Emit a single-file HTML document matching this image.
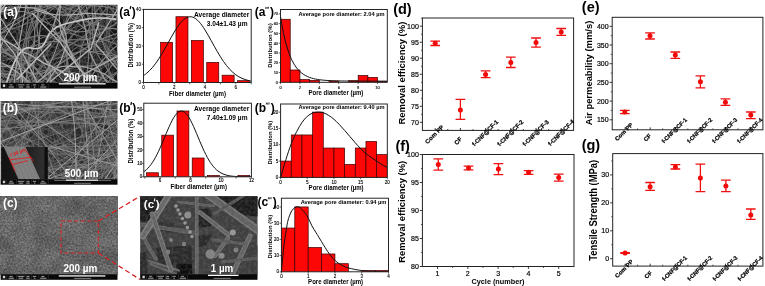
<!DOCTYPE html>
<html><head><meta charset="utf-8"><title>Figure</title>
<style>
html,body{margin:0;padding:0;background:#fff;}
body{width:765px;height:286px;overflow:hidden;font-family:"Liberation Sans",sans-serif;}
svg{display:block;}
svg text{font-family:"Liberation Sans",sans-serif;}
</style></head><body>
<svg width="765" height="286" viewBox="0 0 765 286" style="opacity:0.999">
<defs>
<clipPath id="clip1"><rect x="0.6" y="4.7" width="116.9" height="78.5"/></clipPath>
<filter id="b1" x="-5%" y="-5%" width="110%" height="110%"><feGaussianBlur stdDeviation="0.4"/></filter>
<clipPath id="clip2"><rect x="0.6" y="100.9" width="116.9" height="78.6"/></clipPath>
<filter id="b2" x="-5%" y="-5%" width="110%" height="110%"><feGaussianBlur stdDeviation="0.3"/></filter>
<clipPath id="inset"><rect x="1.2" y="147.1" width="46.6" height="32.5"/></clipPath>
<linearGradient id="insg" x1="0" y1="0" x2="1" y2="0"><stop offset="0" stop-color="#121212"/><stop offset="0.45" stop-color="#1a1a1a"/><stop offset="0.9" stop-color="#303030"/><stop offset="0.95" stop-color="#0c0c0c"/><stop offset="1" stop-color="#0c0c0c"/></linearGradient>
<filter id="noisec" x="0" y="0" width="100%" height="100%" color-interpolation-filters="sRGB"><feTurbulence type="fractalNoise" baseFrequency="0.55" numOctaves="3" seed="7" result="n"/><feColorMatrix in="n" type="matrix" values="0.36 0 0 0 0.25  0.36 0 0 0 0.25  0.36 0 0 0 0.25  0 0 0 0 1"/></filter>
<filter id="noisec2" x="0" y="0" width="100%" height="100%" color-interpolation-filters="sRGB"><feTurbulence type="fractalNoise" baseFrequency="0.06" numOctaves="2" seed="3" result="n"/><feColorMatrix in="n" type="matrix" values="0 0 0 0 0  0 0 0 0 0  0 0 0 0 0  -1.1 0 0 0 0.75"/></filter>
<clipPath id="clip4"><rect x="140.2" y="196.3" width="117.3" height="78.5"/></clipPath>
<filter id="b4" x="-5%" y="-5%" width="110%" height="110%"><feGaussianBlur stdDeviation="0.7"/></filter>
<filter id="noised" x="0" y="0" width="100%" height="100%" color-interpolation-filters="sRGB"><feTurbulence type="fractalNoise" baseFrequency="0.35" numOctaves="2" seed="11" result="n"/><feColorMatrix in="n" type="matrix" values="0 0 0 0 0.75  0 0 0 0 0.75  0 0 0 0 0.75  1.2 0 0 0 -0.42"/></filter>
<clipPath id="hc1"><rect x="143.5" y="9.4" width="107.7" height="73.1"/></clipPath>
<clipPath id="hc2"><rect x="143.8" y="103.2" width="107.6" height="73.6"/></clipPath>
<clipPath id="hc3"><rect x="280.5" y="9.5" width="106.8" height="72.8"/></clipPath>
<clipPath id="hc4"><rect x="280.6" y="104" width="106.7" height="73.4"/></clipPath>
<clipPath id="hc5"><rect x="281.4" y="198.2" width="107.1" height="73.6"/></clipPath>
</defs>
<rect width="765" height="286" fill="#fff"/>
<g clip-path="url(#clip1)">
<rect x="0.6" y="4.7" width="116.9" height="78.5" fill="#181818"/>
<g fill="none" stroke-linecap="round" stroke-linejoin="round" filter="url(#b1)">
<path d="M123.2 70Q120.9 67.4 118.5 64.8T113.4 60.1T107.8 55.8T102.2 51.7T96.2 48.1T89.6 46T82.7 45T75.8 45.4T69.5 48.2T64 52.5T59.2 57.6T55.4 63.4T52.4 69.7T49.5 76.1T46.3 82.3T43.6 88.7T42.4 95.6" stroke="#585858" stroke-width="0.73"/>
<path d="M7 -0.3Q5.2 2.7 4.2 6.1T1.6 12.5T-2.1 18.4T-5.6 24.4T-8.8 30.7" stroke="#535353" stroke-width="0.82"/>
<path d="M-4.2 29.7Q-1.1 28.2 2.2 26.8T8.7 24.3T15.3 22.1T21.9 19.6T28 16.3T33.2 11.7T37.7 6.4T41.9 0.8T44.7 -5.5" stroke="#3a3a3a" stroke-width="0.62"/>
<path d="M8.8 -2Q12 -0.6 15.5 -0.5T22.4 -0.9T29.3 -2.3T36.2 -3.3T43.2 -4.2T49.8 -6.3" stroke="#3f3f3f" stroke-width="0.69"/>
<path d="M38.6 88.1Q40.3 85.1 42.5 82.3T46.2 76.4T49.4 70.2T52.3 63.8T55.3 57.5T59.4 51.9T64.2 46.8T68.9 41.6T72.9 35.9T76.2 29.7T79 23.3T81 16.6T83.4 10.1T86.4 3.8T89 -2.7" stroke="#4f4f4f" stroke-width="0.89"/>
<path d="M39.5 -2.6Q36.1 -1.8 32.7 -0.9T26 1.1T19.2 2.2T12.2 2.6T5.2 3.1T-1.5 4.6T-7.4 8.2" stroke="#3d3d3d" stroke-width="0.74"/>
<path d="M104.6 -0Q103.4 3.2 102.4 6.6T101.6 13.4T102.4 20.4T104.6 27T108.1 33T111.8 38.9T115.6 44.8T121 48.9T127.7 50.6" stroke="#515151" stroke-width="0.7"/>
<path d="M60.9 0.2Q60.5 3.7 58.6 6.6T54 11.7T48.5 16.1T42.7 19.9T36.3 22.7T30 25.7T24.3 29.8T19 34.3T13.6 38.8T8.5 43.6T3.5 48.5T-1.5 53.4T-6.8 57.9" stroke="#3f3f3f" stroke-width="0.67"/>
<path d="M80.3 -2.6Q76.9 -1.9 73.5 -1.2T66.5 -0.2T59.7 1T52.8 2.1T45.8 2.7T38.9 3.3T31.9 3.9T25.1 5.4T18.3 6.8T11.3 7.4T4.3 7.9T-2.6 8.9T-9.5 10" stroke="#535353" stroke-width="0.78"/>
<path d="M-4.4 81.7Q-1.3 83.4 1.7 85.2T8.1 87.9T14.7 90.2T21.4 92.3" stroke="#4e4e4e" stroke-width="0.77"/>
<path d="M44 88.9Q41.4 86.5 38.8 84.2T34.1 79T29.5 73.9T24.5 69T19.4 64.2T14 59.8T8.5 55.4T2.4 52T-4.3 50.2T-10.8 48.1" stroke="#4f4f4f" stroke-width="0.83"/>
<path d="M-4.9 27.7Q-2.4 30.2 -0.3 33T4.3 38.2T8.9 43.5T12.9 49.2T16.1 55.4T19.3 61.6T24.6 65.4T31.3 67.4T38 69.3T44.8 70.8T51.7 71.7T58.5 70.5T65 68T71.5 65.2T77.9 62.4T83.9 58.9T89.3 54.5T94.2 49.6T97.9 43.7T100 37T100.9 30.1T100.8 23.1T101.1 16.3T101.1 9.4T99.7 2.6T98.9 -4.4" stroke="#4c4c4c" stroke-width="0.87"/>
<path d="M122 25.5Q118.5 25.1 115.1 25.5T108.1 26.2T101.2 25.8T94.3 24.4T87.5 22.9T80.8 20.8T74.2 18.6T67.7 16.1T61.7 12.6T56.5 7.8T52.4 2.2T48.6 -3.6" stroke="#4f4f4f" stroke-width="0.61"/>
<path d="M101.5 87.7Q101.5 84.2 101 80.7T101 73.8T102 66.9T103.5 60.1T106.3 53.7T109.8 47.7T114.5 42.5T120.1 38.4T125.9 34.5" stroke="#5f5f5f" stroke-width="0.74"/>
<path d="M22.6 88Q21.2 84.8 19.5 81.8T15.6 76T10.7 71T6.2 65.9T1.8 60.5T-3.5 55.9T-9.4 52.2" stroke="#414141" stroke-width="0.59"/>
<path d="M95.4 90.5Q91.9 89.9 88.9 88.2T82.4 85.7T75.6 84.2T68.7 83.3T61.7 82.6T54.7 82.1T47.7 81.7T40.7 81.3T33.7 81.1T26.7 81T19.8 80.3T12.9 79.4T6 80T-0.5 82.3T-6.9 85.3" stroke="#444444" stroke-width="0.87"/>
<path d="M96.5 87.8Q97.2 84.3 97.3 80.8T97.1 73.9T96.5 66.9T96.5 59.9T97.2 52.9T97.6 46T98.7 39.2T100.7 32.5T101.5 25.6T101.2 18.6T100.4 11.7T98.7 4.9T96.1 -1.5T92.7 -7.6" stroke="#3c3c3c" stroke-width="0.62"/>
<path d="M122.7 7.6Q119.8 9.7 117.1 11.9T112.3 16.8T107.5 21.9T102.4 26.7T98 32.1T95.2 38.4T94.9 45.3T94.9 52.3T94.7 59.2T95.4 66.2T97.1 73T99.7 79.5T102.9 85.6T106.4 91.7" stroke="#3b3b3b" stroke-width="0.82"/>
<path d="M75.7 0Q76.8 3.3 77.5 6.8T79.6 13.4T81.9 20T83.1 26.9T82.9 33.8T82.1 40.8T82.3 47.7T82.2 54.5T79.6 61T75.5 66.6T70.2 71T63.8 73.7T57 75.4T50.1 76.4T43.2 77.7T36.5 79.5T29.8 81.3T23.1 83.6T16.6 86T10 88.5T3.6 91.2T-2 95.3" stroke="#454545" stroke-width="0.63"/>
<path d="M57.9 88Q56.6 84.8 55.2 81.5T52.6 75T50.5 68.4T48.8 61.6T47.7 54.7T47.6 47.7T48 40.7T48.7 33.8T51 27.3T55.2 21.8T60.7 17.5T66.8 14.1T72.9 10.6T78.8 6.9T84.8 3.4T90.7 -0.4T96.3 -4.6" stroke="#545454" stroke-width="0.75"/>
<path d="M123.6 76.4Q121.8 79.3 119.8 82.2T115.3 87.5T110 92.1" stroke="#464646" stroke-width="0.8"/>
<path d="M-6.1 23.6Q-4.9 20.4 -3.7 17.1T-1.3 10.5T2 4.4T6.5 -0.9T11 -6.3" stroke="#464646" stroke-width="0.69"/>
<path d="M8 88.7Q5.5 86.2 2.8 84T-3 80.1T-8.9 76.4" stroke="#3d3d3d" stroke-width="0.71"/>
<path d="M-4.8 66.1Q-2.2 63.8 0.4 61.4T5.7 56.8T10.8 52.1T15.1 46.6T18.6 40.5T21.8 34.3T24.7 27.9T27.6 21.6T30.3 15.1T32.7 8.5T34.3 1.8T34.9 -5.2" stroke="#3f3f3f" stroke-width="0.72"/>
<path d="M80.1 -2.1Q76.8 -0.8 74.3 1.6T70.4 7.3T68.4 13.9T67.7 20.8T68.7 27.7T70.7 34.4T72.1 41.2T72.7 48.2T72.7 55.2T72 62.1T71 69.1T69.8 75.9T69.2 82.9T69.5 89.9" stroke="#5e5e5e" stroke-width="0.56"/>
<path d="M25.6 -0.3Q27.4 2.6 29.8 5.2T35.3 9.4T41.8 11.9T48.1 14.6T53.6 18.8T58.3 24T63.5 28.6T69.6 31.9T75.5 35.6T81.1 39.8T86.3 44.4T89.9 50.3T92 56.9T92.7 63.8T91.4 70.6T88.8 77.1T86.2 83.6T83.5 90T80.4 96.4" stroke="#5e5e5e" stroke-width="0.83"/>
<path d="M71.8 90Q68.5 88.8 65.6 86.7T60.2 82.3T54.8 77.9T49.8 73.1T45.3 67.7T41.2 62.1T37.3 56.2T33.5 50.4T29.5 44.6T25.4 38.9T21.5 33.1T17.5 27.4T14.3 21.3T12.6 14.5T12 7.5T11.8 0.5T12.2 -6.4" stroke="#4c4c4c" stroke-width="0.89"/>
<path d="M80.5 -3.1Q84 -2.9 87.5 -2.4T94.3 -0.8T100.4 2.3T105.6 7T110.1 12.3T114.4 17.9T118.5 23.5T122.4 29.4T125.6 35.6T128.4 41.9" stroke="#505050" stroke-width="0.8"/>
<path d="M-3.9 39.4Q-0.4 39 3 39.6T9.7 41.5T15.9 44.6T21.8 48.4T26.9 53.1T30.6 59T32.7 65.6T33.9 72.5T34.5 79.4T35.2 86.4T36.5 93.2" stroke="#464646" stroke-width="0.83"/>
<path d="M76.8 87.8Q75.9 84.5 74.2 81.4T71.4 75T68 68.9T64.2 63T61.1 56.8T58.9 50.2T57 43.5T55.3 36.7T55.3 29.8T56.2 22.8T57.5 15.9T59 9.1T61.1 2.5T63.1 -4.2" stroke="#474747" stroke-width="0.88"/>
<path d="M-5.6 28.6Q-3.9 31.6 -2.4 34.8T0.7 41.1T4.5 46.9T9.5 51.6T15.4 55.5T21.3 59.3T27.5 62.4T34.2 64.3T40.9 66.2T47.6 68.3T54.2 70.4T61 72.3T67.3 75T73.4 78.4T79.7 81.4T86.2 84.1T92.6 86.9T98.9 90T105 93.3" stroke="#5f5f5f" stroke-width="0.57"/>
<path d="M82.7 -0.6Q80.4 2 77.7 4.2T71.6 7.5T65.2 10.2T59.1 13.6T53.7 17.9T48.9 23T44 28.1T38.7 32.6T33.5 37.3T28 41.4T21.9 44.9T16.1 48.7T10.5 52.9T4.4 56.1T-2.4 58T-9.2 59.1" stroke="#606060" stroke-width="0.72"/>
<path d="M64.1 -0.4Q66.2 2.4 68.1 5.3T72.3 10.9T77.4 15.6T83 19.8T87.9 24.8T92.8 29.7T98 34.3T102.5 39.6T106.5 45.3T110.1 51.4T113 57.7T116 64T119 70.3T121.7 76.8T123.9 83.4T124.8 90.3" stroke="#4c4c4c" stroke-width="0.62"/>
<path d="M-4.5 74.1Q-1.6 76 1 78.4T5.9 83.4T10.9 88.3T16.7 92" stroke="#5f5f5f" stroke-width="0.89"/>
<path d="M33.6 -1.2Q30.8 0.9 27.7 2.6T21.3 5.2T14.8 7.8T8.3 10.1T1.4 10.9T-5.5 9.9T-12.2 7.9" stroke="#4e4e4e" stroke-width="0.59"/>
<path d="M112 89.1Q109.2 87 107.2 84.2T103.4 78.3T100.5 72T98.6 65.2T96.9 58.5T94.3 52T92.3 45.4T91.9 38.4T92.8 31.5T94.8 24.8T97.9 18.6T102.4 13.2T108 9.2T114.4 6.2T120.8 3.6T127 0.4" stroke="#3b3b3b" stroke-width="0.65"/>
<path d="M68.1 88.3Q66.1 85.4 63.7 82.8T59.7 77.2T56.1 71.2T51.8 65.7T46.5 61.2T41.8 56.2T38.2 50.2T34.6 44.1T30.5 38.5T25.5 33.6T19.6 30.1T13.1 27.5T7.1 24T1.2 20.3T-5.1 17.2T-11.5 14.3" stroke="#595959" stroke-width="0.82"/>
<path d="M123.2 9Q120.9 6.4 118.8 3.6T115 -2.2" stroke="#3c3c3c" stroke-width="0.69"/>
<path d="M-4.5 61.5Q-1.6 63.5 1.6 64.9T7.5 68.5T13.2 72.6T19.1 76.3T25.2 79.8T31.5 82.8T38.1 85T45 86.1T52 86.5T58.9 87.6T65.7 89T72.5 90.6T78.5 94" stroke="#404040" stroke-width="0.75"/>
<path d="M85.3 -0.1Q83.8 3 82.2 6.1T78.6 12.1T74.8 18T71 23.9T67.1 29.7T63 35.3T59.1 41.1T55.5 47.1T52.7 53.5T50.5 60.1T48.5 66.8T46.5 73.5T43.3 79.7T40.2 85.9T38.7 92.7" stroke="#535353" stroke-width="0.63"/>
<path d="M45.7 -1.3Q48.6 0.6 51.8 2T58.2 4.9T64.2 8.4T69.3 13.2T72.8 19.1T75.4 25.6T77.8 32.2T79.8 38.9T81.8 45.6T83.3 52.4T84.5 59.3T86.5 66T89.9 72.1T93.9 77.8T97 84T99.3 90.6" stroke="#454545" stroke-width="0.67"/>
<path d="M14 89.4Q11 87.6 8.3 85.3T2.9 80.9T-2.3 76.3T-7.7 71.8" stroke="#3e3e3e" stroke-width="0.82"/>
<path d="M-4.4 24.9Q-1.4 26.7 1.5 28.7T7 33.1T12.3 37.6T17.4 42.3T22.3 47.4T27.5 52T32.8 56.5T38 61.3T43.5 65.5T49.7 68.5T56.4 70.7T63.1 72.7T69.9 74.5T76.7 75.9T83.7 76.5T90.7 76.5T97.7 76.7T104.6 76.7T111.4 75.3T117.9 72.6T123.9 69.1T128.9 64.4" stroke="#525252" stroke-width="0.69"/>
<path d="M125.3 13.2Q125.1 16.7 124.6 20.1T123.6 27.1T123.1 34T123.4 41T124.4 47.9T126.1 54.7T129.2 60.9" stroke="#616161" stroke-width="0.55"/>
<path d="M123.7 68.3Q121.9 65.4 120.1 62.4T116.5 56.4T113.4 50.1T110.7 43.6T108.5 37T107.1 30.2T107.1 23.2T107.4 16.2T107.6 9.2T107.3 2.3T105.6 -4.5" stroke="#575757" stroke-width="0.86"/>
<path d="M93.7 -0.9Q91.1 1.5 89.4 4.6T85.5 10.3T81.5 16.1T78.3 22.3T75.3 28.6T72.3 34.9T69.8 41.4T67 47.8T62.9 53.5T57.2 57.2T50.5 58.9T43.5 59.3T36.6 58.5T29.7 57.2T22.8 56.4T15.9 57.3T9.1 59.1T2.5 61.1T-4 63.9T-10 67.3" stroke="#3f3f3f" stroke-width="0.61"/>
<path d="M104.8 -0.8Q107.3 1.7 110.2 3.7T116.1 7.3T122.4 10.5T128.3 14.1" stroke="#424242" stroke-width="0.8"/>
<path d="M123.9 61.7Q122.3 58.6 119.8 56.1T115 51T111 45.3T108 39T105.9 32.4T105.6 25.5T107.2 18.7T110 12.3T113.2 6T116.6 -0.1T121.4 -4.9" stroke="#464646" stroke-width="0.58"/>
<path d="M41.9 88.3Q43.9 85.4 46 82.7T50.8 77.5T55.7 72.6T59.6 66.9T62.7 60.6T66.1 54.5T68.8 48.1T70.7 41.3T71.7 34.5T71.5 27.5T71.2 20.5T70.7 13.5T69.8 6.6T68.8 -0.4T67.2 -7.2" stroke="#4d4d4d" stroke-width="0.66"/>
<path d="M109.3 0.1Q108.5 3.5 106.8 6.6T103.1 12.5T99.2 18.3T95.6 24.3T91.2 29.7T86.3 34.6T80.9 39T74.9 42.7T69 46.3T62.6 49.3T56.1 51.7T49.5 54.1T42.8 56.3T36 57.6T29 57.5T22.4 55.8T16.1 52.7T9.9 49.4T3.6 46.5T-3.1 44.3T-9.6 41.8" stroke="#595959" stroke-width="0.86"/>
<path d="M-4.1 9.1Q-0.8 8 2.5 6.6T9.1 4.6T15.8 2.5T22.4 0.5T29.4 -0.2T36.3 -0.4T43.3 -0.8T50.1 0.3T56.8 2.5T63.3 4.9T69.8 7.5T76.5 9.8T83.2 11.7T90 13.4T96.7 15.2T103.3 17.6T109.6 20.7T115.9 23.5T122.6 25.8T129 28.5" stroke="#3e3e3e" stroke-width="0.62"/>
<path d="M94 91Q90.6 90.9 87.1 90.2T80.2 89.2T73.2 88.7T66.5 89.9T60.1 92.8" stroke="#535353" stroke-width="0.58"/>
<path d="M122.1 65.6Q118.7 64.6 115.3 64.3T108.3 64.1T101.4 64.9T94.5 66.1T87.5 67.1T80.7 68.5T73.9 69.9T66.9 70.2T60 70.9T53.2 71.9T46.3 70.9T39.5 69.1T33.1 66.6T27.3 62.6T22.1 58T17 53.2T11.3 49.2T5.3 45.7T-1 42.7T-7.6 40.2" stroke="#484848" stroke-width="0.62"/>
<path d="M79.6 -0.3Q77.8 2.7 76.3 5.8T73.4 12.2T70.7 18.7T68.8 25.3T67.3 32.2T65.7 39T65 45.9T64.9 52.9T64.6 59.9T65.7 66.6T69.3 72.5T74.1 77.6T78.9 82.7T83.5 87.9T87.8 93.4" stroke="#555555" stroke-width="0.79"/>
<path d="M2.5 87.7Q2.7 84.2 2.6 80.7T3.2 73.8T3.9 66.8T3.7 59.8T3.7 52.9T4.6 46T4.8 39T4.5 32T3.8 25T3.3 18.1T4.1 11.2T5.9 4.4T8.1 -2.2" stroke="#4b4b4b" stroke-width="0.63"/>
<path d="M120.7 -2.6Q124.1 -1.9 127.5 -1.3" stroke="#616161" stroke-width="0.62"/>
<path d="M-4.1 71Q-0.8 72.1 2.2 73.9T8.4 77.2T14.7 80.2T20.7 83.8T26.2 88.2T30.7 93.4" stroke="#5d5d5d" stroke-width="0.59"/>
<path d="M122.3 45.3Q119.1 43.9 116.1 42.2T110.6 37.9T106.5 32.3T103.1 26.2T100.3 19.8T98 13.2T96 6.5T94.1 -0.3T92.4 -7" stroke="#5c5c5c" stroke-width="0.6"/>
<path d="M46.5 88.1Q44.8 85 43.5 81.8T42.2 75T41.6 68.1T41.5 61.2T42.7 54.3T45.8 48.2T49.4 42.3T52.6 36T56.4 30.2T61.3 25.4T67.6 22.3T73.7 19.1T79.4 15.1T85 10.9T90.5 6.5T95.6 1.8T100.3 -3.4" stroke="#4b4b4b" stroke-width="0.71"/>
<path d="M36.3 0.1Q35.7 3.6 35.4 7.1T34.7 14T33.3 20.9T30.7 27.3T28.2 33.8T27 40.7T25.6 47.5T23.4 54.1T20.2 60.2T15.6 65.5T10.7 70.5T5.7 75.4T0.5 80.1T-4.8 84.7T-9.4 89.8" stroke="#5f5f5f" stroke-width="0.78"/>
<path d="M-4.7 34.1Q-2 31.9 0.8 29.8T6.8 26.1T12.7 22.4T18.2 18.1T23.8 13.9T28.9 9.2T33.6 3.9T38.6 -0.9T43.9 -5.5" stroke="#4a4a4a" stroke-width="0.79"/>
<path d="M24 -2.1Q27.3 -0.9 30.6 0.3T37.2 2.6T43.8 5T50.1 8T56.8 9.7T63.8 9.6T70.4 7.7T76.4 4.2T82.2 0.3T87.7 -4.1" stroke="#5f5f5f" stroke-width="0.6"/>
<path d="M-6.6 38.4Q-5.8 35 -6.5 31.5T-8.4 24.8" stroke="#3e3e3e" stroke-width="0.81"/>
<path d="M93.7 89Q96.4 86.8 99.1 84.5T104.7 80.3T109.9 75.8T113.7 70T117.2 64T121.2 58.2T124.6 52.1T127.5 45.7" stroke="#3b3b3b" stroke-width="0.87"/>
<path d="M-4.5 36.3Q-1.6 38.3 1.8 39.2T8.7 40.1T15.6 39.9T22.5 38.7T29.4 37.4T36.3 36.9T43.3 36T50.1 34.6T56.9 33T63.6 31.1T70.2 28.7T76.9 26.8T83.8 25.6T90.5 23.6T96.8 20.5T102.8 16.9T108.7 13.2T115.2 10.9T122.1 9.6T128.9 8.3" stroke="#454545" stroke-width="0.64"/>
<path d="M34.8 90.9Q38.3 90.5 41.8 90.5T48.7 89.6T55.4 87.8T62.3 86.9T69.2 87.6T76 89.3T82.8 91.1T89.7 91.9T96.7 91.5T103.4 89.9T109.9 87.3T116.2 84.2T122.3 80.8T128.4 77.4" stroke="#505050" stroke-width="0.87"/>
<path d="M39.4 -2.7Q42.8 -2.1 45.9 -0.4T51.8 3.4T57 8T61.3 13.4T63.3 19.9T63 26.9T61.4 33.7T58.3 39.9T53.7 45T48.6 49.8T43.9 55T38.8 59.8T33.3 64.1T27.7 68.3T21.5 71.3T14.6 72.1T7.7 71.2T0.8 69.9T-5.9 68.2T-12.7 66.6" stroke="#505050" stroke-width="0.86"/>
<path d="M-8.3 74.6Q-9.2 71.2 -10.6 68" stroke="#5c5c5c" stroke-width="0.89"/>
<path d="M51.4 -0.7Q53.8 1.8 56.5 4T62 8.3T66.9 13.3T70.7 19.1T73.7 25.4T75.8 32.1T77.5 38.9T78.9 45.7T80.5 52.5T81.9 59.4T82.9 66.3T83.4 73.3T83.3 80.3T83.2 87.3T83.8 94.2" stroke="#505050" stroke-width="0.56"/>
<path d="M-4.8 20.6Q-2.3 18.2 0 15.5T4.3 10T8.1 4.1T11.6 -1.9T15.4 -7.8" stroke="#484848" stroke-width="0.87"/>
<path d="M122.2 84.4Q118.9 85.7 115.7 86.9T109.2 89.5T102.7 92.1" stroke="#3c3c3c" stroke-width="0.56"/>
<path d="M53 -1.2Q55.8 1 58.8 2.8T64.9 6.2T70.7 10.1T75.9 14.7T80.8 19.8T84.9 25.4T87.4 31.8T88.8 38.6T89.7 45.5T88.3 52.2T85.6 58.7T83.1 65.2T80.9 71.9T80.5 78.8T82.3 85.4T85.3 91.8" stroke="#545454" stroke-width="0.56"/>
<path d="M-5.9 84.4Q-4.3 87.6 -2.8 90.7" stroke="#5d5d5d" stroke-width="0.76"/>
<path d="M-5.3 54.9Q-3.3 57.7 -2.7 61.1T-2.4 68.1T-3 75.1T-3.7 82T-4.7 88.9T-6.2 95.8" stroke="#595959" stroke-width="0.72"/>
<path d="M57.5 -0.9Q60.1 1.5 62.3 4.1T67 9.4T71.9 14.4T76.5 19.7T81.2 24.9T86 29.9T90.9 34.9T96.1 39.6T101.6 43.9T107.3 48T113.1 51.8T119.1 55.4T125.4 58.5" stroke="#5f5f5f" stroke-width="0.65"/>
<path d="M78.2 -3.1Q81.7 -2.9 85.2 -2.8T92.1 -3.4T98.7 -5.6" stroke="#4d4d4d" stroke-width="0.85"/>
<path d="M122.6 11Q119.6 12.9 116.6 14.8T110.8 18.5T104.9 22.3T99.2 26.4T93.8 30.9T88.6 35.5T83.5 40.3T78 44.6T71.7 47.7T65.4 50.6T59.3 54T53.4 57.8T47.4 61.2T40.7 63.5T34.1 65.6T27.3 67.1T20.3 66.9T13.4 66.3T6.5 66.9T-0.2 68.9T-6.4 72.1T-12.4 75.6" stroke="#404040" stroke-width="0.64"/>
<path d="M-4.5 71.1Q-1.6 69.1 1.2 67T6.1 62.2T10 56.4T13.5 50.3T16.7 44.1T17.6 37.5T15.2 31T10.8 25.7T5.3 21.4T-0.5 17.5T-6.9 14.8" stroke="#555555" stroke-width="0.73"/>
<path d="M-4.6 43.4Q-1.7 45.4 1.2 47.4T6.7 51.6T11.9 56.4T16.8 61.3T21.8 66.3T26.4 71.5T30.6 77.1T34 83.2T35.8 89.9" stroke="#5f5f5f" stroke-width="0.68"/>
<path d="M123.9 33.5Q122.3 36.6 121.9 40.1T121.6 47.1T122.3 54T124.8 60.4T128.3 66.4" stroke="#555555" stroke-width="0.82"/>
<path d="M-4 50.1Q-0.5 49.4 2.8 50.5T9.4 52.7T16 55T22.8 56.9T29.3 59T35.6 62.2T41.3 66.2T46.1 71.3T49.2 77.3T50.7 84.2T51.8 91.1" stroke="#4d4d4d" stroke-width="0.82"/>
<path d="M45.4 88.5Q43.1 85.9 40.9 83.2T36.2 78T30.9 73.5T25.4 69.2T19.8 65T14.5 60.5T9.2 56T3 52.9T-3.2 49.8T-8.9 45.7" stroke="#4e4e4e" stroke-width="0.69"/>
<path d="M123.1 75.6Q120.8 78.1 118.1 80.4T112.9 85.1T107.9 90T102.6 94.5" stroke="#575757" stroke-width="0.77"/>
<path d="M122.1 55.8Q118.6 55.1 115.5 53.5T109.4 50.2T103.3 46.7T96.7 44.6T89.8 44.4T82.8 45.2T75.9 45.5T68.9 45.1T62 45.4T55.1 46.8T48.2 47.6T41.2 47.1T34.6 45T28.1 42.5T21.6 40T15.3 37.1T9.4 33.4T3.8 29.1T-2 25.3T-8.1 21.9" stroke="#404040" stroke-width="0.56"/>
<path d="M-4 68.9Q-0.5 69.6 2.4 71.5T7.6 76T12.6 80.9T18.2 85.2T24 89T29.9 92.8" stroke="#4b4b4b" stroke-width="0.56"/>
<path d="M-5.2 35.1Q-2.9 37.8 -0.6 40.4T4.1 45.6T8.8 50.7T14 55.5T19.6 59.6T25.3 63.6T30 68.7T33.9 74.5T37.8 80.3T41.1 86.4T44.5 92.6" stroke="#555555" stroke-width="0.56"/>
<path d="M-5.8 69.1Q-4.2 66 -2 63.2T2.7 58.1T8 53.5T12.9 48.6T16 42.4T17.8 35.7T19 28.8T19.5 21.8T19.7 14.8T18.7 8T16.3 1.5T13.9 -5.1" stroke="#5c5c5c" stroke-width="0.63"/>
<path d="M-3.9 9.3Q-0.4 9.3 3.1 9.4T10 8.9T16.9 7.7T23.5 5.4T28.9 1.1T32.7 -4.7" stroke="#4a4a4a" stroke-width="0.87"/>
<path d="M68.8 91.2Q72.3 91.1 75.7 91.9T82.4 93.9" stroke="#5e5e5e" stroke-width="0.65"/>
<path d="M4.6 -0.5Q6.7 2.3 8.1 5.5T11.4 11.7T15.3 17.5T19 23.4T22.7 29.3T27.1 34.7T32.4 39.2T38.5 42.7T45.1 44.8T51.9 46.4T58.5 48.7T64.5 52.2T70.2 56.3T75.9 60.3T80.9 65.2T85.6 70.3T91.1 74.6T97.6 77T104.1 79.2T110.4 82.3T116.8 85.1T123.5 87.3T130.3 88.9" stroke="#4e4e4e" stroke-width="0.9"/>
<path d="M66.1 -2.1Q69.3 -0.9 72.8 -0.4T79.7 0.9T86.6 1.9T93.6 2.2T100.6 2T107.5 1T114.2 -0.9T120.1 -4.5" stroke="#525252" stroke-width="0.55"/>
<path d="M73.4 88.5Q75.6 85.8 78.3 83.5T83.7 79.1T89.5 75.1T95.6 71.7T101.7 68.3T107.8 64.8T113.7 61.2T119.6 57.4T126 54.7" stroke="#5e5e5e" stroke-width="0.81"/>
<path d="M-4.1 55.7Q-0.8 56.8 2.6 57.7T9.5 59T16.5 59.5T23.4 59.2T30.4 58.6T37.3 57.6T44.2 56.2T51.1 55.6T58.1 54.9T65 54T72 53.1T78.8 51.6T85.6 50T92.5 49.5T99.5 49.6T106.5 50T113.4 51T120.3 51.6T127.3 51.8" stroke="#505050" stroke-width="0.63"/>
<path d="M60 89Q62.7 86.9 65.7 84.9T71.5 81.2T77.5 77.5T83.1 73.3T88.6 69T94.4 65.1T100.8 62.4T107.6 60.5T114.4 59T121 56.9T127.6 54.7" stroke="#434343" stroke-width="0.61"/>
<path d="M123.5 16.4Q121.5 19.2 119 21.7T113.9 26.5T109 31.5T104.5 36.8T99.8 42T94.6 46.7T88.8 50.6T82.9 54.3T77.4 58.6T72.1 63.2T67 68T63.6 73.9T61.2 80.5T58 86.7T54.9 92.9" stroke="#494949" stroke-width="0.85"/>
<path d="M-6.5 16.9Q-5.7 20.3 -4 23.4T-1.5 29.9T1.1 36.2T4.3 42.4T7.7 48.5T12.2 53.8T17.3 58.6T22.9 62.8T29 66.2T35.5 68.5T42.3 70.2T48.5 73.2T54.5 77T60.6 80.2T66.9 83.4T73.4 86T80.1 87.7T86.9 89.5T93.7 91.3T100.5 92.8" stroke="#565656" stroke-width="0.63"/>
<path d="M122.1 19.3Q118.6 20 115.1 20.2T108.2 20.2T101.2 20.4T94.7 22.6T89.8 27.2T85.8 33T82.4 39T80.3 45.7T78.3 52.3T75 58.5T70.9 64.2T66.1 69.2T60.6 73.6T55.1 77.9T49.9 82.5T45.5 87.9T41.5 93.7" stroke="#474747" stroke-width="0.58"/>
<path d="M-4.3 75.2Q-1.2 73.5 1.3 71.1T6.3 66.2T10.9 61T14.7 55.1T17.9 48.9T19.8 42.2T19.8 35.3T19.1 28.3T18.6 21.3T17.8 14.4T18 7.5T20.1 0.8T22.6 -5.7" stroke="#606060" stroke-width="0.79"/>
<path d="M123.9 55.2Q122.2 52.1 120 49.3T115.8 43.8T112 37.9T108.9 31.7T107.1 25T106.9 18T107.4 11T108.2 4.1T110 -2.7" stroke="#575757" stroke-width="0.75"/>
<path d="M26.4 87.8Q27.1 84.4 28.6 81.2T32.1 75.2T36.7 69.9T41.6 64.9T47 60.6T52.9 56.8T58.5 52.7T63.4 47.7T68.3 42.7T74.2 39.3T81.1 38.5T88 38.9T94.7 40.6T100.6 44.3T105.6 49.2T108.8 55.2T110.5 62T111.9 68.9T112.7 75.8T113.5 82.8T114.7 89.7T116.4 96.4" stroke="#3d3d3d" stroke-width="0.61"/>
<path d="M122.4 42.1Q119.3 40.5 117 37.8T112.4 32.5T107.2 28T101 24.9T94.1 23.8T87.2 24.2T80.4 25.7T73.7 27.9T67.5 30.9T61.4 34.3T55.7 38.3T51.2 43.6T47.6 49.6T44.5 55.9T42.5 62.5T41.3 69.4T39.5 76.1T38.6 83T38.7 90" stroke="#5d5d5d" stroke-width="0.67"/>
<path d="M123.8 75.6Q122.1 72.6 120 69.8T115.8 64.2T112 58.3T108.9 52T107.1 45.3T105.7 38.5T103.5 31.8T100.5 25.5T97.3 19.3T94.6 12.9T93 6.1T92.2 -0.9T91.7 -7.8" stroke="#545454" stroke-width="0.73"/>
<path d="M51.7 89.5Q54.7 87.8 57.7 86T63.5 82T69.2 78.1T75 74.1T80.5 69.8T85.6 65T89.5 59.3T91.3 52.6T92 45.7T92.9 38.7T93.9 31.8T95.2 24.9T96.2 18T96.4 11T95.2 4.2T93.5 -2.6" stroke="#3c3c3c" stroke-width="0.64"/>
<path d="M49.2 87.7Q49.5 84.2 50.2 80.8T52.3 74.2T56 68.2T60.7 63.1T66.6 59.7T73.3 57.7T80.2 56.9T87.1 57.5T93.9 59T100.6 61.1T107.3 63.1T113.5 66.2T119.6 69.7T126 72.4" stroke="#535353" stroke-width="0.8"/>
<path d="M-3.9 38.4Q-0.5 37.8 2.9 37T9.4 34.6T15.3 30.9T21 26.8T26.6 22.6T32.3 18.6T38.2 14.8T44.3 11.4T50.8 8.9T57.7 7.9T64.7 7.7T71.7 7.8T78.5 9.2T84.6 12.3T90 16.8T94.7 21.9T99.2 27.2T103.6 32.6T106.9 38.8T110 45.1T114.2 50.6T119.8 54.7T126 57.8" stroke="#5a5a5a" stroke-width="0.59"/>
<path d="M-6.6 72.2Q-5.7 68.9 -4.5 65.6T-2 59T0.3 52.4T2.7 45.9T6.5 40.1T11 34.8T15 29.1T18.6 23T22.3 17.1T26.4 11.4T31.2 6.4T36.5 1.8T42.1 -2.3T48.4 -5.3" stroke="#525252" stroke-width="0.55"/>
<path d="M-5.3 14.3Q-3.1 11.5 -1 8.7T3.5 3.3T8.7 -1.2T14.8 -4.7" stroke="#494949" stroke-width="0.64"/>
<path d="M124 63.7Q122.5 60.6 120.5 57.7T115.8 52.6T109.7 49.5T102.9 47.8T96 46.6T89.2 47.2T82.4 49.1T76.4 52.3T70.7 56.4T64.5 59.7T58.3 62.7T52.3 66.4T46 69.3T39.3 71.1T32.4 72.4T25.4 72.9T18.4 72.8T11.5 72.1T4.7 70.3T-1.9 68.2T-8.2 65.3" stroke="#3e3e3e" stroke-width="0.71"/>
<path d="M-4 48.7Q-0.5 49.3 3 49.8T9.8 51.1T16.5 53T23.2 55.2T29.9 57.1T36.7 59T43.5 60.3T50.3 61.9T56.1 65.5T60.9 70.6T64.7 76.4T67.4 82.9T67.8 89.7T66.6 96.6" stroke="#515151" stroke-width="0.59"/>
<path d="M-4 65.5Q-0.5 66.1 2.8 67.1T9.5 69.4T15.8 72.4T21.6 76.3T25.7 81.6T27.6 88.3T28.3 95.3" stroke="#3c3c3c" stroke-width="0.81"/>
<path d="M9.2 -2.8Q12.6 -2.4 16.1 -2.6T23.1 -2.8T30 -3.4T36.9 -4.5T43.9 -4.6T50.8 -5" stroke="#4c4c4c" stroke-width="0.79"/>
<path d="M15.4 -3.6Q11.9 -3.9 8.6 -5.1" stroke="#5a5a5a" stroke-width="0.76"/>
<path d="M83.1 90.2Q86.4 89.2 89.5 87.6T96 84.9T102.7 83.2T109.7 82.8T116.7 83.3T123.6 83.5T130.6 83.5" stroke="#3a3a3a" stroke-width="0.77"/>
<path d="M100.3 87.9Q99.2 84.6 98.4 81.2T97.4 74.3T97.3 67.3T97.8 60.3T98.7 53.4T99.8 46.5T99.8 39.6T98.4 32.7T96.9 25.9T95.6 19T94.9 12.1T94.6 5.1T93.3 -1.7T92.6 -8.6" stroke="#434343" stroke-width="0.55"/>
<path d="M-4.8 39.7Q-2.1 42 1 43.5T7.4 46.4T14 48.5T20.9 48.8T27.9 48.2T34.9 48.2T41.8 49T48.5 50.9T55.1 53.4T61.8 55.5T68.5 57.4T75.2 59.4T81.9 61.3T88.7 62.9T95.6 64.2T102.6 65T109.5 65.7T116.4 65T123 62.8T129.2 59.6" stroke="#525252" stroke-width="0.83"/>
<path d="M124.9 9Q124.4 5.6 123.9 2.1T122.9 -4.8" stroke="#5d5d5d" stroke-width="0.84"/>
<path d="M122 72.1Q118.5 72.2 115 72.6T108.1 73.6T101.3 75.2T94.7 77.6T88.6 80.9T83.5 85.6T79.8 91.5" stroke="#494949" stroke-width="0.62"/>
<path d="M15 -1Q17.6 1.3 20.6 3.2T26 7.5T31.2 12.2T36.2 17T40.8 22.3T45.1 27.8T49.6 33.2T55.2 37.2T61.6 40T68.3 41.8T75.2 42.7T82.2 42.9T89.2 43.4T95.9 45.2T102.4 47.9T109 50.1T115.7 52.2T122.4 53.7T129.4 54.6" stroke="#404040" stroke-width="0.79"/>
<path d="M104.5 0.1Q105.4 3.4 105.6 6.9T106.5 13.9T107.3 20.8T107 27.8T106.4 34.7T105.9 41.7T105 48.6T103.2 55.4T101.4 62.2T100.1 69T98.3 75.8T96 82.4T93.8 89T92.4 95.8" stroke="#5f5f5f" stroke-width="0.85"/>
<path d="M122.6 83.7Q119.6 85.6 117.8 88.6T114.3 94.6" stroke="#474747" stroke-width="0.85"/>
<path d="M124.8 33.9Q124.1 30.5 123.8 27T122.8 20.1T121.3 13.3T120.2 6.4T119.4 -0.6T119.5 -7.5" stroke="#414141" stroke-width="0.72"/>
<path d="M39.5 88.2Q41.3 85.2 42.5 81.9T44.6 75.3T46.9 68.7T50.1 62.4T54.1 56.7T57.4 50.8T60 44.3T62.4 37.7T63.4 30.8T64.2 23.9T65.1 17T65.7 10T65.6 3.1T64.7 -3.8" stroke="#525252" stroke-width="0.84"/>
<path d="M124.1 64.5Q122.7 67.7 121.4 70.9T118.8 77.5T116.4 84T115.2 90.8" stroke="#505050" stroke-width="0.74"/>
<path d="M24.3 0.2Q24.7 3.7 26.1 6.9T28.8 13.3T32.7 18.9T37.9 23.6T43 28.4T47.7 33.6T52.4 38.8T57.6 43.4T63.7 46.6T70.5 48.3T77.5 48.7T84.4 47.8T91.3 46.5T98.1 45.1T105 43.6T111.7 41.8T118.2 39.2T124.8 36.9" stroke="#434343" stroke-width="0.59"/>
<path d="M106.9 88.1Q108.4 84.9 110.4 82T114.2 76.1T117.9 70.2T122.3 64.9T127.9 60.7" stroke="#494949" stroke-width="0.61"/>
<path d="M81.3 89.4Q84.3 87.6 87.7 86.6T94.6 85.9T101.5 86.8T108.2 88.6T115 90.4T121.8 92T128.6 93.8" stroke="#494949" stroke-width="0.87"/>
<path d="M123.4 15.9Q121.3 13.1 119.6 10T116.6 3.7T113.8 -2.7" stroke="#525252" stroke-width="0.72"/>
<path d="M35.1 87.7Q35 84.2 34.5 80.7T33.7 73.8T32 67.1T28.4 61.1T23.6 56.1T18.1 51.9T13.4 46.8T8.4 42.4T1.9 40T-4.9 38.3T-11.8 37.7" stroke="#525252" stroke-width="0.82"/>
<path d="M122.1 83.3Q118.6 83.9 115.1 83.7T108.3 82.4T101.7 80.2T94.9 78.3T88 77.6T81.1 78.3T74.3 79.8T67.6 81.8T61.1 84.6T54.6 87.1T48 89.3T41.2 90.6T34.2 90.5T27.3 89.5T20.5 87.8T13.8 86T7 84.3T0.5 81.7T-5.4 78T-10.7 73.4" stroke="#515151" stroke-width="0.87"/>
<path d="M60 88.6Q62.3 86.1 64.6 83.3T69 77.9T73.1 72.3T77.3 66.7T81.6 61.2T85.6 55.4T89.5 49.6T93.1 43.6T96.8 37.7T101.1 32.2T106.1 27.3T111.5 22.8T116.8 18.3T122.7 14.7T129.4 13.7" stroke="#3a3a3a" stroke-width="0.57"/>
<path d="M-5 83.4Q-2.6 85.9 -0.3 88.5T4.2 93.9" stroke="#5a5a5a" stroke-width="0.77"/>
<path d="M66.4 89.8Q63.2 88.4 59.9 87.4T53.7 84.4T48 80.2T42 76.7T35.7 73.6T30 69.8T25.1 64.8T21 59.1T17.3 53.2T13.6 47.3T8.8 42.3T2.8 38.8T-3.4 35.7T-9.6 32.3" stroke="#3b3b3b" stroke-width="0.58"/>
<path d="M26.1 -1Q28.7 1.4 30.7 4.3T34.3 10.3T37.3 16.6T40.8 22.5T45.6 27.7T50.8 32.4T55.6 37.4T59.3 43.2T60.9 49.9T60.9 56.9T60.9 63.9T61.7 70.8T63.1 77.7T65.5 84.2T69.7 89.7T74.8 94.5" stroke="#3a3a3a" stroke-width="0.72"/>
<path d="M53.7 87.7Q53.3 84.3 52.8 80.8T52 73.8T50.9 66.9T49.3 60.1T46.8 53.6T42.7 48.1T38 42.9T32.9 38.3T26.5 35.5T19.8 33.6T13 32.1T6 31.4T-1 31.6T-7.7 33.3" stroke="#4c4c4c" stroke-width="0.56"/>
<path d="M58.4 90.2Q61.8 89.2 65.1 87.9T71.3 84.8T76.8 80.5T81.9 75.7T86.5 70.5T90.4 64.7T93.6 58.5T97 52.4T100.1 46.1T102.5 39.6T104.9 33T107.3 26.4T109.5 19.8T111.5 13.1T113.1 6.3T115.3 -0.4T118 -6.8" stroke="#3a3a3a" stroke-width="0.74"/>
<path d="M122.2 41Q118.8 42.1 115.5 43.2T109.4 46.3T104 50.8T99.2 55.9T94.6 61.2T89.1 65.3T83 68.8T76.7 71.7T70 73.8T63.2 75.1T56.2 75.5T49.2 75.9T42.2 76.2T35.4 77.2T28.8 79.6T22.1 81.8T15.2 82.5T8.3 82.7T1.6 84.5T-4.9 87.1T-11.6 89.3" stroke="#454545" stroke-width="0.74"/>
<path d="M-6.3 54.7Q-5.3 51.3 -3.2 48.6T0.4 42.6T3.2 36.2T5.5 29.6T8 23T10.8 16.6T13.7 10.3T16.1 3.7T18.1 -3" stroke="#454545" stroke-width="0.86"/>
<path d="M-4.5 65Q-1.5 66.9 1.5 68.6T7.4 72.4T13.2 76.3T19.1 80T24.6 84.4T29.4 89.4T33.7 94.9" stroke="#5e5e5e" stroke-width="0.62"/>
<path d="M80.3 -1.2Q77.4 0.9 74.3 2.4T67.8 4.9T60.9 6.1T54 5.9T47.1 4.6T40.5 2.3T33.8 0.2T27 -1.4T20.1 -1.9T13.1 -1.7T6.1 -1.9T-0.9 -2.6T-7.7 -4.1" stroke="#3d3d3d" stroke-width="0.67"/>
<path d="M122.5 67.4Q119.6 65.5 116.2 64.6T109.4 63.3T102.4 63.1T95.5 64.2T88.8 66.1T82 67.8T75.8 70.8T70.4 75.2T65.9 80.5T62.6 86.7T59.8 93.1" stroke="#414141" stroke-width="0.89"/>
<path d="M123.2 43.5Q121 40.8 118.5 38.4T113.5 33.5T108.7 28.4T105 22.5T102.3 16.1T99.5 9.7T95.6 3.9T90.7 -1.1T85.8 -6" stroke="#4c4c4c" stroke-width="0.68"/>
<path d="M43.9 -0.3Q42.1 2.7 39.3 4.8T33.3 8.3T26.7 10.6T19.8 11.7T12.9 12.5T6 13.6T-0.9 14.1T-7.9 14.5" stroke="#525252" stroke-width="0.89"/>
<path d="M-5 64.9Q-2.6 67.4 -0.6 70.3T3 76.3T5.7 82.7T8.6 89T12.6 94.7" stroke="#5f5f5f" stroke-width="0.77"/>
<path d="M124 30.4Q122.4 33.6 120.3 36.4T115.5 41.3T110.1 45.8T104.7 50.2T98.7 53.9T92.4 56.9T86.3 60.2T80.2 63.6T73.8 66.4T67.3 69T60.8 71.7T54.5 74.8T49.1 79T45 84.6T41.2 90.5" stroke="#3d3d3d" stroke-width="0.79"/>
<path d="M11.3 -1.5Q8.3 0.4 5.7 2.7T0.1 6.9T-5.5 11T-11.3 14.9" stroke="#434343" stroke-width="0.58"/>
<path d="M123.4 62.5Q121.3 65.3 119.2 68.1T115 73.7T110.5 79.1T105.5 84T99.8 87.9T93.2 89.8T86.2 90.6T79.3 91.5T72.3 92.3T66 94.6" stroke="#4c4c4c" stroke-width="0.71"/>
<path d="M-7.4 54.3Q-7.4 57.8 -7.1 61.3T-6.8 68.3T-5.9 75.2T-3.3 81.6T0.4 87.6T5.1 92.6" stroke="#484848" stroke-width="0.81"/>
<path d="M41.3 -1.8Q44.4 -0.4 47.4 1.5T53.3 5.2T59.5 8.4T66 11T72.3 14.1T78.4 17.5T84.9 20.2T91.6 21.8T98.6 22.2T105.5 21.3T112.5 20.4T119.4 19.4T126.2 18" stroke="#525252" stroke-width="0.64"/>
<path d="M110.6 87.7Q110.9 84.2 110 80.8T108.4 74T106.7 67.2T106.2 60.4T106.9 53.4T107.7 46.4T108.8 39.5T109.7 32.6T110.6 25.6T111.9 18.8T112.9 11.9T113.9 4.9T116.3 -1.6T119.3 -7.9" stroke="#606060" stroke-width="0.9"/>
<path d="M83 -1.8Q86.1 -0.2 89.1 1.7T94.8 5.8T100 10.4T105.6 14.5T112 17.1T118.7 19.2T125.3 21.4" stroke="#454545" stroke-width="0.88"/>
<path d="M50.2 -1.3Q53.1 0.8 55.7 3T61.2 7.4T66.2 12.3T71 17.3T76.3 21.9T81.6 26.4T87.2 30.6T93.2 34.3T99.3 37.6T105.8 40.3T112.3 42.7T119 44.5T126 45.1" stroke="#797979" stroke-width="1.04"/>
<path d="M22.9 88.4Q25 85.6 27.5 83.2T32.5 78.2T36.6 72.6T40 66.6T43.4 60.5T46.8 54.3T50.3 48.3T54.5 42.7T59.8 38.2T65.6 34.2T71.2 30.1T76.2 25.2T80.6 19.8T84.5 14T88.9 8.5T94.2 4.1T100.4 0.8T107 -1.3T113.9 -2.2T120.9 -2.7T127.9 -3" stroke="#666666" stroke-width="0.98"/>
<path d="M122.7 27.7Q119.9 25.6 117.1 23.5T111.4 19.4T105.9 15T101.4 9.8T97.4 4T93.7 -1.9T90.3 -8" stroke="#6a6a6a" stroke-width="0.95"/>
<path d="M122.9 60.5Q120.3 58.2 117.4 56.2T111.2 53.3T104.3 51.9T97.4 51.3T90.4 51.5T83.4 51.8T76.5 52.6T69.7 54.5T63.1 56.6T56.3 58.5T49.8 60.9T43.8 64.5T39.5 69.7T36.5 76.1T33.5 82.4T30.4 88.6T27.6 95" stroke="#6f6f6f" stroke-width="1.13"/>
<path d="M67.1 89.4Q64.1 87.5 61 86T54.7 82.8T48.6 79.3T42.9 75.3T37.5 70.9T32.4 66.1T27.4 61.2T22.4 56.3T17.2 51.7T12.1 46.9T7.9 41.3T3.4 36.1T-1.7 31.2T-6.9 26.6" stroke="#707070" stroke-width="0.83"/>
<path d="M0.3 -1.7Q-2.8 -0 -5.6 2.1T-11.2 6.3" stroke="#696969" stroke-width="1.06"/>
<path d="M60.9 90.4Q57.5 89.5 54.3 88.1T47.9 85.2T41.8 82T35.8 78.3T30.5 73.9T25.7 68.8T20.6 64T15.2 59.6T9.5 55.5T3.9 51.3T-2.1 47.9T-8.6 45.3" stroke="#6e6e6e" stroke-width="1.2"/>
<path d="M-0.8 89.7Q-3.9 88.1 -7.3 87" stroke="#6f6f6f" stroke-width="0.99"/>
<path d="M88.3 -0.9Q85.8 1.5 82.8 3.3T76.5 6.3T69.8 8.6T63.5 11.4T57.6 15T51.1 17.8T44.4 19.7T37.6 21.1T30.7 22.4T24.1 24.6T17.6 27.2T11.1 29.9T4.5 32.2T-2.3 33.8T-9.2 34.9" stroke="#6f6f6f" stroke-width="0.91"/>
<path d="M92.3 89.3Q95.2 87.4 98.1 85.5T103.7 81.3T109.3 77T115.2 73.4T121.6 70.5T128.1 67.9" stroke="#7e7e7e" stroke-width="0.81"/>
<path d="M51.8 89.7Q55 88.2 58.2 86.9T64.6 83.9T70.9 80.9T77.2 78T83.5 74.9T89.6 71.4T95.5 67.7T101.7 64.5T107.8 61.1T113.7 57.2T119.8 54T125.7 50.5" stroke="#808080" stroke-width="1.2"/>
<path d="M-4.5 31.4Q-1.6 33.3 1 35.6T6 40.6T10.7 45.7T15.5 50.8T20.3 56T25.2 60.9T30.6 65.3T35.9 69.9T40.7 75T46.1 79.2T52.6 81.6T59.4 83.3T66.2 84.8T73.1 86.2T80 86.4T86.7 84.6T93.2 82.1T99.8 79.6T106.4 77.4T112.8 74.6T119.2 71.8T125.7 69.3" stroke="#747474" stroke-width="0.89"/>
<path d="M119 -1.3Q121.9 0.6 124.6 2.8T129.5 7.8" stroke="#858585" stroke-width="0.85"/>
<path d="M122 60.2Q118.5 60.2 115 60.2T108.1 60.8T101.5 63T94.9 65.3T88 65.9T81 66.4T74.1 67.5T67.4 69.4T60.8 71.7T54.3 74.3T48.2 77.6T42.2 81.2T36.1 84.7T30.1 88.1T23.9 91.5" stroke="#7a7a7a" stroke-width="0.96"/>
<path d="M84.8 0Q85.9 3.3 86.4 6.8T87.4 13.7T88.5 20.6T89.7 27.5T90.2 34.4T89.8 41.4T89.1 48.4T88.6 55.3T88.1 62.3T87.4 69.2T88.2 76.2T90 82.9T92.5 89.4T95.4 95.8" stroke="#818181" stroke-width="1.05"/>
<path d="M111.4 -1.6Q108.3 0.1 105.6 2.3T100.3 6.8T95.7 12.1T92.4 18.2T90.1 24.8T87.8 31.4T85.2 37.9T82.5 44.4T80.7 51.1T79.9 58T79.7 65T79.4 72T78 78.8T76.4 85.6T75.1 92.5" stroke="#797979" stroke-width="1.05"/>
<path d="M123.5 21.6Q121.4 18.8 120 15.6T117.2 9.2T114.8 2.6T113.6 -4.2" stroke="#858585" stroke-width="1.12"/>
<path d="M57.3 -2.4Q60.7 -1.6 64.2 -1T71 0.5T77.9 1.7T84.9 1.9T91.9 1.7T98.8 0.9T105.8 -0T112.7 -0.6T119.6 -1.6T126.6 -2.4" stroke="#7d7d7d" stroke-width="1.06"/>
<path d="M49.3 0.1Q48.6 3.5 47.4 6.8T45.1 13.4T42.7 20T40.5 26.7T39.6 33.5T39.3 40.5T38.3 47.4T36.8 54.3T34.8 61T33.3 67.7T33.7 74.6T35.1 81.5T36.1 88.4T38.6 94.7" stroke="#838383" stroke-width="1.13"/>
<path d="M97.6 -1.1Q94.9 1.1 92.4 3.5T87.4 8.5T82.5 13.4T77.4 18.2T72.2 22.8T66.8 27.4T61 31.2T54.8 34.4T49.1 38.4T44.6 43.7T40.7 49.5T36.9 55.4T32.3 60.5T26.1 63.5T19.3 64.7T12.3 65.3T5.4 65.1T-1.6 64.5T-8.5 64.2" stroke="#6f6f6f" stroke-width="1.13"/>
<path d="M40.5 0.2Q40.1 3.7 39.1 7T37.7 13.9T36.5 20.7T35.1 27.6T34.7 34.6T34.6 41.6T33.2 48.3T31.1 55T29.3 61.8T27.6 68.6T26.6 75.5T26.1 82.5T26 89.5T25.8 96.5" stroke="#878787" stroke-width="1.14"/>
<path d="M103.1 88.3Q105.1 85.4 107.4 82.8T112.2 77.8T117.4 73T122.3 68.1T127 62.9" stroke="#717171" stroke-width="0.98"/>
<path d="M122.2 12.4Q118.8 13.4 115.5 14.6T108.9 16.7T102.3 19.1T95.9 21.9T89.4 24.6T83.1 27.6T77.2 31.2T71.8 35.7T68.3 41.5T67 48.3T66.9 55.3T67.7 62.3T69 69.2T69.4 76.1T70.2 83T72.2 89.7T74.2 96.4" stroke="#8b8b8b" stroke-width="0.98"/>
<path d="M-3.9 48.5Q-0.5 49 3 49.7T9.9 49.9T16.9 49.7T23.8 49T30.5 47.1T37.1 45T43.8 42.9T50.6 41.7T57.6 41.4T64.6 40.6T71.5 39.8T78.5 39.7T85.5 39.6T92.1 37.8T98.3 34.5T104.2 30.7T110 26.9T116 23.2T121.6 19T126.6 14.2" stroke="#7c7c7c" stroke-width="1.12"/>
<path d="M32.4 87.8Q31.5 84.5 30 81.3T27.1 74.9T24.1 68.6T19.8 63.2T14.5 58.7T9 54.4T3.8 49.7T-0.6 44.2T-5 38.9T-10.1 34.1" stroke="#828282" stroke-width="1.08"/>
<path d="M123 30.9Q120.5 33.3 118.1 35.8T113.1 40.7T109.4 46.5T107.8 53.2T107.7 60.2T108.7 67.1T110.9 73.7T114.1 79.9T117 86.3T119.5 92.8" stroke="#7c7c7c" stroke-width="0.82"/>
<path d="M35.2 90.3Q31.9 89.4 28.4 88.6T21.6 87.2T14.7 85.7T8 83.7T1.5 81.2T-5 78.8T-11.5 76.1" stroke="#838383" stroke-width="0.98"/>
<path d="M72.7 90.9Q69.2 90.6 65.7 90T58.8 89.2T51.8 88.6T44.9 88T37.9 87.2T31 86.3T24.2 84.6T17.8 81.9T11.3 79.3T4.7 77T-2 75.1T-8.7 73" stroke="#676767" stroke-width="1.11"/>
<path d="M-4.2 62.9Q-1 61.4 2.4 60.8T9.1 59T15.9 57.7T22.9 58.1T29.7 59.8T36 62.7T42.1 66.2T48.3 69.4T54.7 72.2T60.8 75.6T67.1 78.7T73.5 81.4T80 84.1T86.3 87.2T92.3 90.7T98.3 94.4" stroke="#666666" stroke-width="0.84"/>
<path d="M40.7 89.7Q37.5 88.1 34.4 86.6T28.4 83.1T22.5 79.3T16.2 76.2T9.5 74.4T2.6 73.5T-4.4 73.1T-11.4 73" stroke="#848484" stroke-width="1.2"/>
<path d="M14.3 88.3Q12.4 85.4 10.7 82.4T7.2 76.3T3.8 70.2T-0.1 64.4T-5.1 59.5T-10.9 55.6" stroke="#727272" stroke-width="0.92"/>
<path d="M15.5 -2.6Q12 -2 8.6 -1.4T1.7 -0.3T-5 1.6T-11.4 4.3" stroke="#7c7c7c" stroke-width="0.82"/>
<path d="M-7.1 39.5Q-6.7 36 -6.5 32.5T-6.6 25.5T-7 18.5T-6.2 11.6T-5.5 4.7T-5.8 -2.3" stroke="#6f6f6f" stroke-width="1.12"/>
<path d="M83 88.3Q85 85.4 86.6 82.3T89 75.8T90.9 69T92 62.2T92.7 55.2T93.9 48.3T94.6 41.4T94.8 34.4T94.1 27.5T91.7 21T88.1 15T83.7 9.6T78.7 4.7T73.1 0.7T66.7 -2.2T59.9 -3.2T52.9 -3.6T46 -4.6T39.1 -5.7" stroke="#808080" stroke-width="0.81"/>
<path d="M19.6 89.4Q16.6 87.6 13.6 85.8T7.4 82.6T1.1 79.5T-5 76.3T-11.4 73.5" stroke="#6f6f6f" stroke-width="1.09"/>
<path d="M91.3 -1Q88.6 1.3 86.3 3.9T81.7 9.2T77.7 14.9T74.3 21T70.1 26.5T64.8 31.1T59.4 35.6T54.1 40.1T48.4 44.1T42.5 47.9T37 52.2T31.8 56.9T26.3 61.2T20.9 65.6T16.8 71.2T13.3 77.3T9.7 83.3T6.5 89.4T3.8 95.9" stroke="#767676" stroke-width="1.13"/>
<path d="M122.1 8Q118.8 7 115.4 6.1T108.7 4.1T102.3 1.4T95.7 -0.6T88.7 -1.1T81.7 -1.2T74.7 -1.7T67.9 -0.9T61.8 2.3T56.1 6.3T50.6 10.6T45.6 15.5T40.7 20.5T36 25.6T31.7 31.2T29.2 37.5T28.2 44.4T28.2 51.4T28.7 58.4T29.7 65.3T31.2 72.1T32.6 78.9T33.6 85.9T35.3 92.6" stroke="#727272" stroke-width="1.03"/>
<path d="M-4 50.4Q-0.5 51 2.8 52.3T9.3 54.7T15.9 57.2T22.3 59.9T28.6 62.9T34.4 66.8T38.8 72.2T43.3 77.4T49 81.5T55.4 84.2T62.2 85.7T69.1 87.1T75.8 88.9T82.5 90.9T89.3 92.7" stroke="#858585" stroke-width="1.14"/>
<path d="M100.5 -2.1Q97.2 -0.8 93.9 0.3T87.2 2.3T80.5 4.2T73.7 5.8T66.8 5.4T60.4 2.7T54.6 -1.1T49.3 -5.7" stroke="#8b8b8b" stroke-width="0.87"/>
<path d="M113.3 88.1Q111.7 85 109.3 82.4T103.7 78.4T97.1 76.3T90.2 75.2T83.3 74.3T76.3 73.2T69.5 71.9T62.6 70.6T55.7 69.6T48.7 69.8T41.9 71.2T35.2 73.3T29.1 76.6T23.5 80.8T17.9 85T13.2 90T9.3 95.8" stroke="#848484" stroke-width="0.88"/>
<path d="M123 71.9Q120.6 69.4 118.2 66.9T113.7 61.5T109.5 55.9T105.9 49.9T103.1 43.5T100.7 37T99 30.2T97.2 23.4T95.6 16.6T94.9 9.7T94.5 2.7T93.7 -4.3" stroke="#7c7c7c" stroke-width="1.12"/>
<path d="M82.8 -2.3Q86.2 -1.4 89.7 -0.8T96.6 0.3T103.6 0.6T110.5 0.8T117.5 1.2T124.5 1.6" stroke="#6d6d6d" stroke-width="0.92"/>
<path d="M23.1 87.7Q23.7 84.3 24.9 81T26.8 74.3T27.6 67.4T28.3 60.4T30 53.7T32.3 47.1T34 40.3T34.6 33.4T33.6 26.5T31.6 19.8T29.4 13.2T26.2 6.9T22.3 1.2T17.4 -3.7" stroke="#7c7c7c" stroke-width="0.93"/>
<path d="M-4.4 50.7Q-1.5 52.5 1.5 54.3T7.6 57.9T13.3 61.9T18.1 66.9T21.9 72.8T24.3 79.3T25.6 86.2T26.5 93.1" stroke="#7e7e7e" stroke-width="0.86"/>
<path d="M6.8 88.2Q8.6 85.1 9.8 81.8T12.5 75.4T15.6 69.1T18.4 62.7T21.9 56.8T26.4 51.4T30.9 46.1T36 41.3T42 37.9T48.7 35.9T55.5 34.2T62.4 33T69.3 33.2T76.1 34.8T82.7 37.3T88.9 40.3T94.5 44.5T99.5 49.3T104.9 53.8T110.5 58T115.9 62.5T120.4 67.7T124.3 73.5T128.1 79.4" stroke="#838383" stroke-width="0.84"/>
<path d="M56.4 -0.6Q54.2 2.2 51.6 4.5T46.5 9.2T40.9 13.4T34.8 16.9T28.9 20.7T23.3 24.8T17 27.6T10.1 28.8T3.1 29.2T-3.8 29.8T-10.6 31.3" stroke="#676767" stroke-width="0.87"/>
<path d="M71.9 -1.7Q68.8 -0.1 65.7 1.5T59.3 4.2T52.7 6.7T46.2 9.1T39.5 11.1T33.1 13.9T27 17.4T21 20.9T15 24.5T9 28.1T3.3 32.1T-2.1 36.5T-7.8 40.7" stroke="#8b8b8b" stroke-width="1.09"/>
<path d="M14.5 87.8Q15.3 84.4 16 80.9T17.3 74.1T18.9 67.3T20.3 60.4T21.8 53.6T24.3 47.1T26.9 40.6T29 34T31.6 27.5T35.1 21.5T39.5 16T44.4 11T49.8 6.5T55.3 2.3T61.3 -1.1T68.1 -2.6T75.1 -2.8T82.1 -2.6T89.1 -2.2T95.9 -1T102.4 1.5T108 5.6T112.6 10.8T116.5 16.6T119.4 23T121.8 29.6T123.1 36.3T123.4 43.3T123.4 50.3T123.1 57.3T123.2 64.3T123.3 71.3T123.7 78.3T124.4 85.2T125.1 92.2" stroke="#666666" stroke-width="1.2"/>
<path d="M82.5 -1.7Q79.4 -0 76 0.3T69 0.9T62 1.3T55.2 2.6T48.6 4.8T41.8 6.5T34.9 7.7T27.9 8.1T21 7.4T14.1 6.9T7.1 7.4T0.1 7.8T-6.9 8.6" stroke="#757575" stroke-width="1"/>
<path d="M122.4 8.1Q119.2 6.5 116.5 4.4T111.2 -0.2T105.8 -4.7" stroke="#6d6d6d" stroke-width="1.11"/>
<path d="M77.9 -0.5Q75.9 2.4 73.9 5.2T70 11.1T67.1 17.4T65.4 24.2T64.4 31.1T63.4 38T64.1 44.7T65.9 51.4T67 58.3T67.8 65.3T68.2 72.3T69.4 79.1T71.3 85.9T73.5 92.5" stroke="#747474" stroke-width="1.14"/>
<path d="M-4.9 34.7Q-2.5 32.2 0.3 30.1T6.3 26.5T12.2 22.8T18 18.9T24.1 15.4T30.2 12.2T36.8 9.9T43.4 7.7T50.1 5.5T56.9 4.2T63.9 3.4T70.9 3.2T77.8 3.7T84.8 4.7T91.7 5.6T98.7 6.1T105.6 7T112.5 8.4T119.1 10.6T125.2 13.9" stroke="#898989" stroke-width="1"/>
<path d="M62.5 -0.1Q61.1 3.2 59.6 6.3T56.9 12.7T55.1 19.5T54.7 26.4T56.1 33.2T59 39.6T62.4 45.7T66 51.7T70 57.4T74.6 62.7T79.4 67.8T83.6 73.3T88.3 78.4T94 82.6T100.1 85.9T106.4 89T112.8 91.6T119.5 93.7" stroke="#838383" stroke-width="0.83"/>
<path d="M93.9 0.1Q93 3.5 92.5 6.9T92.4 13.9T92.5 20.9T92.3 27.9T92.6 34.8T93.6 41.8T95.3 48.6T97.9 55T101.6 60.9T105.7 66.6T109.2 72.6T112 79.1T114.5 85.6T117.9 91.6" stroke="#747474" stroke-width="1.17"/>
<path d="M46.8 -0.9Q49.4 1.4 51.7 4T56.9 8.7T62.9 12.3T69.3 15.1T75.7 17.8T82.3 20.3T88.9 22.5T95.6 24.6T102.3 26.5T109.2 27.9T116 29.2T123 29.7T130 29.3" stroke="#7c7c7c" stroke-width="0.93"/>
<path d="M52.5 90.7Q56 90.3 59.5 90.1T66.5 90.1T73.5 90T80.4 89.3T87.4 88.4T94.2 87T101 85.4T107.8 83.8T114.7 82.3T121.6 81.3T128.4 79.8" stroke="#7d7d7d" stroke-width="0.83"/>
<path d="M122.3 31.7Q119 33.1 115.7 34T109.1 36.3T102.6 38.8T96 41.3T90.1 44.9T84.4 48.9T78.3 52.4T72.3 56.1T66.4 59.8T60.5 63.5T54.4 67.1T48.4 70.6T42 73.3T35.2 74T28.4 72.4T22 69.8T15.3 67.7T8.4 66.5T1.4 66.3T-5.6 66.3T-12.6 66" stroke="#868686" stroke-width="1.18"/>
<path d="M35.1 -1.3Q38 0.6 41.3 1.8T48 3.5T55 4.6T61.7 6.4T68.3 8.8T74.9 10.9T81.7 12.7T88.4 14.8T95.1 16.6T102 17.8T109 18.4T116 18.6T122.9 18T129.7 16.4" stroke="#808080" stroke-width="0.81"/>
<path d="M86 90.1Q89.3 89 92.8 88.9T99.8 88.9T106.8 89.4T113.7 89.9T120.7 90.2T127.6 89.4" stroke="#6a6a6a" stroke-width="0.92"/>
<path d="M-6.4 26.9Q-5.4 30.3 -5.4 33.8T-5.8 40.8T-7.1 47.6T-10.1 53.8" stroke="#6f6f6f" stroke-width="0.99"/>
<path d="M-5.8 59.8Q-4.3 62.9 -2.1 65.7T1.7 71.5T5.8 77.2T10.2 82.6T13.8 88.6T16.2 95.1" stroke="#858585" stroke-width="0.93"/>
<path d="M17.8 -1.5Q14.8 0.4 12.4 2.9T8.3 8.5T5.7 15T3.5 21.6T0.7 28T-2.5 34.3T-6.1 40.2T-10.8 45.3" stroke="#686868" stroke-width="0.92"/>
<path d="M97.9 -3.6Q101.4 -3.9 104.9 -4.1T111.9 -4.7T118.8 -5.9" stroke="#717171" stroke-width="1.06"/>
<path d="M20.4 87.7Q20.6 84.2 20.7 80.7T21.2 73.7T21.6 66.7T21.6 59.7T22.2 52.8T23.4 45.9T25.2 39.2T27.6 32.6T29.9 26T32.5 19.5T34.2 12.8T35.5 6T36.8 -0.9T37.3 -7.8" stroke="#787878" stroke-width="1.08"/>
<path d="M26.4 0.1Q27.2 3.5 27.8 7T28.1 13.9T27.7 20.9T26.9 27.8T26 34.7T26.2 41.7T26.4 48.7T26 55.7T24.7 62.5T22.4 69.1T20 75.7T17.9 82.3T14.7 88.4T10.8 94.2" stroke="#6c6c6c" stroke-width="1.12"/>
<path d="M87 88Q88.5 84.9 89.6 81.5T92.4 75.2T96.3 69.4T100.2 63.6T104.7 58.2T109.2 52.9T114 48T119.7 44T124.9 39.3T128.8 33.6" stroke="#8c8c8c" stroke-width="1.01"/>
<path d="M-3.9 71.6Q-0.5 71 3 71.1T9.9 72T16.6 74T22.9 77T28.7 80.9T34.3 85T39.7 89.5T44.2 94.8" stroke="#666666" stroke-width="0.86"/>
<path d="M60.2 88.9Q57.6 86.5 55.4 83.8T51.4 78.1T48 72T44.7 65.8T40.7 60.1T35.5 55.4T29.5 51.9T22.9 49.8T15.9 49.4T9 49.4T2 48.9T-4.9 49.4T-11.8 50.9" stroke="#666666" stroke-width="1.15"/>
<path d="M122.2 30.1Q118.9 29 115.4 28.7T108.4 28.6T101.4 29T94.5 29.8T87.6 31T80.6 31.8T73.7 31.1T67 29.3T60.2 27.5T53.5 25.5T47 22.9T41.1 19.3T35.4 15.3T29 12.7T22.1 11.5T15.1 11.1T8.2 10.3T1.5 8.4T-5.1 6T-11.7 3.6" stroke="#7f7f7f" stroke-width="1.12"/>
<path d="M50.2 87.7Q50.2 84.2 50.4 80.7T50.6 73.7T49.2 67T46.1 60.7T43.2 54.4T40.6 47.9T38.9 41.1T37.8 34.2T37 27.3T37.3 20.3T38.3 13.4T40.6 6.9T44.2 0.9T48.6 -4.5" stroke="#878787" stroke-width="1.18"/>
<path d="M-3.9 76.2Q-0.5 75.7 2.9 74.9T9.8 74.3T16.7 75.3T23.2 77.7T29.2 81.4T34.6 85.8T39.4 90.8" stroke="#808080" stroke-width="0.9"/>
<path d="M28.2 88Q29.6 84.8 32.1 82.3T37.4 77.7T43 73.6T48.3 69.1T53.7 64.8T59.7 61T65.1 56.6T70.4 52.1T76 47.9T82.3 45.1T89 43.1T95.8 41.9T102.7 41.1T109.5 39.3T116.3 37.7T123.2 36.4T130.1 35.2" stroke="#7d7d7d" stroke-width="0.87"/>
<path d="M-4.3 56.7Q-1.2 55.1 1.7 53.1T7.4 49.1T13.4 45.4T19.4 41.8T25.6 38.7T32.3 36.7T39.2 35.6T46.1 36T52.8 38.1T59.4 40.2T66.2 41.6T73 43.5T79.4 46.1T85.6 49.4T92.1 52T98.9 53.5T105.8 54.6T112.7 55.7T119.4 57.6T125.4 61.1" stroke="#7b7b7b" stroke-width="1.02"/>
<path d="M62.4 88Q63.8 84.8 64.5 81.4T65.6 74.5T66.3 67.5T66.5 60.5T65.2 53.7T62.8 47.2T60.3 40.6T57.6 34.2T53.6 28.6T48.9 23.3T45.3 17.4T42.7 10.9T39.9 4.5T36.5 -1.6T33.1 -7.7" stroke="#737373" stroke-width="0.9"/>
<path d="M-5.1 65Q-2.7 67.7 -0.3 70.1T4.7 75.1T9.9 79.8T15.8 83.3T21.9 86.8T27.7 90.7T33.2 94.9" stroke="#6a6a6a" stroke-width="0.86"/>
<path d="M49.9 87.7Q49.9 84.2 49.5 80.7T48.6 73.8T48.5 66.9T51 60.5T55.6 55.3T61 50.9T66.8 46.9T72.7 43.2T78.6 39.5T84.4 35.6T89.9 31.3T94.3 26T97.9 19.9T101.7 14.1T106.5 9.1T111.9 4.6T117.7 0.6T123.6 -3.1T129.7 -6.5" stroke="#6a6a6a" stroke-width="1.14"/>
<path d="M122.6 55.6Q119.8 57.6 117.2 59.9T112.3 65T107.9 70.3T103.3 75.6T99.3 81.3T96.4 87.7T94.8 94.4" stroke="#7d7d7d" stroke-width="1.16"/>
<path d="M113.8 89.1Q116.6 86.9 119.1 84.5T124.1 79.6T129 74.6" stroke="#6b6b6b" stroke-width="1.13"/>
<path d="M-5.1 39Q-2.8 36.3 -0.1 34T4.7 29.1T9.2 23.7T13 17.8T16.1 11.5T18.4 5T19.4 -1.9" stroke="#7d7d7d" stroke-width="0.93"/>
<path d="M123.2 65Q120.9 62.4 118.4 59.9T113.6 54.8T109 49.5T104.8 44T100.8 38.3T96.8 32.5T92.5 27T87.9 21.8T83.7 16.2T80.2 10.1T76.1 4.5T71.5 -0.8T66.2 -5.2" stroke="#7e7e7e" stroke-width="0.9"/>
<path d="M32.6 88.4Q34.7 85.6 37.2 83.1T42.1 78.1T46.2 72.5T49.1 66.1T51.7 59.6T54.5 53.2T56.9 46.7T59.1 40T61.6 33.5T64.4 27.1T67.6 20.8T71.7 15.2T76.6 10.2T81.9 5.7T87.9 2.2T94.1 -1T100.3 -4.4" stroke="#969696" stroke-width="1.03"/>
<path d="M125.6 72.9Q125.7 76.4 125.8 79.9T124.9 86.8T122.7 93.5" stroke="#bdbdbd" stroke-width="1.42"/>
<path d="M3.8 88.2Q2 85.2 -0 82.4T-4.7 77.3T-10.1 72.8" stroke="#9b9b9b" stroke-width="1.4"/>
<path d="M26.3 89.5Q29.4 87.8 32.2 85.7T37.8 81.5T43.3 77.3T48.8 72.9T54.6 69T61.1 66.7T68 66.3T75 66.3T82 66.5T88.8 68T95.4 70.4T101.9 72.9T108 76.3T113.8 80.1T120 83.4T126.2 86.6" stroke="#a5a5a5" stroke-width="1.28"/>
<path d="M34.7 88.7Q32.2 86.3 29.9 83.6T25 78.6T19.7 74.1T14 70.1T8 66.4T1.9 63T-4.4 60T-10.8 57.2" stroke="#9f9f9f" stroke-width="1.35"/>
<path d="M-4.8 31.1Q-2.2 33.4 0.1 36.1T4.5 41.5T8.9 46.9T13.3 52.4T16.7 58.4T19.1 65T21 71.7T22.2 78.6T22.6 85.6T22.7 92.6" stroke="#b0b0b0" stroke-width="1.25"/>
<path d="M111.5 89.8Q108.3 88.5 105.2 86.8T99.2 83.1T93.5 79.2T87.7 75.2T81.9 71.3T77.2 66.3T73.9 60.1T70.9 53.8T67.9 47.5T65.3 41T62.5 34.6T60.3 28T59.4 21.1T59.5 14.1T60.3 7.1T61.1 0.2T62.3 -6.7" stroke="#a8a8a8" stroke-width="1.28"/>
<path d="M84.3 88.5Q82.1 85.7 79.5 83.4T73.9 79.2T67.9 75.6T61.9 72.2T55.8 68.7T49.5 65.7T43.2 62.7T37.2 59T31.2 55.5T24.8 52.6T18.8 49.1T13.1 45.1T7 41.7T0.4 39.3T-6.3 37.4" stroke="#b5b5b5" stroke-width="1.36"/>
<path d="M-4.3 14.6Q-1.3 12.9 2 11.6T8.6 9.5T15.5 8.1T22.4 7.5T29.4 7.6T36.3 8.7T43 10.6T49.4 13.5T55.2 17.4T59.8 22.6T63.4 28.6T65.9 35.1T66.6 41.9T65.1 48.7T62.8 55.3T60.3 61.8T56.9 67.9T52.9 73.6T48.9 79.4T45.3 85.4T42.4 91.7" stroke="#a6a6a6" stroke-width="1.21"/>
<path d="M8.2 -0.9Q5.6 1.5 3.2 4T-1.2 9.4T-4.7 15.4T-6.7 22.1T-7.2 29T-7 36T-6.4 43T-5.3 49.9T-4.3 56.8T-3.3 63.8T-2.5 70.7T-1.4 77.6T-0.1 84.5T1.4 91.3" stroke="#b2b2b2" stroke-width="1.25"/>
<path d="M-5.3 18.4Q-3.3 15.5 -1 12.8T3.2 7.3T7.4 1.7T11.4 -4.1" stroke="#b5b5b5" stroke-width="1.36"/>
<path d="M124.5 17.6Q123.4 14.3 122.1 11T119.4 4.6T116.9 -2T114.3 -8.4" stroke="#bababa" stroke-width="1.01"/>
<path d="M-6 60.5Q-4.5 57.3 -2.9 54.2T0.2 47.9T3.1 41.5T6.2 35.3T9.9 29.4T13.3 23.3T16.1 16.9T18.8 10.4T20.8 3.8T21.3 -3.2" stroke="#a8a8a8" stroke-width="1.05"/>
<path d="M75.9 -0.1Q77.4 3 78.6 6.3T81 12.9T82.9 19.6T84.6 26.4T86.1 33.3T87.3 40.1T88.6 47T90.5 53.7T93.4 60.1T96.8 66.2T100.4 72.2T104.2 78.1T108.2 83.8T111.4 90" stroke="#9a9a9a" stroke-width="1.33"/>
<path d="M115.7 19.4Q100 17 89.5 18.7T64.8 24T46.3 39.5T30.9 48T9.3 74.9T3 82.6" stroke="rgb(200,200,200)" stroke-width="1.7"/>
<path d="M35.5 10.2Q52 16 69.4 14.8T86.4 13.3T118 15" stroke="rgb(175,175,175)" stroke-width="1.2"/>
<path d="M26.2 5L18.5 48L14 84" stroke="rgb(165,165,165)" stroke-width="1.2"/>
<path d="M32.4 13.3L60.2 42.6L86.4 78" stroke="rgb(180,180,180)" stroke-width="1.3"/>
<path d="M0 17L20 48L38 84" stroke="rgb(170,170,170)" stroke-width="1.2"/>
<path d="M98.8 22.5L91 48.6L50.9 81" stroke="rgb(185,185,185)" stroke-width="1.3"/>
<path d="M118 8.6L95.7 44L118 70.2" stroke="rgb(170,170,170)" stroke-width="1.2"/>
<path d="M50.9 44L17 79.5" stroke="rgb(190,190,190)" stroke-width="1.4"/>
<path d="M66.4 44L86.4 78" stroke="rgb(160,160,160)" stroke-width="1.1"/>
<path d="M118 56.3L64.8 84" stroke="rgb(175,175,175)" stroke-width="1.2"/>
<path d="M43.2 56.3L63.3 81" stroke="rgb(165,165,165)" stroke-width="1.1"/>
<path d="M60 5L52 30L66 44" stroke="rgb(160,160,160)" stroke-width="1.1"/>
</g>
</g>
<rect x="0.6" y="82.8" width="116.9" height="5.8" fill="#080808"/>
<rect x="2.8" y="84.3" width="2.4" height="2.8" fill="#cfcfcf"/>
<rect x="9.4" y="84.4" width="3.3" height="1" fill="#9c9c9c"/>
<rect x="8.6" y="86.5" width="5.4" height="1" fill="#a8a8a8"/>
<rect x="17.8" y="84.4" width="6.6" height="1" fill="#9c9c9c"/>
<rect x="18.6" y="86.5" width="4.6" height="1" fill="#a8a8a8"/>
<rect x="26.5" y="84.4" width="3" height="1" fill="#9c9c9c"/>
<rect x="26.2" y="86.5" width="3.6" height="1" fill="#a8a8a8"/>
<rect x="32.8" y="84.4" width="3.4" height="1" fill="#9c9c9c"/>
<rect x="33.8" y="86.5" width="1.6" height="1" fill="#a8a8a8"/>
<rect x="41.2" y="84.4" width="3.3" height="1" fill="#9c9c9c"/>
<rect x="40.2" y="86.5" width="6.2" height="1" fill="#a8a8a8"/>
<rect x="6.6" y="83.6" width="0.5" height="4.2" fill="#444"/>
<rect x="16.5" y="83.6" width="0.5" height="4.2" fill="#444"/>
<rect x="25.7" y="83.6" width="0.5" height="4.2" fill="#444"/>
<rect x="31.6" y="83.6" width="0.5" height="4.2" fill="#444"/>
<rect x="38.6" y="83.6" width="0.5" height="4.2" fill="#444"/>
<rect x="47.9" y="83.6" width="0.5" height="4.2" fill="#444"/>
<rect x="74.1" y="86.7" width="17" height="0.9" fill="#8a8a8a"/>
<rect x="58.8" y="83.2" width="46.9" height="1.25" fill="#fff"/>
<text x="80.4" y="80.5" font-size="10.4" font-weight="bold" text-anchor="middle" fill="#fff" textLength="33.8" lengthAdjust="spacingAndGlyphs" >200 µm</text>
<text x="3.2" y="16" font-size="12" font-weight="bold" text-anchor="start" fill="#fff" >(a)</text>
<g clip-path="url(#clip2)">
<rect x="0.6" y="100.9" width="116.9" height="78.6" fill="#262626"/>
<g fill="none" stroke-linecap="round" stroke-linejoin="round" filter="url(#b2)">
<path d="M-4.9 164.5Q-2.4 158 0.1 151.4T5 138.3T10.2 125.3T15.5 112.4T20.7 99.3T25.6 86.2" stroke="#636363" stroke-width="0.52"/>
<path d="M66.4 186Q59.5 184.5 52.7 183.1T39 180.2T25.3 177.1T11.7 173.8T-1.9 170.7T-15.6 167.7" stroke="#525252" stroke-width="0.56"/>
<path d="M75.2 184.9Q81.7 182.3 88.1 179.6T101 174.1T113.8 168.5T126.6 162.7" stroke="#5d5d5d" stroke-width="0.42"/>
<path d="M118.6 118.5Q111.7 117.4 104.8 116.2T91 113.8T77.2 111.4T63.4 108.9T49.7 106.2T36 103.2T22.4 99.9T8.8 96.7T-4.9 93.8" stroke="#484848" stroke-width="0.49"/>
<path d="M89.7 180.6Q90.6 173.6 91.3 166.6T92.5 152.7T93.5 138.7T94.5 124.8T95.2 110.8T95.7 96.8" stroke="#484848" stroke-width="0.59"/>
<path d="M65.7 180.6Q67 173.7 68.3 166.9T70.9 153.1T73.7 139.4T76.8 125.7T80.1 112.1T83.5 98.6T87.2 85.1" stroke="#6a6a6a" stroke-width="0.56"/>
<path d="M-0.8 98.8Q5.7 96.3 12.2 93.8T25.3 88.7" stroke="#494949" stroke-width="0.54"/>
<path d="M124.3 141Q123.1 134.1 121.8 127.2T119.3 113.4T117.1 99.6T115.1 85.7" stroke="#575757" stroke-width="0.48"/>
<path d="M-3.1 138.4Q1.2 144 5.5 149.5T14.2 160.5T23.1 171.3T32.3 181.8T41.5 192.4" stroke="#545454" stroke-width="0.52"/>
<path d="M28.2 97.9Q23.3 102.9 18.4 107.9T8.6 118T-1 128.1T-10.5 138.4" stroke="#5b5b5b" stroke-width="0.52"/>
<path d="M21.6 99.9Q21.6 106.9 21.5 113.9T21.6 127.9T21.9 141.9T22.5 155.9T23.3 169.9T23.8 183.8" stroke="#646464" stroke-width="0.41"/>
<path d="M69.3 99.7Q67.6 106.5 65.7 113.2T61.7 126.6T57.7 140T53.8 153.5T50.1 167T46.6 180.5T42.9 194" stroke="#676767" stroke-width="0.6"/>
<path d="M35.5 185.9Q28.7 184.2 21.8 182.7T8.2 179.4T-5.3 176" stroke="#616161" stroke-width="0.49"/>
<path d="M71.2 180.7Q72.9 173.9 74.6 167.1T78 153.6T81.3 140T84.2 126.3T86.7 112.5T89.4 98.7T92.3 85.1" stroke="#484848" stroke-width="0.57"/>
<path d="M120.2 155.6Q115 160.2 109.6 164.6T99.1 173.9T89 183.6T78.8 193.2" stroke="#575757" stroke-width="0.55"/>
<path d="M46.5 98.9Q42.8 104.9 39.3 110.9T32.3 123T25.7 135.4T19.4 147.9T13.3 160.5T7.3 173.1T1.4 185.8" stroke="#626262" stroke-width="0.44"/>
<path d="M3.2 182.4Q-1.5 177.2 -6.3 172.1" stroke="#5c5c5c" stroke-width="0.57"/>
<path d="M78 94.7Q71.2 96.5 64.5 98.3T50.8 101.4T37.1 104.1T23.3 106.6T9.5 108.7T-4.4 110.7" stroke="#484848" stroke-width="0.53"/>
<path d="M24.4 185.2Q17.8 182.8 11.2 180.4T-1.9 175.6T-15 170.7" stroke="#696969" stroke-width="0.51"/>
<path d="M118.5 101.7Q111.5 101.9 104.5 102.1T90.5 102.3T76.5 102.4T62.5 102.3T48.5 102.1T34.5 101.6T20.5 100.9T6.5 100.3T-7.4 100.2" stroke="#4d4d4d" stroke-width="0.41"/>
<path d="M92.7 98.6Q88.6 104.2 84.3 109.7T75.5 120.6T66.6 131.4T57.7 142.3T48.9 153.2T40.1 164T31.1 174.8T22 185.4" stroke="#636363" stroke-width="0.55"/>
<path d="M11.2 180.9Q13.6 174.3 16 167.8T20.7 154.6T25.3 141.4T29.9 128.1T34.4 114.9T38.9 101.6T43 88.2" stroke="#5e5e5e" stroke-width="0.4"/>
<path d="M-2.5 96.7Q-8.3 100.6 -14.3 104.2" stroke="#6a6a6a" stroke-width="0.59"/>
<path d="M54.5 184Q60.5 180.4 66.5 176.7T78.2 169T89.6 160.9T100.8 152.5T112 144.1T123.1 135.6" stroke="#636363" stroke-width="0.51"/>
<path d="M119.8 134.5Q114.2 130.3 108.5 126.2T97.3 117.9T85.9 109.7T74.5 101.6T63.1 93.5" stroke="#4f4f4f" stroke-width="0.59"/>
<path d="M111.1 181.3Q107.8 175.1 104.6 168.9T98.1 156.5T91.5 144.1T84.6 132T77.4 120T70.3 107.9T63.1 95.9" stroke="#4a4a4a" stroke-width="0.42"/>
<path d="M121.8 129.2Q118.1 135.1 114.3 141T106.8 152.8T99.4 164.7T91.8 176.5T83.8 187.9" stroke="#474747" stroke-width="0.53"/>
<path d="M80.2 183.6Q74.3 179.7 68.4 176T56.4 168.8T44.3 161.8T32.1 154.8T19.9 148T7.7 141.2T-4.5 134.4" stroke="#4a4a4a" stroke-width="0.6"/>
<path d="M99.4 98.2Q103.9 103.6 108.5 108.8T117.9 119.2T127.3 129.6" stroke="#6a6a6a" stroke-width="0.57"/>
<path d="M26.3 183.1Q20.8 178.8 15.3 174.4T4.1 166.1T-7.4 158.1" stroke="#6a6a6a" stroke-width="0.56"/>
<path d="M15.8 186.1Q22.6 184.7 29.5 183.2T43.1 180T56.6 176.4T70.1 172.6T83.6 169T97.3 165.7T111 163.1T124.8 161.1" stroke="#505050" stroke-width="0.5"/>
<path d="M101.4 99.8Q100.4 106.7 99.3 113.7T97 127.5T94.9 141.3T92.9 155.2T90.9 169T88.7 182.9" stroke="#595959" stroke-width="0.59"/>
<path d="M63.9 184.6Q70.3 181.7 76.6 178.6T89.3 172.7T102 166.9T115 161.6T128 156.4" stroke="#5b5b5b" stroke-width="0.54"/>
<path d="M62.1 184.5Q55.7 181.5 49.4 178.6T36.5 173.1T23.5 167.8T10.6 162.6T-2.4 157.3T-15.5 152.3" stroke="#5a5a5a" stroke-width="0.48"/>
<path d="M-2.7 170.1Q2.1 164.9 6.7 159.7T16 149.2T25.4 138.8T34.5 128.2T43.6 117.6T53 107.1T62.3 96.8T71.7 86.4" stroke="#585858" stroke-width="0.45"/>
<path d="M118.6 161.8Q111.6 162.8 104.7 163.7T90.8 165.7T77 167.9T63.2 170T49.3 172T35.5 174T21.6 176.2T7.8 178.2T-6.1 180.4" stroke="#474747" stroke-width="0.59"/>
<path d="M25.4 99.8Q24.1 106.6 22.7 113.5T19.9 127.2T17.1 140.9T14.3 154.7T11.4 168.3T8.3 182T5.1 195.6" stroke="#5b5b5b" stroke-width="0.5"/>
<path d="M75.4 181.9Q71.3 176.2 67.1 170.6T58.6 159.5T49.9 148.5T41 137.7T31.9 127T22.8 116.4T13.5 105.9T4.1 95.6" stroke="#515151" stroke-width="0.53"/>
<path d="M-2 157Q3.4 152.6 8.9 148.2T19.7 139.4T30.7 130.7T41.8 122.1T52.9 113.7T64.1 105.2T75.2 96.7T86.3 88.1" stroke="#575757" stroke-width="0.42"/>
<path d="M16 99.6Q14 106.3 11.9 113T7.6 126.3T3 139.6T-1.7 152.7T-6.5 165.9T-11.3 179" stroke="#4e4e4e" stroke-width="0.54"/>
<path d="M83 181Q85.7 174.6 88.3 168.1T93.4 155T98.2 141.9T102.9 128.7T107.8 115.6T113.2 102.7T119.3 90.1" stroke="#656565" stroke-width="0.47"/>
<path d="M30.3 99.4Q32.9 106 35.4 112.5T40.4 125.6T45.5 138.6T50.6 151.6T55.7 164.7T61.1 177.6T66.7 190.4" stroke="#484848" stroke-width="0.44"/>
<path d="M75.9 99.8Q75 106.8 74 113.7T71.8 127.5T69.5 141.3T67.2 155.1T64.5 168.9T61.2 182.5T57.8 196.1" stroke="#535353" stroke-width="0.59"/>
<path d="M88 180.6Q86.8 173.7 86 166.7T84.6 152.8T83.2 138.9T82 124.9T80.6 111T79.2 97.1" stroke="#525252" stroke-width="0.57"/>
<path d="M119.1 140.6Q112.7 143.5 106.3 146.2T93.4 151.7T80.4 157T67.4 162T54.3 167T41.2 172T28 176.5T14.7 180.9T1.3 184.9T-12.3 188.6" stroke="#666666" stroke-width="0.46"/>
<path d="M121.2 97.8Q116.8 92.3 112.4 86.8" stroke="#4f4f4f" stroke-width="0.55"/>
<path d="M-5 107.9Q-2.7 101.3 -0.2 94.8" stroke="#626262" stroke-width="0.47"/>
<path d="M-1.1 139.5Q5.1 136.4 11.4 133.3T24.1 127.4T36.7 121.3T49.2 115.1T61.7 108.8T74.1 102.3T86.4 95.5T98.6 88.7" stroke="#565656" stroke-width="0.5"/>
<path d="M120.3 128.7Q115.1 124 109.9 119.3T99.5 110T89.1 100.6T78.7 91.1" stroke="#626262" stroke-width="0.49"/>
<path d="M-0.4 126.5Q6.6 126.9 13.5 127.5T27.5 128.9T41.4 130.3T55.3 132.1T69.1 134.3T83 136.4T96.8 138.3T110.7 140.4T124.4 142.9" stroke="#4c4c4c" stroke-width="0.43"/>
<path d="M-0.9 94.6Q-7.7 96.4 -14.5 98" stroke="#5a5a5a" stroke-width="0.43"/>
<path d="M111.9 96.2Q118 99.6 124.2 102.8" stroke="#5c5c5c" stroke-width="0.56"/>
<path d="M-0.6 180Q6.2 181.6 13 183.2T26.6 186.5T40.2 190" stroke="#5c5c5c" stroke-width="0.5"/>
<path d="M-1.3 150.6Q4.8 154 11 157.4T23.3 164T35.7 170.5T48.2 176.9T60.8 182.9T73.6 188.6" stroke="#5f5f5f" stroke-width="0.46"/>
<path d="M-1.7 133.6Q3.9 137.7 9.6 141.8T21.1 149.9T32.4 158.1T43.7 166.4T55 174.6T66.4 182.7T77.9 190.8" stroke="#494949" stroke-width="0.46"/>
<path d="M48.2 99.5Q50.6 106.1 52.8 112.7T57 126.1T60.9 139.5T64.6 153T68.3 166.5T72 180T76 193.4" stroke="#585858" stroke-width="0.48"/>
<path d="M-4.9 118.3Q-2.4 111.7 0.3 105.3T5.6 92.3" stroke="#5d5d5d" stroke-width="0.54"/>
<path d="M-2.8 175.3Q1.7 180.6 6.2 186" stroke="#616161" stroke-width="0.42"/>
<path d="M19.3 98.7Q23.3 104.5 27.3 110.2T35.5 121.6T43.7 132.9T51.8 144.3T59.9 155.7T68 167.2T76.1 178.6T84.3 189.9" stroke="#4c4c4c" stroke-width="0.55"/>
<path d="M-5.6 114.1Q-3.7 107.4 -1.9 100.6T1.8 87.1" stroke="#696969" stroke-width="0.51"/>
<path d="M121.9 169.4Q118.2 163.5 114.7 157.4T107.5 145.4T100.3 133.4T92.7 121.6T84.6 110.2T76.2 99T67.7 87.9" stroke="#474747" stroke-width="0.4"/>
<path d="M97.3 98.7Q93.3 104.4 89.1 110.1T80.8 121.3T72.4 132.5T63.8 143.5T54.7 154.2T45.3 164.5T35.5 174.6T25.7 184.6" stroke="#474747" stroke-width="0.54"/>
<path d="M118.7 100.5Q111.9 98.9 105.1 97.2T91.6 93.6T78.1 89.8" stroke="#595959" stroke-width="0.57"/>
<path d="M-3.2 167.7Q1 173.3 5.4 178.7T14 189.8" stroke="#494949" stroke-width="0.43"/>
<path d="M118.5 158.3Q111.5 158.6 104.5 159.1T90.6 159.9T76.6 160.3T62.6 160.5T48.6 160.6T34.6 160.8T20.6 161.2T6.6 161.6T-7.4 162.2" stroke="#666666" stroke-width="0.45"/>
<path d="M-0.6 125.8Q6.2 124.1 13 122.3T26.4 118.6T39.8 114.5T53.2 110.2T66.5 105.8T79.7 101.3T92.9 96.6T106 91.6" stroke="#595959" stroke-width="0.48"/>
<path d="M-0.4 123.2Q6.6 122.7 13.6 122.4T27.6 122T41.5 122.1T55.5 122.5T69.5 123T83.5 123.3T97.5 123.4T111.5 123.3T125.5 123.2" stroke="#646464" stroke-width="0.49"/>
<path d="M3.1 99.6Q5.1 106.3 7 113T11.2 126.4T15.8 139.6T20.6 152.7T25.6 165.8T30.6 178.9T35.7 191.9" stroke="#4d4d4d" stroke-width="0.49"/>
<path d="M84.6 183.2Q79.1 178.9 73.4 174.8T62 166.7T50.3 159T38.3 151.8T26.2 144.8T14.1 137.7T2 130.7T-10.3 123.9" stroke="#585858" stroke-width="0.46"/>
<path d="M-6 169.2Q-4.7 162.3 -3.3 155.5T-0.2 141.8T3.3 128.3T7.1 114.8T11.1 101.4T15 87.9" stroke="#5b5b5b" stroke-width="0.46"/>
<path d="M-1.5 168.8Q4.4 165 10.3 161.2T22 153.5T33.8 146.1T45.8 138.8T57.9 131.7T69.9 124.5T81.9 117.3T94 110.3T106.3 103.6T118.7 97T131 90.5" stroke="#474747" stroke-width="0.45"/>
<path d="M-5.6 143.8Q-3.8 150.6 -2.2 157.4T1.2 171T4.1 184.7" stroke="#606060" stroke-width="0.48"/>
<path d="M13.2 96.5Q19.2 100.1 25.3 103.5T37.4 110.6T49.4 117.9T61 125.7T72.3 134T83.3 142.6T94 151.6T104.5 160.8T114.8 170.3T124.8 180.1" stroke="#5d5d5d" stroke-width="0.44"/>
<path d="M121.8 117.7Q118.1 111.7 114.5 105.8T107.1 93.9" stroke="#595959" stroke-width="0.51"/>
<path d="M120.3 151.2Q115 146.5 109.7 142T99.1 132.9T88.4 123.8T77.7 114.8T67.1 105.6T56.6 96.4T45.9 87.3" stroke="#575757" stroke-width="0.43"/>
<path d="M21.5 98.2Q16.9 103.6 12.5 108.9T3.5 119.7T-5.4 130.5" stroke="#474747" stroke-width="0.42"/>
<path d="M46.4 96.9Q40.7 100.9 35.1 105T23.7 113.2T12.2 121.2T0.8 129.3T-10.6 137.4" stroke="#5c5c5c" stroke-width="0.47"/>
<path d="M58.7 183.1Q64.2 178.7 69.6 174.2T80.5 165.5T91.5 156.8T102.4 148T113.3 139.3T124.5 130.9" stroke="#505050" stroke-width="0.46"/>
<path d="M-0.5 143.4Q6.4 144.5 13.4 145.4T27.3 147.1T41.2 148.4T55.2 149.5T69.1 150.6T83.1 151.8T97 153T111 154T124.9 155.1" stroke="#525252" stroke-width="0.44"/>
<path d="M115.5 185.4Q122.2 183.3 128.9 181.2" stroke="#656565" stroke-width="0.47"/>
<path d="M25.3 98.9Q21.6 104.9 18 110.9T10.7 122.8T3.3 134.7T-4.1 146.5T-11.7 158.3" stroke="#5b5b5b" stroke-width="0.53"/>
<path d="M3.2 94.4Q-3.6 95.9 -10.4 97.6" stroke="#484848" stroke-width="0.49"/>
<path d="M119.6 123.6Q113.6 127.3 107.7 131.1T95.9 138.6T84.1 146.1T72.1 153.4T60 160.4T47.8 167.3T35.6 174.1T23.4 181T11.3 188.1" stroke="#4f4f4f" stroke-width="0.47"/>
<path d="M-3.5 132.8Q0.4 127 4.3 121.1T12.1 109.5T20.1 98T28.4 86.8" stroke="#606060" stroke-width="0.51"/>
<path d="M111.9 180.8Q109.8 174.1 107.7 167.4T103.3 154.2T98.5 141T93.8 127.8T89.2 114.6T85 101.2T81 87.8" stroke="#5d5d5d" stroke-width="0.55"/>
<path d="M118.6 113Q111.7 111.8 104.8 110.6T91.1 108T77.3 105.6T63.5 103.3T49.7 100.8T36 97.8T22.4 94.5T8.9 91" stroke="#666666" stroke-width="0.5"/>
<path d="M119.4 149.2Q113.3 152.6 107.1 155.9T94.8 162.6T82.5 169.2T70 175.6T57.5 181.9T45 188.2" stroke="#5c5c5c" stroke-width="0.56"/>
<path d="M-0.6 145.3Q6.1 143.4 12.9 141.7T26.5 138.6T40.2 135.5T53.8 132.3T67.5 129.1T81.1 125.8T94.6 122.3T108.2 118.8T121.8 115.4" stroke="#4a4a4a" stroke-width="0.41"/>
<path d="M67.4 99.8Q66.2 106.7 64.8 113.6T61.6 127.2T58.1 140.7T54.4 154.3T50.8 167.8T46.9 181.2T42.8 194.6" stroke="#4c4c4c" stroke-width="0.47"/>
<path d="M121 154.8Q116.5 160.2 112 165.5T103 176.2T94 187" stroke="#656565" stroke-width="0.4"/>
<path d="M88.4 182.7Q93.4 177.9 98.6 173.2T109.1 163.9T119.7 154.7T130.4 145.7" stroke="#666666" stroke-width="0.48"/>
<path d="M-6.1 123.2Q-4.8 116.4 -3.8 109.4T-2 95.6" stroke="#4c4c4c" stroke-width="0.57"/>
<path d="M-0.8 129.7Q5.8 132 12.4 134.3T25.7 138.6T39.1 142.6T52.6 146.5T66 150.6T79.3 155T92.5 159.4T106 163.4T119.5 167.1T133 170.8" stroke="#5e5e5e" stroke-width="0.52"/>
<path d="M118.6 132.7Q111.6 133.7 104.7 134.5T90.8 136.4T77 138.5T63.1 140.4T49.2 142.3T35.4 144.4T21.5 146.3T7.7 148.4T-6.2 150.4" stroke="#5c5c5c" stroke-width="0.54"/>
<path d="M-2.9 163.7Q1.7 169 6.4 174.2T15.8 184.5" stroke="#636363" stroke-width="0.41"/>
<path d="M123.2 147.2Q120.9 140.6 118.4 134T113.6 120.9T109 107.7T104.4 94.4" stroke="#555555" stroke-width="0.46"/>
<path d="M121.3 131.1Q117 136.7 112.8 142.3T104.4 153.4T95.9 164.6T87.3 175.6T78.7 186.7" stroke="#686868" stroke-width="0.46"/>
<path d="M-1.6 126.4Q4.2 130.3 10.1 134.1T21.8 141.8T33.5 149.5T45.2 157.2T56.9 164.9T68.4 172.8T80 180.7T91.7 188.4" stroke="#5f5f5f" stroke-width="0.53"/>
<path d="M121.2 143.1Q116.8 148.6 112.6 154.2T104.2 165.4T95.9 176.7T87.4 187.8" stroke="#5b5b5b" stroke-width="0.5"/>
<path d="M61.7 185.2Q55.1 183 48.4 180.9T35.2 176.3T22 171.5T8.9 166.6T-4.2 161.8" stroke="#5d5d5d" stroke-width="0.59"/>
<path d="M15.8 98.7Q11.8 104.4 7.7 110.1T-0.3 121.6T-8.1 133.2" stroke="#696969" stroke-width="0.44"/>
<path d="M96.1 97.6Q90.9 102.3 85.5 106.7T74.6 115.5T63.5 124T52 132T40.3 139.7T28.6 147.4T16.9 155T4.9 162.3T-7 169.6" stroke="#646464" stroke-width="0.51"/>
<path d="M64.2 183Q69.5 178.4 74.7 173.7T85.1 164.3T95.4 154.9T105.7 145.3T115.9 135.8T126 126.1" stroke="#555555" stroke-width="0.45"/>
<path d="M30.5 181.9Q26.3 176.3 22.1 170.8T13.7 159.6T5.4 148.3T-3.1 137.2T-12 126.4" stroke="#676767" stroke-width="0.51"/>
<path d="M86.2 99.2Q83.1 105.5 80.2 111.8T74.5 124.6T69.1 137.5T64 150.6T59.3 163.7T55 177.1T51.3 190.6" stroke="#4e4e4e" stroke-width="0.5"/>
<path d="M79.3 94.6Q86.1 96.4 92.9 98T106.5 101.3T120 104.9T133.5 108.8" stroke="#616161" stroke-width="0.57"/>
<path d="M122.4 144.4Q119.3 150.7 116.1 156.9T109.8 169.4T103.4 181.8T96.7 194.1" stroke="#4c4c4c" stroke-width="0.56"/>
<path d="M16.5 94Q9.6 95.2 2.7 96.4T-11.1 98.7" stroke="#6b6b6b" stroke-width="0.51"/>
<path d="M6.3 99.4Q3.7 105.9 1.2 112.4T-4.1 125.4T-9.8 138.2" stroke="#6b6b6b" stroke-width="0.41"/>
<path d="M-1.5 98Q-6.4 103 -11.2 108.1" stroke="#626262" stroke-width="0.56"/>
<path d="M-1.2 134.4Q4.9 131.1 11.1 127.8T23.4 121.1T35.8 114.7T48.3 108.3T61 102.3T73.8 96.6T86.7 91.3" stroke="#666666" stroke-width="0.41"/>
<path d="M118.6 109.9Q111.6 109.1 104.7 108.1T90.8 106.3T76.9 104.8T62.9 103.7T49 102.7T35 101.9T21 101.6T7 101.4T-7 101" stroke="#5c5c5c" stroke-width="0.44"/>
<path d="M117.5 180.5Q117.9 173.5 118.2 166.5T119 152.6T120.1 138.6T121.1 124.6T121.8 110.7T122.4 96.7" stroke="#5a5a5a" stroke-width="0.54"/>
<path d="M-0.8 119.6Q5.8 117.3 12.4 114.8T25.5 109.8T38.5 104.7T51.7 100.1T65 95.7T78.3 91.4" stroke="#6b6b6b" stroke-width="0.43"/>
<path d="M124.5 125.1Q123.5 118.2 122.8 111.2T121.5 97.3" stroke="#525252" stroke-width="0.42"/>
<path d="M-2.9 122.5Q1.6 127.8 6.1 133.2T14.7 144.2T23.3 155.3T31.8 166.4T40.3 177.5T48.8 188.7" stroke="#626262" stroke-width="0.49"/>
<path d="M118.7 165.6Q111.8 164.1 105 162.5T91.3 159.5T77.6 156.9T63.8 154.2T50.2 151.2T36.5 148T22.9 145T9.2 142.1T-4.5 138.9" stroke="#5e5e5e" stroke-width="0.58"/>
<path d="M121.2 163.3Q116.9 157.8 112.6 152.3T104 141.2T95.3 130.2T86.6 119.3T78 108.2T69.5 97.2T60.8 86.1" stroke="#666666" stroke-width="0.48"/>
<path d="M124 144.1Q122.5 151 120.9 157.8T117.7 171.4T114.3 185" stroke="#4a4a4a" stroke-width="0.54"/>
<path d="M61.5 99.9Q61.7 106.9 61.8 113.9T62.3 127.9T63.1 141.9T64 155.8T64.8 169.8T65.5 183.8" stroke="#686868" stroke-width="0.58"/>
<path d="M-5.6 108Q-3.9 101.2 -2.1 94.5" stroke="#4d4d4d" stroke-width="0.58"/>
<path d="M106.9 99.7Q108.5 106.5 110.1 113.4T113 127T115.5 140.8T118.1 154.6T120.7 168.3T123.3 182.1T125.8 195.9" stroke="#6b6b6b" stroke-width="0.41"/>
<path d="M114.8 183.6Q120.7 179.8 126.5 176" stroke="#4f4f4f" stroke-width="0.5"/>
<path d="M118.6 137.9Q111.8 139.3 104.9 140.4T91 142.6T77.2 144.5T63.3 146.2T49.3 147.5T35.4 148.6T21.4 149.4T7.4 149.9T-6.6 150.1" stroke="#4a4a4a" stroke-width="0.45"/>
<path d="M118.6 115.2Q111.6 116.2 104.7 117.2T90.9 119.5T77.2 122.3T63.5 125.3T49.9 128.4T36.2 131.6T22.6 134.8T9 138T-4.6 141.5" stroke="#4d4d4d" stroke-width="0.55"/>
<path d="M122.2 153.2Q118.9 147.1 115.8 140.8T109.7 128.2T103.9 115.4T98.3 102.6T92.7 89.8" stroke="#555555" stroke-width="0.42"/>
<path d="M47.7 99.9Q48.1 106.9 48.6 113.9T49.8 127.8T51.3 141.7T53.1 155.6T55.4 169.4T57.9 183.2" stroke="#535353" stroke-width="0.5"/>
<path d="M118.6 112.2Q111.8 113.5 104.9 115.1T91.3 118.4T77.7 121.7T64.1 124.8T50.5 128T36.9 131.6T23.5 135.5T10.1 139.7T-3.2 144.1" stroke="#4b4b4b" stroke-width="0.41"/>
<path d="M13.8 183.1Q8.3 178.8 2.7 174.5T-8.5 166.1" stroke="#4d4d4d" stroke-width="0.54"/>
<path d="M21.2 98.4Q16.9 103.9 12.7 109.5T4 120.5T-4.6 131.6T-13 142.8" stroke="#5f5f5f" stroke-width="0.56"/>
<path d="M46.8 95.3Q53.4 97.6 60 100.1T73.1 105T86.2 110T99.3 114.9T112.4 119.7T125.5 124.7" stroke="#535353" stroke-width="0.51"/>
<path d="M24 180.7Q25.4 173.8 26.8 166.9T29.7 153.2T32.6 139.5T35.6 125.9T38.4 112.2T41 98.4T43.6 84.7" stroke="#4b4b4b" stroke-width="0.56"/>
<path d="M110.8 97.5Q116.1 102.2 121.4 106.8T131.9 116" stroke="#585858" stroke-width="0.45"/>
<path d="M43.7 96.8Q49.5 100.6 55.3 104.6T66.9 112.5T78.3 120.6T89.5 129T100.2 138T110.6 147.4T120.8 157T131 166.5" stroke="#464646" stroke-width="0.42"/>
<path d="M119.8 115.5Q114.2 119.6 108.6 123.8T97.5 132.4T86.5 141T75.6 149.7T64.9 158.8T54.3 168T43.9 177.3T33.7 186.9" stroke="#595959" stroke-width="0.56"/>
<path d="M0.3 96.6Q-5.6 100.3 -11.6 104" stroke="#6a6a6a" stroke-width="0.43"/>
<path d="M70.8 95.6Q77.3 98.2 83.6 101.1T96.3 107.1T108.7 113.5T121 120.3T133.3 127" stroke="#525252" stroke-width="0.56"/>
<path d="M122.8 110.9Q120.2 104.4 117.4 98T112 85.1" stroke="#575757" stroke-width="0.47"/>
<path d="M124.2 102Q122.9 95.1 121.7 88.2" stroke="#6a6a6a" stroke-width="0.58"/>
<path d="M2.4 92.9L-9.4 100.5" stroke="#505050" stroke-width="0.59"/>
<path d="M61.1 97.7Q66.1 102.5 71.2 107.4T81.4 117T91.8 126.4T102.1 135.8T112.2 145.5T122.4 155.1" stroke="#696969" stroke-width="0.41"/>
<path d="M46.1 181.9Q41.9 176.3 37.9 170.6T29.7 159.2T21.3 148.1T12.8 136.9T4.6 125.5T-3.4 114.1T-11.4 102.6" stroke="#626262" stroke-width="0.45"/>
<path d="M118.7 109.3Q111.8 110.8 105 112.1T91.2 115T77.6 117.9T63.9 120.8T50.2 123.7T36.4 126.3T22.6 128.7T8.8 131T-5 133.1" stroke="#515151" stroke-width="0.57"/>
<path d="M81.2 99.5Q83.6 106.1 85.9 112.7T90.4 125.9T94.8 139.2T98.9 152.6T102.7 166.1T106.5 179.5T110.3 193" stroke="#606060" stroke-width="0.51"/>
<path d="M122.1 110Q118.7 103.9 115.4 97.7T108.9 85.4" stroke="#636363" stroke-width="0.44"/>
<path d="M74.9 98Q70.1 103.1 65.2 108T55 117.7T44.6 127T34.2 136.3T23.8 145.7T13.3 155T3 164.4T-7.2 174" stroke="#5d5d5d" stroke-width="0.59"/>
<path d="M77.5 185.4Q70.8 183.3 64.1 181.4T50.6 177.7T37 174.2T23.4 170.9T9.8 167.9T-3.9 164.8" stroke="#555555" stroke-width="0.57"/>
<path d="M122.4 154.2Q119.2 147.9 116.1 141.7T109.9 129.1T103.8 116.5T97.8 103.8T91.8 91.2" stroke="#686868" stroke-width="0.49"/>
<path d="M62.4 99.8Q63.8 106.6 65.3 113.5T68.2 127.1T71.1 140.9T73.9 154.6T76.6 168.3T79.3 182T82.1 195.8" stroke="#4b4b4b" stroke-width="0.46"/>
<path d="M34.1 99.7Q32.3 106.4 30.2 113.1T25.8 126.4T21.5 139.7T17.1 153T12.6 166.3T8.1 179.5T3.6 192.8" stroke="#5a5a5a" stroke-width="0.5"/>
<path d="M-0.4 152.8Q6.5 152.1 13.5 151.3T27.4 149.9T41.4 148.7T55.3 147.6T69.3 146.7T83.3 145.7T97.2 144.7T111.2 144T125.2 143.2" stroke="#686868" stroke-width="0.46"/>
<path d="M25.2 96.2Q31.4 99.5 37.7 102.4T50.6 107.9T63.6 113.1T76.6 118.2T89.6 123.5T102.5 128.9T115.3 134.5T128 140.6" stroke="#5d5d5d" stroke-width="0.58"/>
<path d="M123.4 176.3Q121.4 183 119.3 189.7" stroke="#505050" stroke-width="0.42"/>
<path d="M15.1 94.9Q21.8 96.9 28.4 99.1T41.7 103.6T54.9 108.3T67.9 113.4T80.8 118.9T93.3 125.1T105.7 131.7T117.9 138.5T130.3 145" stroke="#5d5d5d" stroke-width="0.43"/>
<path d="M10.5 94.6Q17.3 96.3 24.1 97.9T37.7 101.2T51.3 104.6T65 107.6T78.7 110.1T92.5 112.5T106.3 114.8T120.2 117.1T134 119.2" stroke="#696969" stroke-width="0.47"/>
<path d="M120.7 96.5Q116 91.3 111 86.4" stroke="#626262" stroke-width="0.51"/>
<path d="M122.7 156.1Q119.9 149.7 117 143.3T111 130.7T105.2 118T99.7 105.1T94.3 92.2" stroke="#5e5e5e" stroke-width="0.54"/>
<path d="M17 97.3Q22.5 101.7 28 106.1T39 114.7T50.1 123.2T61.2 131.7T72.4 140.2T83.5 148.7T94.4 157.5T105.3 166.3T116.1 175.1T127 183.9" stroke="#5b5b5b" stroke-width="0.4"/>
<path d="M33.4 99.8Q34.6 106.7 35.7 113.6T37.9 127.4T40.4 141.2T43 155T45.6 168.7T48.4 182.4T51.2 196.1" stroke="#474747" stroke-width="0.48"/>
<path d="M11.9 180.9Q9.5 174.4 6.8 167.9T1.1 155.1T-4.6 142.4T-10.3 129.5" stroke="#4f4f4f" stroke-width="0.53"/>
<path d="M80 96.3Q86.1 99.7 92.2 103.2T104.4 110T116.8 116.5T129.3 122.9" stroke="#585858" stroke-width="0.59"/>
<path d="M118.9 166.1Q112.3 168.4 105.7 170.7T92.5 175.4T79.5 180.6T66.6 186.1T53.8 191.7" stroke="#656565" stroke-width="0.42"/>
<path d="M119.1 143.5Q112.7 146.4 106.3 149.2T93.5 154.9T80.9 160.9T68.3 167.1T55.8 173.4T43.5 180T31.5 187.1" stroke="#525252" stroke-width="0.43"/>
<path d="M114.8 187.5L128.7 185.5" stroke="#525252" stroke-width="0.56"/>
<path d="M123.8 182.5Q122.2 189.3 120.6 196.1" stroke="#606060" stroke-width="0.49"/>
<path d="M-1 100.1Q5.4 97.2 11.8 94.5T24.7 89.1" stroke="#5e5e5e" stroke-width="0.6"/>
<path d="M57.7 183.3Q63.3 179 68.9 174.8T80 166.3T91 157.6T101.9 148.9T112.9 140.2T123.9 131.5" stroke="#6a6a6a" stroke-width="0.47"/>
<path d="M22.5 180.9Q24.9 174.4 27.5 167.9T32.9 155T38.4 142.1T43.7 129.1T48.8 116.1T53.7 103T58.3 89.7" stroke="#525252" stroke-width="0.43"/>
<path d="M-0.9 154.2Q5.7 156.7 12.2 159.3T25.2 164.4T38.2 169.7T51.1 175T64 180.5T76.7 186.3T89.4 192.2" stroke="#515151" stroke-width="0.58"/>
<path d="M118.7 142.3Q111.8 140.7 105 139.4T91.2 136.9T77.4 134.5T63.7 131.9T49.9 129.3T36.1 126.7T22.3 124.5T8.5 122.5T-5.4 120.5" stroke="#676767" stroke-width="0.4"/>
<path d="M14.7 180.5Q13.9 173.6 13.2 166.6T11.9 152.7T10.5 138.8T9 124.8T7.1 111T4.9 97.1" stroke="#535353" stroke-width="0.41"/>
<path d="M-2.7 121.2Q2 116.1 6.9 111.1T16.8 101.2T26.7 91.2" stroke="#6b6b6b" stroke-width="0.52"/>
<path d="M-4.7 105.2Q-2 98.7 0.8 92.3" stroke="#505050" stroke-width="0.52"/>
<path d="M98.3 185.9Q105.1 184.4 111.9 182.7T125.5 179.3" stroke="#595959" stroke-width="0.41"/>
<path d="M53.2 96.1Q59.4 99.3 65.8 102.4T78.4 108.4T91 114.5T103.5 120.7T116.1 126.9T128.7 132.9" stroke="#606060" stroke-width="0.55"/>
<path d="M107.4 180.6Q108.4 173.7 109.1 166.7T110.3 152.7T111.7 138.8T113.5 124.9T115 111T116.5 97.1" stroke="#555555" stroke-width="0.52"/>
<path d="M41.4 182.8Q36.1 178.2 30.9 173.6T20.4 164.3T10.1 154.8T-0 145.1T-9.7 135" stroke="#484848" stroke-width="0.52"/>
<path d="M68.9 99Q65.5 105.2 62.1 111.3T55.2 123.5T48.1 135.5T41 147.6T33.9 159.7T27 171.8T20.2 184.1" stroke="#515151" stroke-width="0.45"/>
<path d="M67.7 185.5Q74.4 183.6 81.1 181.7T94.6 177.9T108.2 174.4T121.8 171.2" stroke="#505050" stroke-width="0.5"/>
<path d="M95.7 98.6Q91.6 104.3 87.7 110.1T79.8 121.6T71.8 133.1T63.7 144.6T55.8 156.1T48.1 167.8T40.6 179.6T33 191.4" stroke="#606060" stroke-width="0.51"/>
<path d="M118.9 173.3Q112.3 171 105.8 168.5T92.6 163.6T79.5 158.7T66.4 153.8T53.4 148.8T40.3 143.7T27.3 138.5T14.3 133.4T1.3 128.2T-11.7 122.9" stroke="#565656" stroke-width="0.59"/>
<path d="M-5.6 102.5Q-3.8 95.7 -1.7 89" stroke="#4c4c4c" stroke-width="0.57"/>
<path d="M17.8 180.8Q19.7 174 21.4 167.2T24.7 153.6T27.9 140T31.1 126.4T34.3 112.7T37.4 99.1T40.5 85.4" stroke="#686868" stroke-width="0.59"/>
<path d="M-2 131.8Q3.4 136.2 8.8 140.7T19.4 149.8T29.6 159.4T39.4 169.4T49 179.6T58.7 189.7" stroke="#4d4d4d" stroke-width="0.5"/>
<path d="M121.6 182.7Q126.6 177.9 131.7 173.1" stroke="#5c5c5c" stroke-width="0.52"/>
<path d="M19.7 184.8Q26.2 182.1 32.5 179.2T45.2 173.2T57.8 167.1T70.5 161.2T83.3 155.6T96.1 150T109 144.4T121.9 139.1" stroke="#5f5f5f" stroke-width="0.56"/>
<path d="M120.4 113.2Q115.3 108.4 110.2 103.7T99.8 94.3" stroke="#505050" stroke-width="0.44"/>
<path d="M83.4 183.8Q77.4 180.2 71.4 176.5T59.6 169T47.9 161.4T36.2 153.6T24.6 145.8T13.1 137.8T1.6 129.9T-10.2 122.3" stroke="#5d5d5d" stroke-width="0.47"/>
<path d="M87.1 181.5Q83.4 175.5 79.8 169.6T72.8 157.5T66.1 145.2T59.5 132.8T52.8 120.5T45.9 108.3T39.1 96.1" stroke="#4f4f4f" stroke-width="0.43"/>
<path d="M22.5 182.1Q18.1 176.6 13.7 171.1T5 160.2T-3.7 149.2T-12.4 138.2" stroke="#545454" stroke-width="0.52"/>
<path d="M-5.3 124.8Q-3.1 118.1 -0.9 111.5T3.7 98.3T8.4 85.1" stroke="#555555" stroke-width="0.44"/>
<path d="M10 96.8Q15.8 100.7 21.5 104.8T32.8 113.1T44 121.5T55 130.1T66.3 138.5T77.6 146.7T89 154.8T100.4 162.9T111.7 171.2T123 179.4" stroke="#616161" stroke-width="0.59"/>
<path d="M9.2 183.6Q15 179.7 20.9 176T32.9 168.7T44.9 161.6T57.2 154.7T69.5 148.2T81.9 141.7T94.4 135.4T107 129.2T119.5 123T132 116.6" stroke="#515151" stroke-width="0.46"/>
<path d="M118.9 162.1Q112.4 164.6 105.8 167T92.6 171.8T79.5 176.5T66.2 180.9T52.8 185.1T39.4 189" stroke="#4b4b4b" stroke-width="0.59"/>
<path d="M5.2 184.2Q-1 180.9 -7 177.3" stroke="#6b6b6b" stroke-width="0.51"/>
<path d="M119 178Q112.4 180.5 106 183.3T93.2 188.9" stroke="#5a5a5a" stroke-width="0.47"/>
<path d="M-1.7 118.6Q4.1 114.6 9.8 110.5T21.2 102.5T32.7 94.5" stroke="#555555" stroke-width="0.56"/>
<path d="M81.5 184.7Q87.9 182 94.4 179.3T107.2 173.8T120.1 168.2T133 162.8" stroke="#5d5d5d" stroke-width="0.52"/>
<path d="M-0.4 174.9Q6.6 175 13.6 174.9T27.6 174.6T41.6 173.8T55.5 172.9T69.5 171.7T83.4 170.1T97.3 168.3T111.1 166.2T124.9 163.9" stroke="#565656" stroke-width="0.5"/>
<path d="M75.2 99.6Q77.2 106.3 79.3 113T83.4 126.3T87.6 139.7T91.8 153.1T95.8 166.5T99.8 179.9T104.1 193.2" stroke="#676767" stroke-width="0.54"/>
<path d="M112.3 183.4Q118 179.4 123.8 175.5" stroke="#686868" stroke-width="0.54"/>
<path d="M119.6 163.6Q113.8 159.7 107.8 156.1T95.6 149.1T83.3 142.6T70.7 136.5T58 130.6T45.3 124.7T32.4 119.1T19.5 113.8T6.5 108.6T-6.5 103.4" stroke="#505050" stroke-width="0.5"/>
<path d="M124.3 125Q123.1 118.1 121.9 111.3T119.2 97.5" stroke="#5a5a5a" stroke-width="0.43"/>
<path d="M123.5 130.2Q121.5 123.5 119.6 116.7T115.9 103.2T112.3 89.7" stroke="#626262" stroke-width="0.52"/>
<path d="M37.6 185Q31.1 182.4 24.5 180T11.4 175.2T-1.8 170.4T-14.9 165.6" stroke="#5f5f5f" stroke-width="0.42"/>
<path d="M71.8 96.4Q77.9 99.9 83.9 103.5T95.8 110.8T107.6 118.4T119.2 126.2T130.9 134" stroke="#4e4e4e" stroke-width="0.46"/>
<path d="M67.3 180.7Q65.8 173.8 64.2 167T61 153.4T57.8 139.7T54.7 126.1T51.5 112.5T48.4 98.8T45.3 85.2" stroke="#484848" stroke-width="0.59"/>
<path d="M61.5 182.5Q66.4 177.5 71.2 172.5T81.1 162.5T90.9 152.5T100.6 142.5T110.6 132.6T120.4 122.7T130.3 112.8" stroke="#494949" stroke-width="0.43"/>
<path d="M119.4 110.1Q113.3 113.5 107.1 116.8T94.6 123.2T82.3 129.7T70 136.6T57.8 143.4T45.7 150.4T33.6 157.4T21.4 164.4T9.2 171.2T-3 178T-15.3 184.8" stroke="#474747" stroke-width="0.5"/>
<path d="M-1.1 138.3Q5.2 141.4 11.6 144.3T24.4 149.8T37.4 155T50.5 159.9T63.7 164.6T76.9 169.2T90.2 173.7T103.5 178.1T116.9 182.2T130.3 186.2" stroke="#525252" stroke-width="0.58"/>
<path d="M53.8 99.8Q52.8 106.7 51.7 113.7T49.3 127.4T46.8 141.2T44.1 155T41.2 168.7T38.1 182.3T34.4 195.8" stroke="#646464" stroke-width="0.55"/>
<path d="M119.5 157.2Q113.5 160.8 107.4 164.2T95 170.8T82.6 177.3T70.2 183.7T57.7 189.9" stroke="#535353" stroke-width="0.57"/>
<path d="M122.3 118.5Q119.1 124.7 115.7 130.8T108.6 142.9T101.1 154.7T93.3 166.3T85.7 178.1T78.2 189.9" stroke="#525252" stroke-width="0.52"/>
<path d="M123.2 112.5Q121 119.1 118.8 125.8T114.3 139.1T109.4 152.1T104 165.1T98.4 177.9T92.9 190.8" stroke="#494949" stroke-width="0.58"/>
<path d="M91.5 96Q97.8 99.1 104.1 102.2T116.6 108.4T129 114.8" stroke="#5a5a5a" stroke-width="0.5"/>
<path d="M-1.6 178.3Q4.1 182.3 10.1 186" stroke="#696969" stroke-width="0.58"/>
<path d="M118.5 148Q111.5 148.1 104.5 148.2T90.5 148.5T76.5 148.8T62.5 148.9T48.5 148.8T34.5 148.5T20.5 148.1T6.5 147.4T-7.4 146.6" stroke="#595959" stroke-width="0.44"/>
<path d="M19 181.9Q14.8 176.4 10.6 170.7T2.4 159.5T-6 148.3" stroke="#505050" stroke-width="0.52"/>
<path d="M-0.9 170.7Q5.7 173.2 12.2 175.6T25.4 180.3T38.8 184.5T52.2 188.4" stroke="#515151" stroke-width="0.55"/>
<path d="M18.3 184.2Q24.5 180.9 30.7 177.6T43 171T55.4 164.4T67.8 157.9T80.2 151.4T92.6 144.9T104.8 138T116.8 130.9T128.6 123.4" stroke="#545454" stroke-width="0.56"/>
<path d="M58.9 98.5Q63 104.2 67.2 109.8T75.4 121.1T83.5 132.5T91.7 143.9T100 155.1T108.4 166.4T116.7 177.6T125.3 188.7" stroke="#6b6b6b" stroke-width="0.42"/>
<path d="M-2.7 157.9Q2 152.8 6.7 147.6T16.2 137.3T26 127.3T36 117.5T46.3 108T56.7 98.7T67.3 89.5" stroke="#626262" stroke-width="0.58"/>
<path d="M53.1 182.7Q58.2 177.9 63.3 173T73.4 163.3T83.6 153.7T93.8 144.2T103.9 134.5T114 124.8T124.2 115.2" stroke="#5b5b5b" stroke-width="0.44"/>
<path d="M124 123Q122.6 129.8 121.3 136.7T118.7 150.5T115.9 164.2T113 177.9T110 191.6" stroke="#616161" stroke-width="0.55"/>
<path d="M-4.3 114.2Q-1.2 120.5 1.9 126.8T7.8 139.5T13.6 152.2T19.4 165T25.2 177.7T31 190.5" stroke="#535353" stroke-width="0.48"/>
<path d="M89.6 96.3Q83.5 99.8 77.3 103.1T65 109.6T52.5 116T39.9 122T27.1 127.7T14.4 133.6T1.7 139.5T-11.1 145.2" stroke="#646464" stroke-width="0.48"/>
<path d="M85.9 94.2Q79 95.4 72.1 96.6T58.3 98.9T44.5 101.2T30.6 103.1T16.8 105.2T2.9 107.1T-11 109" stroke="#565656" stroke-width="0.43"/>
<path d="M-5.9 144.4Q-4.5 137.6 -3.1 130.7T-0.5 117T2.1 103.2T4.7 89.5" stroke="#656565" stroke-width="0.53"/>
<path d="M85.1 97.5Q90.4 102.1 95.7 106.7T106.2 116T116.6 125.3T127 134.7" stroke="#686868" stroke-width="0.55"/>
<path d="M118.7 116.9Q111.9 118.6 105.1 120.2T91.5 123.6T78 127.1T64.4 130.4T50.8 133.9T37.3 137.7T23.9 141.6T10.5 145.6T-2.9 149.8" stroke="#515151" stroke-width="0.53"/>
<path d="M46.1 99.2Q49 105.6 51.8 112T57.3 124.9T62.4 137.9T67.3 151T72 164.2T76.7 177.4T81.5 190.6" stroke="#5c5c5c" stroke-width="0.43"/>
<path d="M120.3 134.3Q115.1 129.6 110 124.8T99.8 115.2T89.5 105.8T79.2 96.2T69.1 86.5" stroke="#696969" stroke-width="0.58"/>
<path d="M32.7 99.8Q33.8 106.7 34.9 113.6T37.2 127.5T39.7 141.2T42.4 155T45.3 168.7T48.2 182.4T51.5 196" stroke="#484848" stroke-width="0.53"/>
<path d="M8.8 182.5Q3.9 177.6 -1 172.5T-10.6 162.3" stroke="#555555" stroke-width="0.43"/>
<path d="M-3.8 166.8Q-0.3 172.9 3.2 179T10.3 191" stroke="#6a6a6a" stroke-width="0.45"/>
<path d="M119.4 134.2Q113.2 137.6 107.1 140.9T94.8 147.6T82.5 154.4T70.3 161.3T58.2 168.2T45.8 174.7T33.3 181T20.7 187.1" stroke="#5c5c5c" stroke-width="0.56"/>
<path d="M-3.9 155.5Q-0.4 161.6 2.8 167.8T9.3 180.2T15.5 192.7" stroke="#646464" stroke-width="0.55"/>
<path d="M118.9 133.5Q112.4 135.9 105.8 138.2T92.5 142.8T79.4 147.5T66.3 152.4T53.2 157.5T40.2 162.8T27.3 168T14.2 173T1 177.8T-12.1 182.7" stroke="#696969" stroke-width="0.46"/>
<path d="M118.9 156Q112.3 153.7 105.8 151.2T92.7 146.2T79.5 141.3T66.4 136.5T53.2 131.7T40 127.3T26.5 123.3T13 119.7T-0.6 116.3T-14.3 113.5" stroke="#696969" stroke-width="0.43"/>
<path d="M42.5 180.9Q44.6 174.2 46.8 167.6T51.1 154.2T55.3 140.9T59.5 127.5T63.5 114.1T67.1 100.6T70.5 87" stroke="#575757" stroke-width="0.6"/>
<path d="M110.4 180.5Q111.1 173.6 111.8 166.6T113 152.7T114 138.7T114.8 124.7T115.4 110.7T116.1 96.8" stroke="#494949" stroke-width="0.49"/>
<path d="M-1 104.4Q5.4 107.3 11.7 110.3T24.4 116.2T37.1 122T49.8 127.9T62.5 133.9T75.1 139.9T87.7 146T100.2 152.4T112.4 159.2T124.5 166.2" stroke="#515151" stroke-width="0.42"/>
<path d="M66.1 185.1Q59.6 182.7 53 180.3T40 175.2T27.2 169.6T14.6 163.4T2.3 156.7T-9.8 149.6" stroke="#484848" stroke-width="0.59"/>
<path d="M118.7 136.6Q111.9 134.9 105.2 132.9T91.8 129T78.4 124.8T65.2 120.3T51.9 115.9T38.5 111.7T25.1 107.8T11.6 103.9T-1.9 100.2T-15.4 96.6" stroke="#595959" stroke-width="0.58"/>
<path d="M69.3 99Q65.9 105.1 62.8 111.4T56.8 124T50.9 136.8T44.7 149.3T38.3 161.7T32.1 174.3T26.1 186.9" stroke="#666666" stroke-width="0.46"/>
<path d="M121.6 172.6Q117.6 166.8 113.8 161T106.2 149.2T98.6 137.4T90.9 125.7T83.1 114.1T75.5 102.4T67.9 90.6" stroke="#686868" stroke-width="0.5"/>
<path d="M-1 176.2Q5.4 179.1 11.7 182.1T24.2 188.3" stroke="#636363" stroke-width="0.41"/>
<path d="M122.3 143.3Q119.1 149.5 116.1 155.8T110.1 168.5T104.2 181.2T98 193.7" stroke="#535353" stroke-width="0.57"/>
<path d="M-0.5 107Q6.4 105.9 13.3 104.7T27.1 102.4T41 100.1T54.7 97.7T68.5 95T82.2 92.2" stroke="#464646" stroke-width="0.44"/>
<path d="M-2.1 170.2Q3.3 165.7 8.6 161.1T19.1 151.9T29.4 142.4T39.4 132.6T49.4 122.8T59.6 113.3T70 103.9T80.3 94.4" stroke="#505050" stroke-width="0.59"/>
<path d="M-0.3 94.7Q-7 96.5 -13.8 98.4" stroke="#515151" stroke-width="0.51"/>
<path d="M20 181.2Q16.9 175 13.6 168.8T7.1 156.4T0.4 144.1T-6.2 131.8" stroke="#494949" stroke-width="0.53"/>
<path d="M16.1 181.2Q19.1 174.8 22.2 168.6T28.5 156.1T34.9 143.6T41.7 131.3T48.6 119.2T55.3 106.9T61.6 94.4" stroke="#4c4c4c" stroke-width="0.6"/>
<path d="M124 168.2Q122.4 175 120.9 181.9T117.6 195.5" stroke="#6a6a6a" stroke-width="0.59"/>
<path d="M8.1 99.9Q7.4 106.8 7 113.8T6.6 127.8T6.6 141.8T6.9 155.8T7.6 169.8T8.4 183.8" stroke="#5a5a5a" stroke-width="0.52"/>
<path d="M121.8 141.7Q118.1 135.8 114.5 129.8T107.2 117.9T99.8 105.9T92.4 94.1" stroke="#656565" stroke-width="0.58"/>
<path d="M92.4 184.7Q98.8 181.8 105.2 178.9T118 173.2T130.7 167.5" stroke="#4a4a4a" stroke-width="0.55"/>
<path d="M87.6 95.3Q81 97.7 74.4 100.1T61.3 104.9T48.2 109.8T35.3 115.3T22.5 121T9.8 126.8T-2.9 132.7T-15.8 138.3" stroke="#595959" stroke-width="0.57"/>
<path d="M44 94.1Q37.1 95.4 30.2 96.5T16.4 98.9T2.7 101.4T-11 104.3" stroke="#535353" stroke-width="0.54"/>
<path d="M7.7 181.7Q11.7 176 15.4 170T22.7 158.1T30 146.1T37.5 134.3T45.1 122.5T52.6 110.7T60.2 99T67.7 87.2" stroke="#494949" stroke-width="0.59"/>
<path d="M-1.1 157Q5.2 160.1 11.5 163.1T24.1 169.2T36.6 175.5T49 182T61.3 188.7" stroke="#505050" stroke-width="0.53"/>
<path d="M120.6 157.5Q115.8 162.6 110.9 167.6T101.2 177.7T91.4 187.7" stroke="#5d5d5d" stroke-width="0.41"/>
<path d="M26.7 94.6Q19.9 96.2 13.1 97.7T-0.7 100.3T-14.5 102.4" stroke="#676767" stroke-width="0.45"/>
<path d="M35.8 96.1Q42 99.3 48.2 102.6T60.4 109.3T72.6 116.2T84.9 123T97.1 129.8T109.3 136.6T121.5 143.6" stroke="#5f5f5f" stroke-width="0.53"/>
<path d="M-1.7 162.8Q4.1 158.7 9.7 154.6T20.8 146T31.8 137.4T42.9 128.9T53.8 120.1T64.5 111.1T75.3 102.1T86.2 93.4" stroke="#494949" stroke-width="0.55"/>
<path d="M-4.4 104.8Q-1.3 98.5 1.8 92.2" stroke="#696969" stroke-width="0.6"/>
<path d="M10.6 96.5Q4.7 100.2 -1.2 104T-13 111.5" stroke="#494949" stroke-width="0.49"/>
<path d="M99.4 180.5Q98.9 173.5 98.1 166.6T96.8 152.6T96.3 138.7T96.2 124.7T96.4 110.7T97.2 96.7" stroke="#555555" stroke-width="0.55"/>
<path d="M120.2 172.1Q114.9 176.6 109.3 180.9T98.4 189.7" stroke="#4d4d4d" stroke-width="0.54"/>
<path d="M-0.4 116.1Q6.6 116 13.6 116T27.6 116.1T41.6 116.7T55.6 117.5T69.5 118.6T83.4 120.1T97.4 121.4T111.3 123T125.2 124.9" stroke="#525252" stroke-width="0.4"/>
<path d="M79.1 94.9Q85.8 96.9 92.6 98.8T106 102.9T119.3 107.1T132.6 111.6" stroke="#555555" stroke-width="0.41"/>
<path d="M124.1 137.3Q122.7 144.2 121.2 151T118.2 164.7T115 178.3T111.4 191.9" stroke="#4d4d4d" stroke-width="0.47"/>
<path d="M-0.6 140.6Q6.2 142.2 13.1 143.7T26.8 146.6T40.5 149.2T54.3 151.4T68.2 153.4T82 155.5T95.8 157.9T109.6 160.4T123.4 162.6" stroke="#535353" stroke-width="0.45"/>
<path d="M99.1 99.4Q96.5 105.9 94 112.5T89.1 125.6T84.3 138.7T79.6 151.9T75.1 165.2T70.7 178.4T66 191.6" stroke="#464646" stroke-width="0.58"/>
<path d="M73.2 98.5Q77.4 104.1 81.8 109.6T90.3 120.7T98.6 131.9T106.8 143.3T114.9 154.7T122.9 166.2T130.9 177.6" stroke="#686868" stroke-width="0.48"/>
<path d="M115.3 180.5Q114.6 173.6 113.9 166.6T112.6 152.7T111.6 138.7T110.9 124.7T110.4 110.7T110.1 96.7" stroke="#6b6b6b" stroke-width="0.44"/>
<path d="M83.1 186Q89.9 184.5 96.8 183.2T110.6 180.7T124.3 178.2" stroke="#555555" stroke-width="0.6"/>
<path d="M119.8 158.4Q114.1 162.5 108.3 166.4T96.6 174T84.6 181.3T72.6 188.5" stroke="#646464" stroke-width="0.59"/>
<path d="M-2.3 149.4Q2.8 154.1 7.9 158.9T18.1 168.5T28.3 178.2T38.2 188" stroke="#676767" stroke-width="0.46"/>
<path d="M96.8 183.8Q90.9 180.1 85.1 176.2T73.6 168.2T62.1 160.3T50.6 152.2T39.3 143.9T28 135.8T16.6 127.6T5.4 119.2T-5.8 110.8" stroke="#494949" stroke-width="0.57"/>
<path d="M16.9 181.1Q19.8 174.8 22.6 168.3T28.1 155.5T33.8 142.7T39.5 129.9T45.1 117T50.8 104.3T56.6 91.5" stroke="#6a6a6a" stroke-width="0.44"/>
<path d="M39.7 98.9Q36.2 105 32.6 110.9T25.2 122.9T17.8 134.7T10.4 146.6T3.1 158.5T-4.2 170.5T-11.6 182.4" stroke="#4a4a4a" stroke-width="0.41"/>
<path d="M25.1 183.3Q30.6 179.1 36.3 174.9T47.5 166.6T58.8 158.3T69.9 149.8T80.9 141.1T91.8 132.3T102.8 123.7T113.8 115T124.9 106.5" stroke="#585858" stroke-width="0.41"/>
<path d="M36.6 99.2Q33.6 105.5 30.4 111.7T23.7 124T16.6 136.1T9.3 148.1T2.3 160.1T-5 172.1T-12.5 183.9" stroke="#5f5f5f" stroke-width="0.52"/>
<path d="M92.9 181.7Q89 175.9 85.1 170.1T76.9 158.7T68.2 147.7T59.5 136.8T50.9 125.7T42.3 114.7T33.5 103.8T24.6 93" stroke="#464646" stroke-width="0.53"/>
<path d="M-0.4 112.1Q6.6 111.7 13.6 111.3T27.5 110.4T41.5 109.8T55.5 109.2T69.5 108.3T83.5 107.7T97.5 107.5T111.5 107.5T125.5 107.7" stroke="#606060" stroke-width="0.51"/>
<path d="M-0.4 150.3Q6.6 149.9 13.6 149.8T27.6 149.9T41.6 150.3T55.5 151.1T69.5 152.1T83.5 153T97.5 153.8T111.4 154.6T125.4 155.4" stroke="#616161" stroke-width="0.58"/>
<path d="M119.5 165.8Q113.5 162.2 107.6 158.5T95.5 151.4T83.4 144.5T71.2 137.5T59.1 130.5T46.9 123.6T34.7 116.8T22.3 110.2T10 103.6T-2.4 97.1T-14.5 90.1" stroke="#505050" stroke-width="0.54"/>
<path d="M20.3 182.1Q15.9 176.7 11.5 171.2T2.7 160.3T-6.3 149.6" stroke="#5d5d5d" stroke-width="0.54"/>
<path d="M-0.6 96.6Q-6.6 100.2 -12.5 104" stroke="#5b5b5b" stroke-width="0.41"/>
<path d="M-3.6 139.2Q0.1 145.1 3.7 151.1T10.5 163.3T17 175.7T23.5 188.2" stroke="#5f5f5f" stroke-width="0.56"/>
<path d="M123.4 154.4Q121.4 161.1 119.6 167.8T116.3 181.4T113.1 195.1" stroke="#505050" stroke-width="0.51"/>
<path d="M-0.4 113.1Q6.6 113.2 13.6 113.3T27.6 113T41.6 112.7T55.6 112.7T69.6 112.7T83.6 112.8T97.6 113T111.6 113.3T125.6 113.7" stroke="#5b5b5b" stroke-width="0.59"/>
<path d="M37.3 99.8Q38.7 106.6 40 113.5T42.6 127.3T45.1 141T47.7 154.8T50.5 168.5T53.2 182.2T55.8 196" stroke="#505050" stroke-width="0.46"/>
<path d="M62.6 99.9Q63.4 106.8 64.6 113.7T66.8 127.5T69.2 141.3T71.9 155T74.7 168.8T77.3 182.5T79.9 196.3" stroke="#5d5d5d" stroke-width="0.51"/>
<path d="M96.5 183.8Q90.6 180.2 84.7 176.3T73 168.6T61.4 160.7T49.8 153T37.9 145.5T25.8 138.6T13.3 132.2T0.6 126.3T-12.2 120.6" stroke="#5b5b5b" stroke-width="0.55"/>
<path d="M73.8 181.8Q69.7 176.1 65.6 170.4T57.5 159T49.4 147.6T41.4 136.1T33.3 124.7T24.9 113.5T16.2 102.5T7.4 91.6" stroke="#565656" stroke-width="0.53"/>
<path d="M123.8 182.3Q122 189.1 120.3 195.9" stroke="#5d5d5d" stroke-width="0.54"/>
<path d="M-1 115.7Q5.4 118.6 11.7 121.5T24.4 127.4T37 133.5T49.5 139.8T62 146.1T74.6 152.2T87.3 158.2T99.9 164.3T112.5 170.4T125 176.6" stroke="#525252" stroke-width="0.52"/>
<path d="M5.3 99.5Q2.9 106 0.5 112.6T-4.3 125.7T-9.3 138.8" stroke="#525252" stroke-width="0.49"/>
<path d="M111.2 99.9Q110.7 106.9 110.1 113.8T108.8 127.8T107.8 141.7T107.2 155.7T106.3 169.7T105.2 183.7" stroke="#7b7b7b" stroke-width="0.55"/>
<path d="M58 183.7Q63.9 180 69.9 176.4T81.9 169.2T94 162.1T106.2 155.3T118.4 148.5T130.7 141.7" stroke="#828282" stroke-width="0.71"/>
<path d="M102.9 180.5Q102.1 173.6 101.3 166.6T99.4 152.8T97.4 138.9T95 125.1T92.5 111.3T90.3 97.5" stroke="#848484" stroke-width="0.57"/>
<path d="M55.5 96.2Q49.3 99.5 43 102.6T30.4 108.7T17.7 114.6T5 120.5T-7.6 126.6" stroke="#717171" stroke-width="0.59"/>
<path d="M119.6 155.8Q113.6 159.5 107.8 163.4T96.2 171.2T84.6 179.1T73.1 187.1" stroke="#727272" stroke-width="0.56"/>
<path d="M120.5 150.1Q115.6 145.2 110.7 140.2T101 130.1T91.3 120T81.7 109.8T72.4 99.4T63 88.9" stroke="#919191" stroke-width="0.62"/>
<path d="M122.3 182.6Q119 188.8 115.9 195" stroke="#747474" stroke-width="0.64"/>
<path d="M119.6 115Q113.6 118.7 107.5 122.1T95.2 128.8T82.8 135.3T70.4 141.9T58 148.3T45.4 154.5T32.7 160.4T19.9 166.1T7.1 171.6T-5.8 177.2" stroke="#8c8c8c" stroke-width="0.64"/>
<path d="M70.2 186.3Q77.1 185.1 84 183.6T97.7 180.9T111.4 178.2T125.2 175.4" stroke="#808080" stroke-width="0.63"/>
<path d="M-4.9 119.5Q-2.4 126 0.3 132.5T5.4 145.5T10.2 158.7T14.7 171.9T19.1 185.2" stroke="#828282" stroke-width="0.65"/>
<path d="M123.2 165.4Q120.9 172 118.4 178.5T113.5 191.7" stroke="#878787" stroke-width="0.69"/>
<path d="M-6.4 125.5Q-5.4 132.5 -4.8 139.4T-3.6 153.4T-2.5 167.4T-1.6 181.3T-0.9 195.3" stroke="#8e8e8e" stroke-width="0.53"/>
<path d="M22.8 185.9Q29.7 184.3 36.5 182.8T50.2 180T63.9 177.1T77.6 174.1T91.2 171T104.9 168T118.6 165T132.3 162.4" stroke="#828282" stroke-width="0.58"/>
<path d="M79 182.8Q84.1 178.1 89.3 173.4T99.4 163.7T109.3 153.8T119.2 143.9T129.2 134.1" stroke="#8f8f8f" stroke-width="0.65"/>
<path d="M-1.1 159.6Q5.3 162.5 11.7 165.3T24.7 170.6T37.8 175.5T51 180.3T64.1 185T77.3 189.8" stroke="#747474" stroke-width="0.7"/>
<path d="M124 106.4Q122.4 99.6 121 92.7" stroke="#7e7e7e" stroke-width="0.63"/>
<path d="M-0.6 172.7Q6.2 174.4 13 175.9T26.7 178.9T40.4 182T54 185.3T67.5 189" stroke="#8f8f8f" stroke-width="0.71"/>
<path d="M118.5 150.9Q111.5 150.6 104.5 150.3T90.5 149.7T76.5 149.2T62.6 148.7T48.6 148.3T34.6 148.3T20.6 148.5T6.6 148.7T-7.4 149" stroke="#8c8c8c" stroke-width="0.57"/>
<path d="M3.3 181.7Q-0.7 175.9 -4.7 170.2T-12.9 158.9" stroke="#7a7a7a" stroke-width="0.6"/>
<path d="M87.8 99.8Q86.6 106.7 85.3 113.6T82.9 127.4T80.4 141.1T77.7 154.9T75 168.6T72 182.3T68.7 195.9" stroke="#7d7d7d" stroke-width="0.52"/>
<path d="M-4.3 147.7Q-1.2 141.5 1.9 135.2T8.1 122.6T14.1 110T19.8 97.2" stroke="#828282" stroke-width="0.74"/>
<path d="M-0.5 179.3Q6.3 180.7 13.1 182.4T26.7 185.8T40.3 189.2" stroke="#717171" stroke-width="0.56"/>
<path d="M-5.6 155.7Q-3.8 162.5 -1.7 169.1T2.6 182.5T7.1 195.7" stroke="#848484" stroke-width="0.68"/>
<path d="M-4.2 162.9Q-1 169.1 2.2 175.3T9 187.6" stroke="#8b8b8b" stroke-width="0.58"/>
<path d="M110.1 98.2Q114.6 103.6 119.1 108.9T128.2 119.6" stroke="#747474" stroke-width="0.57"/>
<path d="M118.6 118.9Q111.8 120.3 105 121.9T91.3 125T77.7 128.3T64.2 131.8T50.7 135.4T37.2 139.4T23.9 143.6T10.6 148.2T-2.4 153.2T-15.3 158.6" stroke="#838383" stroke-width="0.57"/>
<path d="M-5.9 142.5Q-4.3 149.3 -2.8 156.2T0.1 169.9T2.8 183.6" stroke="#8e8e8e" stroke-width="0.6"/>
<path d="M38.3 180.5Q38.4 173.5 38.5 166.5T38.6 152.5T38.7 138.5T38.5 124.5T38.3 110.5T38 96.5" stroke="#808080" stroke-width="0.71"/>
<path d="M-0.4 173.8Q6.6 173.3 13.6 172.9T27.5 171.9T41.5 170.7T55.4 169.6T69.4 168.6T83.4 167.6T97.3 166.6T111.3 165.6T125.2 164.5" stroke="#818181" stroke-width="0.59"/>
<path d="M121.4 180.2Q117.3 185.9 113.2 191.5" stroke="#808080" stroke-width="0.7"/>
<path d="M100.6 185Q107.1 182.4 113.8 180.1T127 175.5" stroke="#787878" stroke-width="0.74"/>
<path d="M0.5 182.6Q-4.5 177.7 -9.5 172.8" stroke="#7b7b7b" stroke-width="0.56"/>
<path d="M-2.5 116.8Q2.4 111.8 7.3 106.8T17.2 96.9T27.4 87.2" stroke="#7b7b7b" stroke-width="0.72"/>
<path d="M13 182.1Q8.5 176.7 4.1 171.3T-4.6 160.3T-13.5 149.5" stroke="#8e8e8e" stroke-width="0.72"/>
<path d="M-2.6 118.8Q2.1 124 6.9 129.1T16.2 139.5T25.6 149.9T34.9 160.4T44 171T53.1 181.6T62.1 192.4" stroke="#7b7b7b" stroke-width="0.67"/>
<path d="M118.5 156.3Q111.5 155.8 104.6 155.4T90.6 154.8T76.6 154.4T62.6 154.1T48.6 153.8T34.6 153.5T20.6 153.1T6.6 152.9T-7.4 152.9" stroke="#767676" stroke-width="0.72"/>
<path d="M96 180.8Q93.8 174.2 91.9 167.5T88 154T84.2 140.5T80.3 127.1T76 113.8T71.4 100.5T67 87.2" stroke="#7d7d7d" stroke-width="0.61"/>
<path d="M37.6 181.4Q34.1 175.4 30.7 169.3T23.8 157.1T17.2 144.8T10.7 132.4T4.1 120T-2.6 107.7T-9.3 95.4" stroke="#808080" stroke-width="0.73"/>
<path d="M-5.1 181.9Q-2.8 188.5 -0.4 195.1" stroke="#757575" stroke-width="0.66"/>
<path d="M95.7 181.4Q92.3 175.3 88.7 169.3T81.3 157.4T74 145.5T66.7 133.6T59.3 121.6T52 109.7T44.5 97.9T36.8 86.2" stroke="#7a7a7a" stroke-width="0.63"/>
<path d="M-2.5 162.7Q2.4 157.7 7.4 152.7T17.3 142.8T27 132.8T36.4 122.4T45.6 111.8T54.6 101.1T63.7 90.5" stroke="#868686" stroke-width="0.55"/>
<path d="M-5.2 174.7Q-3 181.3 -1 188" stroke="#898989" stroke-width="0.65"/>
<path d="M-1.6 185.1Q-8.2 182.6 -14.8 180.3" stroke="#8c8c8c" stroke-width="0.66"/>
<path d="M-3.5 140.2Q0.5 134.4 4.4 128.6T12.1 116.9T19.4 105T26.5 92.9" stroke="#717171" stroke-width="0.56"/>
<path d="M119.7 117Q113.9 113.1 108.1 109.2T96.7 101.1T85.4 92.7" stroke="#818181" stroke-width="0.57"/>
<path d="M-4.8 169.4Q-2.2 175.9 0.5 182.3T5.7 195.3" stroke="#8c8c8c" stroke-width="0.69"/>
<path d="M15.4 180.6Q16.8 173.8 18.3 167T21.5 153.3T24.8 139.7T28.4 126.2T32.5 112.8T36.7 99.4T40.7 86" stroke="#838383" stroke-width="0.58"/>
<path d="M-0.4 146.8Q6.6 146.7 13.6 146.8T27.6 147.1T41.6 147.3T55.6 147.1T69.6 146.8T83.6 146.4T97.6 145.8T111.6 145.5T125.6 145.2" stroke="#8e8e8e" stroke-width="0.66"/>
<path d="M87 99.9Q87.2 106.9 87.3 113.9T87.8 127.9T88.3 141.9T88.7 155.9T89 169.9T89.2 183.9" stroke="#797979" stroke-width="0.54"/>
<path d="M2.6 186.2Q-4.3 184.9 -11.2 183.5" stroke="#858585" stroke-width="0.67"/>
<path d="M-1.3 108.9Q4.7 112.4 10.9 115.7T23.1 122.5T35.3 129.5T47.5 136.3T59.8 143T72.2 149.6T84.4 156.4T96.5 163.4T108.6 170.5T120.6 177.7T132.6 184.9" stroke="#7e7e7e" stroke-width="0.58"/>
<path d="M55.6 183.2Q50 179 44.4 174.9T33 166.7T21.7 158.5T10.3 150.3T-1 142T-12.2 133.7" stroke="#707070" stroke-width="0.72"/>
<path d="M-2.8 151.5Q1.7 156.8 6.1 162.2T15 173T24 183.7T33 194.5" stroke="#919191" stroke-width="0.57"/>
<path d="M90.6 96.6Q96.6 100.3 102.4 104.1T113.8 112.2T125 120.7" stroke="#919191" stroke-width="0.52"/>
<path d="M-0.7 94Q-7.6 95.1 -14.6 96.1" stroke="#7f7f7f" stroke-width="0.7"/>
<path d="M121.1 96.1Q127.3 99.3 133.6 102.3" stroke="#828282" stroke-width="0.62"/>
<path d="M120.9 168.3Q116.3 173.5 111.7 178.9T102.8 189.6" stroke="#8d8d8d" stroke-width="0.55"/>
<path d="M119.9 136.3Q114.4 140.6 108.8 144.7T97.7 153.3T86.8 162.1T76.2 171.3T65.9 180.7T55.8 190.4" stroke="#787878" stroke-width="0.57"/>
<path d="M122.3 147.3Q119.1 153.5 115.9 159.7T109.4 172.1T103.5 184.8" stroke="#909090" stroke-width="0.65"/>
<path d="M-6.2 147.5Q-5 140.6 -3.8 133.7T-1.6 119.9T0.4 106T2.6 92.2" stroke="#707070" stroke-width="0.53"/>
<path d="M65.8 181.6Q69.6 175.8 73.6 170.1T81.7 158.6T89.6 147.1T97.5 135.5T105.5 124T113.7 112.7T122 101.4T130.6 90.4" stroke="#7e7e7e" stroke-width="0.51"/>
<path d="M120.7 155.8Q115.9 160.9 111.1 166T101.5 176.1T91.9 186.3" stroke="#919191" stroke-width="0.64"/>
<path d="M75.6 184.7Q82 181.9 88.5 179.2T101.5 174.1T114.7 169.3T127.7 164.2" stroke="#7c7c7c" stroke-width="0.74"/>
<path d="M-0.8 132.3Q5.8 130 12.5 127.7T25.6 122.9T38.5 117.5T51.3 111.8T64 105.8T76.6 99.8T89.2 93.7" stroke="#898989" stroke-width="0.68"/>
<path d="M-1.4 122.8Q4.7 126.3 10.8 129.7T22.9 136.7T35.2 143.4T47.7 149.6T60.4 155.6T73.1 161.6T85.8 167.5T98.4 173.5T110.9 179.8T123.5 186" stroke="#848484" stroke-width="0.62"/>
<path d="M103 96Q96.7 99.1 90.4 102.2T77.9 108.4T65.3 114.5T52.7 120.7T40.2 126.9T27.8 133.5T15.6 140.3T3.3 147.1T-8.8 154.1" stroke="#898989" stroke-width="0.52"/>
<path d="M-7.4 177.9L-1.9 190.8" stroke="#7b7b7b" stroke-width="0.5"/>
<path d="M94.7 94.5Q101.6 96.1 108.3 97.8T121.9 101.2" stroke="#858585" stroke-width="0.55"/>
<path d="M118.5 116.2Q111.5 116.8 104.5 117T90.6 117.6T76.6 118.4T62.6 119.3T48.6 120.3T34.7 121.4T20.8 122.7T6.8 124.3T-7 126.1" stroke="#717171" stroke-width="0.55"/>
<path d="M7.6 99.1Q10.8 105.3 14.2 111.5T20.8 123.8T27.7 136T35.1 147.8T42.9 159.5T50.9 170.9T59 182.4T67.3 193.7" stroke="#8c8c8c" stroke-width="0.57"/>
<path d="M-0.7 162.4Q6 160.4 12.6 158.1T25.9 153.7T39.3 149.5T52.7 145.6T66.1 141.6T79.5 137.6T92.9 133.5T106.3 129.4T119.7 125.3T133.1 121.2" stroke="#7a7a7a" stroke-width="0.68"/>
<path d="M-1.1 176Q5.2 179.1 11.4 182.3T23.9 188.6" stroke="#767676" stroke-width="0.7"/>
<path d="M120.4 170.8Q115.2 166 110.4 160.9T100.8 150.7T91.5 140.3T82.5 129.6T73.6 118.7T64.9 107.8T56.3 96.8T47.8 85.6" stroke="#707070" stroke-width="0.69"/>
<path d="M-0.5 177.4Q6.5 176.4 13.4 175.2T27.2 172.9T41 170.7T54.8 168.6T68.7 166.5T82.6 164.7T96.5 163.4T110.5 162.5T124.4 161.9" stroke="#858585" stroke-width="0.74"/>
<path d="M-4.2 175Q-1.1 181.2 1.8 187.6" stroke="#919191" stroke-width="0.63"/>
<path d="M123.8 132.7Q122.2 139.5 120.6 146.3T117.2 159.9T114 173.5T111 187.2" stroke="#7b7b7b" stroke-width="0.75"/>
<path d="M104.4 182.4Q109.2 177.3 113.8 172.1T122.9 161.4T131.8 150.7" stroke="#868686" stroke-width="0.66"/>
<path d="M65.4 98.2Q60.8 103.6 56.3 108.8T47.1 119.4T37.9 130T28.6 140.4T19 150.7T9.2 160.7T-0.5 170.7T-10.1 180.9" stroke="#7e7e7e" stroke-width="0.55"/>
<path d="M11.5 180.8Q13.3 174 15.3 167.3T19.1 153.8T22.7 140.3T25.9 126.7T29 113T32.2 99.4T35.6 85.8" stroke="#8a8a8a" stroke-width="0.74"/>
<path d="M47.2 99.8Q48.4 106.7 49.6 113.6T52.1 127.4T54.9 141.1T57.6 154.8T60.2 168.6T62.9 182.3T65.8 196" stroke="#707070" stroke-width="0.63"/>
<path d="M102.7 183Q97.3 178.4 92 173.9T81.2 165T70.2 156.3T59 147.9T47.8 139.6T36.3 131.6T24.6 123.8T13 116T1.4 108.2T-10 100.1" stroke="#8a8a8a" stroke-width="0.68"/>
<path d="M-7.4 101L-1.2 88.4" stroke="#818181" stroke-width="0.66"/>
<path d="M118.5 117.9Q111.6 117.3 104.6 116.6T90.6 115.4T76.7 114.1T62.7 113T48.8 112.1T34.8 111.4T20.8 110.8T6.8 110.5T-7.2 110.6" stroke="#7e7e7e" stroke-width="0.69"/>
<path d="M118.5 114.8Q111.6 115.5 104.6 116.3T90.7 118T76.8 119.8T63 121.6T49.1 123.5T35.2 125.4T21.3 127.1T7.4 128.5T-6.6 129.6" stroke="#929292" stroke-width="0.75"/>
<path d="M56.8 180.9Q54.5 174.3 52.3 167.6T47.8 154.3T43.6 141T39.7 127.5T35.8 114.1T31.8 100.7T28.3 87.1" stroke="#909090" stroke-width="0.72"/>
<path d="M118.5 122.9Q111.5 123.3 104.5 123.5T90.5 123.7T76.5 123.6T62.5 123.1T48.5 122.7T34.5 122.4T20.6 122.2T6.6 121.9T-7.4 121.4" stroke="#787878" stroke-width="0.72"/>
<path d="M124.4 115Q123.4 122 122.2 128.9T120.1 142.7T118.1 156.6T115.9 170.4T113.4 184.2" stroke="#8b8b8b" stroke-width="0.72"/>
<path d="M98.1 99.7Q96.5 106.6 95.2 113.4T92.5 127.2T89.5 140.9T86.4 154.5T83.3 168.1T80.1 181.8T77.1 195.5" stroke="#757575" stroke-width="0.53"/>
<path d="M9.3 96.1Q3.1 99.3 -3 102.7T-15.2 109.7" stroke="#757575" stroke-width="0.51"/>
<path d="M124 159.7Q122.5 166.5 120.8 173.3T117.6 187" stroke="#929292" stroke-width="0.65"/>
<path d="M10.3 181.6Q6.5 175.7 2.7 169.8T-4.9 158.1T-12.6 146.4" stroke="#898989" stroke-width="0.71"/>
<path d="M76.5 182.4Q81.3 177.4 86.4 172.5T96.5 162.9T107.1 153.8T118 144.9T128.8 136" stroke="#909090" stroke-width="0.54"/>
<path d="M118.6 136Q111.7 137.1 104.8 138.4T91 140.9T77.2 143.3T63.4 145.7T49.7 148.1T35.9 150.6T22.1 152.9T8.3 155.3T-5.5 157.8" stroke="#898989" stroke-width="0.56"/>
<path d="M118.6 100.4Q111.7 99.3 104.8 98T91 95.5T77.3 92.9T63.5 90.2" stroke="#808080" stroke-width="0.74"/>
<path d="M118.9 180.2Q112.3 182.6 105.8 185.1T92.8 190.3" stroke="#868686" stroke-width="0.74"/>
<path d="M-4.2 165.9Q-1 159.6 2.3 153.4T8.9 141.1T15.7 128.9T22.7 116.8T29.7 104.6T37 92.7" stroke="#898989" stroke-width="0.5"/>
<path d="M118.5 114.8Q111.5 114.3 104.6 113.8T90.6 112.8T76.6 111.7T62.7 110.7T48.7 109.9T34.8 108.7T20.8 107.5T6.9 106.4T-7.1 105.3" stroke="#757575" stroke-width="0.59"/>
<path d="M119.2 145.9Q112.9 149 106.6 152T94 158T81.3 163.9T68.6 169.8T55.9 175.8T43.3 181.9T30.6 187.7" stroke="#7b7b7b" stroke-width="0.6"/>
<path d="M123.2 144.1Q120.8 137.5 118.5 130.9T113.8 117.7T108.9 104.6T103.9 91.5" stroke="#8d8d8d" stroke-width="0.6"/>
<path d="M118.7 151.1Q111.9 152.8 105.1 154.4T91.5 157.7T77.9 160.9T64.2 164.2T50.6 167.4T37 170.5T23.4 173.9T9.9 177.6T-3.6 181.5" stroke="#787878" stroke-width="0.71"/>
<path d="M-4.8 163.4Q-2.2 169.9 0.6 176.3T6 189.2" stroke="#787878" stroke-width="0.71"/>
<path d="M-1.9 145.9Q3.6 141.5 9.2 137.3T20.3 128.8T31.3 120.2T42.2 111.4T53.2 102.7T64.5 94.4" stroke="#8a8a8a" stroke-width="0.56"/>
<path d="M121.2 104.1Q116.9 98.6 112.3 93.3" stroke="#848484" stroke-width="0.6"/>
<path d="M84.7 99.4Q87.3 105.9 89.8 112.4T95 125.4T100.3 138.4T105.7 151.3T111.1 164.2T116.6 177.1T122.2 189.9" stroke="#818181" stroke-width="0.67"/>
<path d="M122.8 120.3Q120.2 126.7 117.7 133.3T112.9 146.4T108.1 159.6T103.4 172.8T98.8 186" stroke="#7a7a7a" stroke-width="0.71"/>
<path d="M119.4 155Q113.3 158.4 107.3 161.9T95.1 168.8T82.8 175.5T70.6 182.4T58.6 189.6" stroke="#929292" stroke-width="0.59"/>
<path d="M31.2 98.4Q35.5 103.9 39.7 109.5T47.8 121T55.7 132.5T63.6 144.1T71.1 155.9T78.4 167.8T86 179.5T94 191" stroke="#898989" stroke-width="0.51"/>
<path d="M119.3 129.7Q113 132.9 106.8 136.2T94.4 142.7T81.9 148.9T69.5 155.4T57.4 162.4T45.4 169.7T33.6 177.2T21.6 184.4T9.5 191.4" stroke="#7f7f7f" stroke-width="0.6"/>
<path d="M110.3 95.5Q103.8 98.2 97.3 100.8T84.4 106.1T71.6 111.8T58.8 117.5T46.1 123.3T33.3 129.1T20.5 134.8T7.7 140.4T-5.2 145.9" stroke="#838383" stroke-width="0.6"/>
<path d="M4.7 181.8Q0.7 176.1 -3.3 170.4T-11.3 158.9" stroke="#7e7e7e" stroke-width="0.51"/>
<path d="M83.7 182.6Q78.7 177.7 73.8 172.7T64 162.7T54 152.9T44 143.1T34 133.3T23.6 124T13 114.8T2.4 105.6T-8.1 96.4" stroke="#747474" stroke-width="0.59"/>
<path d="M-0.8 158.1Q5.8 160.4 12.4 162.9T25.4 168T38.3 173.3T51.2 178.9T64 184.6T76.7 190.5" stroke="#828282" stroke-width="0.55"/>
<path d="M-0.7 119.1Q6 117 12.7 114.9T26.1 111T39.6 107.4T53.3 104.3T67 101.4T80.7 98.6T94.4 95.7T108.1 93T121.9 90.3" stroke="#888888" stroke-width="0.56"/>
<path d="M92.9 185.8Q86.1 184.1 79.3 182.3T65.7 179T52.1 176T38.3 173.6T24.4 171.7T10.6 169.7T-3.3 167.7" stroke="#888888" stroke-width="0.68"/>
<path d="M43.1 181Q40.6 174.4 38 167.9T32.7 155T27.2 142.1T21.8 129.2T16.7 116.1T11.8 103T6.7 90" stroke="#848484" stroke-width="0.61"/>
<path d="M31.3 184Q25.3 180.5 19.4 176.7T7.6 169.1T-3.9 161.2" stroke="#797979" stroke-width="0.63"/>
<path d="M-0.5 171.6Q6.3 172.9 13.2 174.4T26.8 177.5T40.4 180.8T54.1 183.8T67.8 186.6T81.5 189.6" stroke="#747474" stroke-width="0.64"/>
<path d="M-2.9 103.5Q1.6 98.1 6 92.7" stroke="#828282" stroke-width="0.59"/>
<path d="M117.4 187.5L129.1 179.8" stroke="#737373" stroke-width="0.69"/>
<path d="M56.7 182.4Q61.5 177.3 66.4 172.4T76.5 162.7T86.7 153.1T97.1 143.8T107.8 134.7T118.6 125.8T129.6 117.2" stroke="#8b8b8b" stroke-width="0.56"/>
<path d="M-1.5 175.6Q4.4 171.9 10.4 168.2T22.3 160.8T34.4 153.8T46.6 146.9T58.6 139.7T70.5 132.4T82.4 125T94.2 117.4T105.9 109.7T117.8 102.3T129.7 95" stroke="#848484" stroke-width="0.58"/>
<path d="M-0.6 117.8Q6.2 116.1 12.9 114.2T26.4 110.2T39.7 106.1T52.9 101.5T66.1 96.6T79.2 91.7" stroke="#747474" stroke-width="0.71"/>
<path d="M-2.6 165.3Q2.3 160.2 7 155.1T16.5 144.7T26 134.5T35.6 124.3T45.1 114T54.8 103.9T64.6 94" stroke="#8f8f8f" stroke-width="0.59"/>
<path d="M88.2 185Q81.7 182.5 75.1 180.2T61.8 175.6T48.6 171.1T35.3 166.7T22 162.2T8.9 157.4T-4.2 152.3" stroke="#858585" stroke-width="0.66"/>
<path d="M102.4 183.3Q96.8 179.1 91.2 174.9T80 166.5T68.8 158.2T57.4 150T45.9 142T34.4 134.1T22.9 126T11.5 117.9T0.1 109.8T-11.4 101.8" stroke="#7d7d7d" stroke-width="0.57"/>
<path d="M123.4 168.8Q121.3 162.1 119.2 155.4T114.8 142.1T110.3 128.8T105.8 115.6T101.1 102.4T96.3 89.3" stroke="#888888" stroke-width="0.72"/>
<path d="M61.4 182.4Q56.6 177.4 51.7 172.4T41.9 162.4T32.1 152.4T22.3 142.4T12.6 132.3T2.8 122.3T-6.9 112.2" stroke="#858585" stroke-width="0.51"/>
<path d="M118.5 124.7Q111.5 124.3 104.5 124T90.5 123.4T76.6 122.7T62.6 122.1T48.6 121.4T34.6 120.9T20.6 120.7T6.6 120.6T-7.4 121" stroke="#818181" stroke-width="0.63"/>
<path d="M48.3 94.8Q55.1 96.8 61.8 98.8T75.2 102.7T88.7 106.4T102.2 110.2T115.7 114T129.1 117.8" stroke="#7d7d7d" stroke-width="0.72"/>
<path d="M-5.8 168Q-4.1 174.8 -2.7 181.6T0.2 195.3" stroke="#919191" stroke-width="0.64"/>
<path d="M121.4 156.4Q117.3 162.1 113.2 167.7T104.8 179T96.4 190.2" stroke="#a9a9a9" stroke-width="0.95"/>
<path d="M121.2 169.6Q116.9 175.2 112.7 180.7T104.2 191.8" stroke="#ababab" stroke-width="0.84"/>
<path d="M7.1 98.2Q11.6 103.6 16.1 109T25.1 119.7T34 130.5T42.8 141.4T51.4 152.4T59.8 163.6T67.9 175T76 186.5" stroke="#9d9d9d" stroke-width="0.81"/>
<path d="M71.4 99.8Q72.3 106.8 73.1 113.7T74.5 127.7T75.3 141.6T75.8 155.6T76.1 169.6T76.6 183.6" stroke="#aeaeae" stroke-width="0.88"/>
<path d="M122.6 106.6Q119.7 100.2 117 93.8" stroke="#9b9b9b" stroke-width="0.88"/>
<path d="M118.5 109.8Q111.5 109.4 104.5 109T90.6 108.1T76.6 107.3T62.6 106.6T48.6 106T34.6 105.4T20.7 104.6T6.7 103.6T-7.2 102.3" stroke="#a1a1a1" stroke-width="0.89"/>
<path d="M-3.1 137.3Q1.2 142.9 5.5 148.4T14.1 159.4T22.8 170.4T31.7 181.2T40.8 191.8" stroke="#a7a7a7" stroke-width="0.77"/>
<path d="M52.4 183.8Q46.5 180.2 40.5 176.5T28.7 169T16.8 161.6T4.9 154.2T-6.9 146.7" stroke="#9c9c9c" stroke-width="0.83"/>
<path d="M83 99.9Q83.7 106.8 84.4 113.8T85.7 127.7T86.8 141.7T87.9 155.6T88.8 169.6T89.6 183.6" stroke="#a3a3a3" stroke-width="0.8"/>
<path d="M108.1 99.8Q106.9 106.7 105.8 113.6T103.5 127.4T101.1 141.2T98.5 155T95.3 168.6T92 182.2T88.5 195.8" stroke="#a6a6a6" stroke-width="0.71"/>
<path d="M42 182.9Q47.3 178.3 52.6 173.7T63.3 164.6T74.1 155.7T84.9 146.8T95.7 138T106.5 129.1T117.3 120.1T128 111.1" stroke="#b2b2b2" stroke-width="0.84"/>
<path d="M119 152.5Q112.5 155.1 106 157.6T93 162.8T79.9 167.9T66.8 172.7T53.5 177.3T40.2 181.5T26.8 185.5T13.3 189.4" stroke="#999999" stroke-width="0.82"/>
<path d="M120.9 135.8Q116.2 141 111.5 146.2T101.8 156.3T91.9 166.2T81.8 175.9T71.6 185.4" stroke="#b1b1b1" stroke-width="0.68"/>
<path d="M-4 173Q-0.5 179.1 3.1 185.1" stroke="#a8a8a8" stroke-width="0.96"/>
<path d="M112.8 98.9Q109.3 105 105.6 110.9T98.1 122.8T90.7 134.6T83.3 146.5T75.8 158.3T68.4 170.2T60.9 182T53.4 193.9" stroke="#a0a0a0" stroke-width="0.73"/>
<path d="M118.5 103.5Q111.6 104.2 104.6 104.7T90.6 105.6T76.6 106.3T62.7 106.9T48.7 107.6T34.7 108.5T20.7 109.6T6.8 110.8T-7.1 112.1" stroke="#989898" stroke-width="0.92"/>
<path d="M15.4 104.6L64.8 137L100 162" stroke="rgb(150,150,150)" stroke-width="0.9"/>
<path d="M0 141.7L86.4 109.3L118 98" stroke="rgb(165,165,165)" stroke-width="1"/>
<path d="M83.3 103L108 144L118 162" stroke="rgb(150,150,150)" stroke-width="0.9"/>
<path d="M86.4 101.5L92.6 144L97 180" stroke="rgb(140,140,140)" stroke-width="0.8"/>
<path d="M43.2 103L118 135" stroke="rgb(140,140,140)" stroke-width="0.8"/>
<path d="M50 146L118 166" stroke="rgb(150,150,150)" stroke-width="1"/>
<path d="M0 112L70 101" stroke="rgb(140,140,140)" stroke-width="0.8"/>
</g>
</g>
<g>
<g clip-path="url(#inset)">
<rect x="1" y="147" width="47" height="33" fill="url(#insg)"/>
<path d="M3.8 147L25.6 147L40.5 180L18.8 180Z" fill="#7e7e7e"/>
<path d="M8 147L23 180M12.5 147L27.5 180M17 147L32 180M21.5 147L36.5 180" stroke="#8e8e8e" stroke-width="0.6" fill="none"/>
<path d="M10.7 159.6L31.4 157.3M12 164.6L28 160.6M8.8 157L15.2 171.5M25.6 150.5L33.6 161.5" stroke="#e41a1a" stroke-width="0.85" fill="none"/>
<text x="10.6" y="157.2" font-size="4.8" font-weight="bold" text-anchor="start" fill="#e41a1a" transform="rotate(-23 10.6 157.2)" textLength="17" lengthAdjust="spacingAndGlyphs" >7.00 µm</text>
</g>
</g>
<rect x="0.6" y="179.2" width="116.9" height="5.5" fill="#080808"/>
<rect x="2.8" y="180.7" width="2.4" height="2.5" fill="#cfcfcf"/>
<rect x="9.4" y="180.8" width="3.3" height="1" fill="#9c9c9c"/>
<rect x="8.6" y="182.6" width="5.4" height="1" fill="#a8a8a8"/>
<rect x="17.8" y="180.8" width="6.6" height="1" fill="#9c9c9c"/>
<rect x="18.6" y="182.6" width="4.6" height="1" fill="#a8a8a8"/>
<rect x="26.5" y="180.8" width="3" height="1" fill="#9c9c9c"/>
<rect x="26.2" y="182.6" width="3.6" height="1" fill="#a8a8a8"/>
<rect x="32.8" y="180.8" width="3.4" height="1" fill="#9c9c9c"/>
<rect x="33.8" y="182.6" width="1.6" height="1" fill="#a8a8a8"/>
<rect x="41.2" y="180.8" width="3.3" height="1" fill="#9c9c9c"/>
<rect x="40.2" y="182.6" width="6.2" height="1" fill="#a8a8a8"/>
<rect x="6.6" y="180" width="0.5" height="3.9" fill="#444"/>
<rect x="16.5" y="180" width="0.5" height="3.9" fill="#444"/>
<rect x="25.7" y="180" width="0.5" height="3.9" fill="#444"/>
<rect x="31.6" y="180" width="0.5" height="3.9" fill="#444"/>
<rect x="38.6" y="180" width="0.5" height="3.9" fill="#444"/>
<rect x="47.9" y="180" width="0.5" height="3.9" fill="#444"/>
<rect x="74.1" y="182.8" width="17" height="0.9" fill="#8a8a8a"/>
<rect x="65.9" y="179.6" width="32.2" height="1.3" fill="#fff"/>
<rect x="54" y="180" width="57" height="0.5" fill="#bbb"/>
<text x="81.7" y="176.7" font-size="10.4" font-weight="bold" text-anchor="middle" fill="#fff" textLength="33.7" lengthAdjust="spacingAndGlyphs" >500 µm</text>
<text x="2.7" y="111.5" font-size="12" font-weight="bold" text-anchor="start" fill="#fff" >(b)</text>
<rect x="0.6" y="196.4" width="116.9" height="78.6" fill="#6c6c6c"/>
<rect x="0.6" y="196.4" width="116.9" height="78.6" filter="url(#noisec)"/>
<rect x="0.6" y="196.4" width="116.9" height="78.6" filter="url(#noisec2)" opacity="0.35"/>
<rect x="0.6" y="274.3" width="116.9" height="5.5" fill="#080808"/>
<rect x="2.8" y="275.8" width="2.4" height="2.5" fill="#cfcfcf"/>
<rect x="9.4" y="275.9" width="3.3" height="1" fill="#9c9c9c"/>
<rect x="8.6" y="277.7" width="5.4" height="1" fill="#a8a8a8"/>
<rect x="17.8" y="275.9" width="6.6" height="1" fill="#9c9c9c"/>
<rect x="18.6" y="277.7" width="4.6" height="1" fill="#a8a8a8"/>
<rect x="26.5" y="275.9" width="3" height="1" fill="#9c9c9c"/>
<rect x="26.2" y="277.7" width="3.6" height="1" fill="#a8a8a8"/>
<rect x="32.8" y="275.9" width="3.4" height="1" fill="#9c9c9c"/>
<rect x="33.8" y="277.7" width="1.6" height="1" fill="#a8a8a8"/>
<rect x="41.2" y="275.9" width="3.3" height="1" fill="#9c9c9c"/>
<rect x="40.2" y="277.7" width="6.2" height="1" fill="#a8a8a8"/>
<rect x="6.6" y="275.1" width="0.5" height="3.9" fill="#444"/>
<rect x="16.5" y="275.1" width="0.5" height="3.9" fill="#444"/>
<rect x="25.7" y="275.1" width="0.5" height="3.9" fill="#444"/>
<rect x="31.6" y="275.1" width="0.5" height="3.9" fill="#444"/>
<rect x="38.6" y="275.1" width="0.5" height="3.9" fill="#444"/>
<rect x="47.9" y="275.1" width="0.5" height="3.9" fill="#444"/>
<rect x="74.1" y="277.9" width="17" height="0.9" fill="#8a8a8a"/>
<rect x="58.8" y="275.3" width="46.6" height="1.25" fill="#fff"/>
<text x="80.4" y="272.1" font-size="10.4" font-weight="bold" text-anchor="middle" fill="#fff" textLength="33.8" lengthAdjust="spacingAndGlyphs" >200 µm</text>
<text x="2.9" y="207.4" font-size="12" font-weight="bold" text-anchor="start" fill="#fff" >(c)</text>
<rect x="61" y="221" width="37.3" height="32" fill="none" stroke="#d82626" stroke-width="1.15" stroke-dasharray="4.2 2.4"/>
<path d="M98.3 221L140 196.3M98.3 253L140 279.5" stroke="#dc2020" stroke-width="1.25" stroke-dasharray="5 3" fill="none"/>
<g clip-path="url(#clip4)">
<rect x="140" y="196" width="118" height="79" fill="#3e3e3e"/>
<g filter="url(#b4)" fill="none" stroke-linecap="round">
<polygon points="140,196 166,196 158,210 150,220 140,222" fill="#1c1c1c" stroke="#1c1c1c" stroke-width="1"/>
<polygon points="214,196 258,196 258,216 236,214 224,204" fill="#1c1c1c" stroke="#1c1c1c" stroke-width="1"/>
<polygon points="197.5,210 210,209 211,226 198,227" fill="#202020" stroke="#202020" stroke-width="1"/>
<polygon points="177,263 191,262 192,273 178,274" fill="#0c0c0c" stroke="#0c0c0c" stroke-width="1"/>
<polygon points="157,248 191,246 192,263 160,265" fill="#2a2a2a" stroke="#2a2a2a" stroke-width="1"/>
<polygon points="140,254 146,252 147,274 140,274" fill="#2c2c2c" stroke="#2c2c2c" stroke-width="1"/>
<polygon points="198,236 212,235 205,246 198,246" fill="#2a2a2a" stroke="#2a2a2a" stroke-width="1"/>
<polygon points="246,248 258,246 258,274 248,274" fill="#3a3a3a" stroke="#3a3a3a" stroke-width="1"/>
<polygon points="160,222 174,224 170,232 158,230" fill="#303030" stroke="#303030" stroke-width="1"/>
<path d="M140 224.5L195 232.8" stroke="#646464" stroke-width="4"/>
<path d="M140 224.5L195 232.8" stroke="#545454" stroke-width="2.4"/>
<path d="M144 238Q150 250 156 259" stroke="#6c6c6c" stroke-width="3.5"/>
<path d="M144 238Q150 250 156 259" stroke="#5a5a5a" stroke-width="2.1"/>
<path d="M149 261L179 270.5" stroke="#707070" stroke-width="2.2"/>
<path d="M149 261L179 270.5" stroke="#626262" stroke-width="1.32"/>
<path d="M150 264L176 274" stroke="#6a6a6a" stroke-width="2"/>
<path d="M150 264L176 274" stroke="#5c5c5c" stroke-width="1.2"/>
<path d="M178.2 202L214 206" stroke="#6c6c6c" stroke-width="2.4"/>
<path d="M178.2 202L214 206" stroke="#5c5c5c" stroke-width="1.44"/>
<path d="M168 196L143 236" stroke="#808080" stroke-width="6.5"/>
<path d="M168 196L143 236" stroke="#666666" stroke-width="3.9"/>
<path d="M152 214L171 270" stroke="#7a7a7a" stroke-width="5"/>
<path d="M152 214L171 270" stroke="#626262" stroke-width="3"/>
<path d="M200 212.5L228 234.5" stroke="#7a7a7a" stroke-width="4.6"/>
<path d="M200 212.5L228 234.5" stroke="#646464" stroke-width="2.76"/>
<path d="M228 238L215 256" stroke="#787878" stroke-width="4"/>
<path d="M228 238L215 256" stroke="#646464" stroke-width="2.4"/>
<path d="M250 236L232.5 274" stroke="#787878" stroke-width="5"/>
<path d="M250 236L232.5 274" stroke="#626262" stroke-width="3"/>
<path d="M196.8 195L196.8 276" stroke="#767676" stroke-width="3.3"/>
<path d="M196.8 195L196.8 276" stroke="#606060" stroke-width="1.98"/>
<path d="M207 194L259 231" stroke="#747474" stroke-width="8"/>
<path d="M207 194L259 231" stroke="#606060" stroke-width="4.8"/>
<path d="M213 240L246 244" stroke="#646464" stroke-width="3"/>
<path d="M213 240L246 244" stroke="#585858" stroke-width="1.8"/>
<path d="M222 262L258 258" stroke="#606060" stroke-width="3"/>
<path d="M222 262L258 258" stroke="#545454" stroke-width="1.8"/>
<path d="M243 196L214 214" stroke="#606060" stroke-width="3"/>
<path d="M243 196L214 214" stroke="#525252" stroke-width="1.8"/>
<circle cx="176" cy="206" r="1.8" fill="#969696"/>
<circle cx="178" cy="210" r="1.7" fill="#969696"/>
<circle cx="180" cy="214" r="1.8" fill="#969696"/>
<circle cx="182.5" cy="218.5" r="1.7" fill="#969696"/>
<circle cx="185" cy="223" r="1.8" fill="#969696"/>
<circle cx="187.5" cy="227.5" r="1.7" fill="#969696"/>
<circle cx="190" cy="232" r="1.8" fill="#969696"/>
<circle cx="192" cy="236.5" r="1.7" fill="#969696"/>
<circle cx="187.8" cy="214.9" r="3.5" fill="#8c8c8c"/>
<circle cx="232.9" cy="232.6" r="3" fill="#969696"/>
<circle cx="210.3" cy="254.1" r="4.8" fill="#808080"/>
<circle cx="221.6" cy="255.7" r="3" fill="#878787"/>
<circle cx="168" cy="252" r="2.4" fill="#787878"/>
<circle cx="184" cy="244" r="2.2" fill="#7d7d7d"/>
<circle cx="236" cy="250" r="2.5" fill="#7d7d7d"/>
<circle cx="171" cy="240" r="2" fill="#7d7d7d"/>
</g>
<rect x="140" y="196" width="118" height="79" filter="url(#noised)" opacity="0.28"/>
</g>
<rect x="140.2" y="274.2" width="117.3" height="5.6" fill="#080808"/>
<rect x="142.4" y="275.7" width="2.4" height="2.6" fill="#cfcfcf"/>
<rect x="149" y="275.8" width="3.3" height="1" fill="#9c9c9c"/>
<rect x="148.2" y="277.7" width="5.4" height="1" fill="#a8a8a8"/>
<rect x="157.4" y="275.8" width="6.6" height="1" fill="#9c9c9c"/>
<rect x="158.2" y="277.7" width="4.6" height="1" fill="#a8a8a8"/>
<rect x="166.1" y="275.8" width="3" height="1" fill="#9c9c9c"/>
<rect x="165.8" y="277.7" width="3.6" height="1" fill="#a8a8a8"/>
<rect x="172.4" y="275.8" width="3.4" height="1" fill="#9c9c9c"/>
<rect x="173.4" y="277.7" width="1.6" height="1" fill="#a8a8a8"/>
<rect x="180.8" y="275.8" width="3.3" height="1" fill="#9c9c9c"/>
<rect x="179.8" y="277.7" width="6.2" height="1" fill="#a8a8a8"/>
<rect x="146.2" y="275" width="0.5" height="4" fill="#444"/>
<rect x="156.1" y="275" width="0.5" height="4" fill="#444"/>
<rect x="165.3" y="275" width="0.5" height="4" fill="#444"/>
<rect x="171.2" y="275" width="0.5" height="4" fill="#444"/>
<rect x="178.2" y="275" width="0.5" height="4" fill="#444"/>
<rect x="187.5" y="275" width="0.5" height="4" fill="#444"/>
<rect x="213.7" y="277.9" width="17" height="0.9" fill="#8a8a8a"/>
<rect x="208" y="274.7" width="30.5" height="1.3" fill="#fff"/>
<text x="222" y="271.9" font-size="10.2" font-weight="bold" text-anchor="middle" fill="#fff" textLength="22.5" lengthAdjust="spacingAndGlyphs" >1 µm</text>
<text x="143.8" y="207.6" font-size="11.5" font-weight="bold" text-anchor="start" fill="#fff" >(c</text>
<path d="M154.92 198.4l-0.7 3" stroke="#fff" stroke-width="1.15" fill="none"/>
<text x="155.72" y="207.6" font-size="11.5" font-weight="bold" text-anchor="start" fill="#fff" >)</text>
<g clip-path="url(#hc1)">
<rect x="160.58" y="42.3" width="12" height="41.2" fill="#fc0606" stroke="#3a0000" stroke-width="0.7"/>
<rect x="175.96" y="16.71" width="12" height="66.79" fill="#fc0606" stroke="#3a0000" stroke-width="0.7"/>
<rect x="191.35" y="40.47" width="12" height="43.03" fill="#fc0606" stroke="#3a0000" stroke-width="0.7"/>
<rect x="206.74" y="62.4" width="12" height="21.1" fill="#fc0606" stroke="#3a0000" stroke-width="0.7"/>
<rect x="222.12" y="75.19" width="12" height="8.31" fill="#fc0606" stroke="#3a0000" stroke-width="0.7"/>
<rect x="237.51" y="80.67" width="12" height="2.83" fill="#fc0606" stroke="#3a0000" stroke-width="0.7"/>
<path d="M143.5 75.63C144.01 75.25 145.55 74.19 146.58 73.34C147.6 72.49 148.63 71.56 149.65 70.53C150.68 69.5 151.71 68.38 152.73 67.16C153.76 65.94 154.78 64.62 155.81 63.21C156.83 61.8 157.86 60.3 158.89 58.72C159.91 57.14 160.94 55.47 161.96 53.75C162.99 52.03 164.01 50.23 165.04 48.42C166.07 46.6 167.09 44.72 168.12 42.88C169.14 41.03 170.17 39.14 171.19 37.33C172.22 35.51 173.25 33.7 174.27 32C175.3 30.3 176.32 28.64 177.35 27.14C178.37 25.63 179.4 24.21 180.43 22.98C181.45 21.75 182.48 20.64 183.5 19.75C184.53 18.86 185.55 18.13 186.58 17.63C187.61 17.13 188.63 16.82 189.66 16.74C190.68 16.65 191.71 16.78 192.73 17.12C193.76 17.46 194.79 18.02 195.81 18.76C196.84 19.5 197.86 20.46 198.89 21.57C199.91 22.67 200.94 23.97 201.97 25.38C202.99 26.78 204.02 28.35 205.04 29.98C206.07 31.61 207.09 33.38 208.12 35.16C209.15 36.93 210.17 38.8 211.2 40.64C212.22 42.49 213.25 44.38 214.27 46.21C215.3 48.05 216.33 49.89 217.35 51.65C218.38 53.41 219.4 55.15 220.43 56.78C221.45 58.42 222.48 60 223.51 61.48C224.53 62.95 225.56 64.35 226.58 65.65C227.61 66.94 228.63 68.14 229.66 69.25C230.69 70.36 231.71 71.36 232.74 72.28C233.76 73.21 234.79 74.03 235.81 74.78C236.84 75.53 237.87 76.18 238.89 76.77C239.92 77.37 240.94 77.88 241.97 78.34C242.99 78.8 244.02 79.18 245.05 79.53C246.07 79.88 247.1 80.17 248.12 80.43C249.15 80.68 250.69 80.97 251.2 81.08" fill="none" stroke="#111" stroke-width="1"/>
</g>
<rect x="143.5" y="9.4" width="107.7" height="73.1" fill="none" stroke="#1c1c1c" stroke-width="0.95"/>
<path d="M143.5 82.5v1.8" stroke="#222" stroke-width="0.7"/>
<text x="143.5" y="89.4" font-size="4.5"  text-anchor="middle" fill="#000" stroke="#000" stroke-width="0.12">0</text>
<path d="M174.27 82.5v1.8" stroke="#222" stroke-width="0.7"/>
<text x="174.27" y="89.4" font-size="4.5"  text-anchor="middle" fill="#000" stroke="#000" stroke-width="0.12">2</text>
<path d="M205.04 82.5v1.8" stroke="#222" stroke-width="0.7"/>
<text x="205.04" y="89.4" font-size="4.5"  text-anchor="middle" fill="#000" stroke="#000" stroke-width="0.12">4</text>
<path d="M235.81 82.5v1.8" stroke="#222" stroke-width="0.7"/>
<text x="235.81" y="89.4" font-size="4.5"  text-anchor="middle" fill="#000" stroke="#000" stroke-width="0.12">6</text>
<path d="M158.89 82.5v1.8" stroke="#222" stroke-width="0.7"/>
<path d="M189.66 82.5v1.8" stroke="#222" stroke-width="0.7"/>
<path d="M220.43 82.5v1.8" stroke="#222" stroke-width="0.7"/>
<path d="M251.2 82.5v1.8" stroke="#222" stroke-width="0.7"/>
<path d="M143.5 82.5h-1.8" stroke="#222" stroke-width="0.7"/>
<text x="141.1" y="84.12" font-size="4.5"  text-anchor="end" fill="#000" stroke="#000" stroke-width="0.12">0</text>
<path d="M143.5 64.22h-1.8" stroke="#222" stroke-width="0.7"/>
<text x="141.1" y="65.84" font-size="4.5"  text-anchor="end" fill="#000" stroke="#000" stroke-width="0.12">10</text>
<path d="M143.5 45.95h-1.8" stroke="#222" stroke-width="0.7"/>
<text x="141.1" y="47.57" font-size="4.5"  text-anchor="end" fill="#000" stroke="#000" stroke-width="0.12">20</text>
<path d="M143.5 27.68h-1.8" stroke="#222" stroke-width="0.7"/>
<text x="141.1" y="29.3" font-size="4.5"  text-anchor="end" fill="#000" stroke="#000" stroke-width="0.12">30</text>
<path d="M143.5 9.4h-1.8" stroke="#222" stroke-width="0.7"/>
<text x="141.1" y="11.02" font-size="4.5"  text-anchor="end" fill="#000" stroke="#000" stroke-width="0.12">40</text>
<text x="197.5" y="95.7" font-size="6.4" font-weight="bold" text-anchor="middle" fill="#000" textLength="57" lengthAdjust="spacingAndGlyphs" >Fiber diameter (µm)</text>
<text x="133" y="45.2" font-size="6.3" font-weight="bold" text-anchor="middle" fill="#000" transform="rotate(-90 133 45.2)" textLength="44.6" lengthAdjust="spacingAndGlyphs" >Distribution (%)</text>
<text x="249.3" y="16.7" font-size="7" font-weight="bold" text-anchor="end" fill="#000" textLength="55.3" lengthAdjust="spacingAndGlyphs" >Average diameter</text>
<text x="247.5" y="25.9" font-size="7" font-weight="bold" text-anchor="end" fill="#000" textLength="40.7" lengthAdjust="spacingAndGlyphs" >3.04±1.43 µm</text>
<text x="119.3" y="15.6" font-size="12" font-weight="bold" text-anchor="start" fill="#000" >(a</text>
<path d="M130.87 6l-0.7 3" stroke="#000" stroke-width="1.15" fill="none"/>
<text x="131.67" y="15.6" font-size="12" font-weight="bold" text-anchor="start" fill="#000" >)</text>
<g clip-path="url(#hc2)">
<rect x="146.54" y="172.77" width="11.87" height="5.03" fill="#fc0606" stroke="#3a0000" stroke-width="0.7"/>
<rect x="161.76" y="135.16" width="11.87" height="42.64" fill="#fc0606" stroke="#3a0000" stroke-width="0.7"/>
<rect x="176.98" y="110.99" width="11.87" height="66.81" fill="#fc0606" stroke="#3a0000" stroke-width="0.7"/>
<rect x="192.2" y="158" width="11.87" height="19.8" fill="#fc0606" stroke="#3a0000" stroke-width="0.7"/>
<rect x="207.42" y="175.46" width="11.87" height="2.34" fill="#fc0606" stroke="#3a0000" stroke-width="0.7"/>
<rect x="237.85" y="175.46" width="11.87" height="2.34" fill="#fc0606" stroke="#3a0000" stroke-width="0.7"/>
<path d="M141.82 172.97C142.33 172.64 143.85 171.76 144.87 170.97C145.88 170.18 146.89 169.28 147.91 168.22C148.92 167.15 149.94 165.95 150.95 164.58C151.97 163.2 152.98 161.67 154 159.97C155.01 158.27 156.03 156.39 157.04 154.39C158.06 152.39 159.07 150.2 160.08 147.96C161.1 145.71 162.11 143.29 163.13 140.9C164.14 138.51 165.16 135.99 166.17 133.6C167.19 131.2 168.2 128.75 169.22 126.53C170.23 124.3 171.25 122.12 172.26 120.24C173.27 118.37 174.29 116.63 175.3 115.28C176.32 113.92 177.33 112.8 178.35 112.09C179.36 111.37 180.38 110.99 181.39 110.99C182.41 110.99 183.42 111.37 184.44 112.09C185.45 112.8 186.46 113.92 187.48 115.28C188.49 116.63 189.51 118.37 190.52 120.24C191.54 122.12 192.55 124.3 193.57 126.53C194.58 128.75 195.6 131.2 196.61 133.6C197.63 135.99 198.64 138.51 199.65 140.9C200.67 143.29 201.68 145.71 202.7 147.96C203.71 150.2 204.73 152.39 205.74 154.39C206.76 156.39 207.77 158.27 208.79 159.97C209.8 161.67 210.82 163.2 211.83 164.58C212.84 165.95 213.86 167.15 214.87 168.22C215.89 169.28 216.9 170.18 217.92 170.97C218.93 171.76 219.95 172.41 220.96 172.97C221.98 173.54 222.99 173.98 224.01 174.37C225.02 174.76 226.03 175.05 227.05 175.31C228.06 175.57 229.08 175.75 230.09 175.92C231.11 176.08 232.12 176.19 233.14 176.29C234.15 176.39 235.17 176.46 236.18 176.52C237.2 176.58 238.21 176.62 239.22 176.65C240.24 176.68 241.25 176.7 242.27 176.72C243.28 176.74 244.3 176.75 245.31 176.76C246.33 176.77 247.34 176.78 248.36 176.78C249.37 176.79 250.89 176.79 251.4 176.79" fill="none" stroke="#111" stroke-width="1"/>
</g>
<rect x="143.8" y="103.2" width="107.6" height="73.6" fill="none" stroke="#1c1c1c" stroke-width="0.95"/>
<path d="M160.08 176.8v1.8" stroke="#222" stroke-width="0.7"/>
<text x="160.08" y="182.3" font-size="4.5"  text-anchor="middle" fill="#000" stroke="#000" stroke-width="0.12">6</text>
<path d="M190.52 176.8v1.8" stroke="#222" stroke-width="0.7"/>
<text x="190.52" y="182.3" font-size="4.5"  text-anchor="middle" fill="#000" stroke="#000" stroke-width="0.12">8</text>
<path d="M220.96 176.8v1.8" stroke="#222" stroke-width="0.7"/>
<text x="220.96" y="182.3" font-size="4.5"  text-anchor="middle" fill="#000" stroke="#000" stroke-width="0.12">10</text>
<path d="M251.4 176.8v1.8" stroke="#222" stroke-width="0.7"/>
<text x="251.4" y="182.3" font-size="4.5"  text-anchor="middle" fill="#000" stroke="#000" stroke-width="0.12">12</text>
<path d="M144.87 176.8v1.8" stroke="#222" stroke-width="0.7"/>
<path d="M175.3 176.8v1.8" stroke="#222" stroke-width="0.7"/>
<path d="M205.74 176.8v1.8" stroke="#222" stroke-width="0.7"/>
<path d="M236.18 176.8v1.8" stroke="#222" stroke-width="0.7"/>
<path d="M143.8 176.8h-1.8" stroke="#222" stroke-width="0.7"/>
<text x="142.2" y="178.42" font-size="4.5"  text-anchor="end" fill="#000" stroke="#000" stroke-width="0.12">0</text>
<path d="M143.8 163.37h-1.8" stroke="#222" stroke-width="0.7"/>
<text x="142.2" y="164.99" font-size="4.5"  text-anchor="end" fill="#000" stroke="#000" stroke-width="0.12">10</text>
<path d="M143.8 149.94h-1.8" stroke="#222" stroke-width="0.7"/>
<text x="142.2" y="151.56" font-size="4.5"  text-anchor="end" fill="#000" stroke="#000" stroke-width="0.12">20</text>
<path d="M143.8 136.51h-1.8" stroke="#222" stroke-width="0.7"/>
<text x="142.2" y="138.13" font-size="4.5"  text-anchor="end" fill="#000" stroke="#000" stroke-width="0.12">30</text>
<path d="M143.8 123.08h-1.8" stroke="#222" stroke-width="0.7"/>
<text x="142.2" y="124.7" font-size="4.5"  text-anchor="end" fill="#000" stroke="#000" stroke-width="0.12">40</text>
<path d="M143.8 109.65h-1.8" stroke="#222" stroke-width="0.7"/>
<text x="142.2" y="111.27" font-size="4.5"  text-anchor="end" fill="#000" stroke="#000" stroke-width="0.12">50</text>
<text x="198.7" y="188.9" font-size="6.4" font-weight="bold" text-anchor="middle" fill="#000" textLength="56.5" lengthAdjust="spacingAndGlyphs" >Fiber diameter (µm)</text>
<text x="133.5" y="141.1" font-size="6.3" font-weight="bold" text-anchor="middle" fill="#000" transform="rotate(-90 133.5 141.1)" textLength="44.9" lengthAdjust="spacingAndGlyphs" >Distribution (%)</text>
<text x="249.3" y="111" font-size="7" font-weight="bold" text-anchor="end" fill="#000" textLength="55.3" lengthAdjust="spacingAndGlyphs" >Average diameter</text>
<text x="247.5" y="120.4" font-size="7" font-weight="bold" text-anchor="end" fill="#000" textLength="40.7" lengthAdjust="spacingAndGlyphs" >7.40±1.09 µm</text>
<text x="119.3" y="111.6" font-size="12" font-weight="bold" text-anchor="start" fill="#000" >(b</text>
<path d="M131.53 102l-0.7 3" stroke="#000" stroke-width="1.15" fill="none"/>
<text x="132.33" y="111.6" font-size="12" font-weight="bold" text-anchor="start" fill="#000" >)</text>
<g clip-path="url(#hc3)">
<rect x="280.5" y="19.27" width="9.71" height="64.03" fill="#fc0606" stroke="#3a0000" stroke-width="0.7"/>
<rect x="290.21" y="69.99" width="9.71" height="13.31" fill="#fc0606" stroke="#3a0000" stroke-width="0.7"/>
<rect x="299.92" y="79.56" width="9.71" height="3.74" fill="#fc0606" stroke="#3a0000" stroke-width="0.7"/>
<rect x="309.63" y="80.35" width="9.71" height="2.95" fill="#fc0606" stroke="#3a0000" stroke-width="0.7"/>
<rect x="329.05" y="81.13" width="9.71" height="2.17" fill="#fc0606" stroke="#3a0000" stroke-width="0.7"/>
<rect x="348.46" y="80.74" width="9.71" height="2.56" fill="#fc0606" stroke="#3a0000" stroke-width="0.7"/>
<rect x="358.17" y="75.46" width="9.71" height="7.84" fill="#fc0606" stroke="#3a0000" stroke-width="0.7"/>
<rect x="367.88" y="77.41" width="9.71" height="5.89" fill="#fc0606" stroke="#3a0000" stroke-width="0.7"/>
<rect x="377.59" y="81.52" width="9.71" height="1.78" fill="#fc0606" stroke="#3a0000" stroke-width="0.7"/>
<path d="M280.5 16.64C280.82 18.5 281.79 24.42 282.44 27.82C283.09 31.23 283.74 34.25 284.38 37.07C285.03 39.88 285.68 42.38 286.33 44.71C286.97 47.03 287.62 49.1 288.27 51.02C288.91 52.95 289.56 54.66 290.21 56.25C290.86 57.83 291.5 59.25 292.15 60.56C292.8 61.87 293.45 63.04 294.09 64.13C294.74 65.21 295.39 66.18 296.03 67.08C296.68 67.97 297.33 68.77 297.98 69.51C298.62 70.25 299.27 70.91 299.92 71.53C300.57 72.14 301.21 72.69 301.86 73.19C302.51 73.7 303.15 74.15 303.8 74.57C304.45 74.99 305.1 75.36 305.74 75.71C306.39 76.05 307.04 76.36 307.69 76.65C308.33 76.93 308.98 77.19 309.63 77.42C310.27 77.66 310.92 77.87 311.57 78.07C312.22 78.26 312.86 78.44 313.51 78.6C314.16 78.76 314.81 78.9 315.45 79.04C316.1 79.17 316.75 79.29 317.39 79.4C318.04 79.51 318.69 79.61 319.34 79.7C319.98 79.79 320.63 79.87 321.28 79.95C321.93 80.02 322.57 80.09 323.22 80.15C323.87 80.21 324.51 80.27 325.16 80.32C325.81 80.37 326.46 80.42 327.1 80.46C327.75 80.5 328.4 80.54 329.05 80.58C329.69 80.61 330.34 80.64 330.99 80.67C331.63 80.7 332.28 80.73 332.93 80.75C333.58 80.77 334.22 80.8 334.87 80.82C335.52 80.84 336.17 80.85 336.81 80.87C337.46 80.89 338.11 80.9 338.75 80.91C339.4 80.93 340.05 80.94 340.7 80.95C341.34 80.96 341.99 80.97 342.64 80.98C343.29 80.99 343.93 81 344.58 81.01C345.23 81.01 345.87 81.02 346.52 81.03C347.17 81.03 347.82 81.04 348.46 81.05C349.11 81.05 349.76 81.06 350.41 81.06C351.05 81.06 351.7 81.07 352.35 81.07C352.99 81.07 353.64 81.08 354.29 81.08C354.94 81.08 355.58 81.09 356.23 81.09C356.88 81.09 357.53 81.09 358.17 81.1C358.82 81.1 359.47 81.1 360.11 81.1C360.76 81.1 361.41 81.1 362.06 81.11C362.7 81.11 363.35 81.11 364 81.11C364.65 81.11 365.29 81.11 365.94 81.11C366.59 81.11 367.23 81.11 367.88 81.12C368.53 81.12 369.18 81.12 369.82 81.12C370.47 81.12 371.12 81.12 371.77 81.12C372.41 81.12 373.06 81.12 373.71 81.12C374.35 81.12 375 81.12 375.65 81.12C376.3 81.12 376.94 81.12 377.59 81.12C378.24 81.12 378.89 81.12 379.53 81.12C380.18 81.12 380.83 81.12 381.47 81.12C382.12 81.12 382.77 81.12 383.42 81.12C384.06 81.12 384.71 81.13 385.36 81.13C386.01 81.13 386.98 81.13 387.3 81.13" fill="none" stroke="#111" stroke-width="1"/>
</g>
<rect x="280.5" y="9.5" width="106.8" height="72.8" fill="none" stroke="#1c1c1c" stroke-width="0.95"/>
<path d="M280.5 82.3v1.8" stroke="#222" stroke-width="0.7"/>
<text x="280.5" y="88.6" font-size="4"  text-anchor="middle" fill="#000" stroke="#000" stroke-width="0.12">0</text>
<path d="M299.92 82.3v1.8" stroke="#222" stroke-width="0.7"/>
<text x="299.92" y="88.6" font-size="4"  text-anchor="middle" fill="#000" stroke="#000" stroke-width="0.12">2</text>
<path d="M319.34 82.3v1.8" stroke="#222" stroke-width="0.7"/>
<text x="319.34" y="88.6" font-size="4"  text-anchor="middle" fill="#000" stroke="#000" stroke-width="0.12">4</text>
<path d="M338.75 82.3v1.8" stroke="#222" stroke-width="0.7"/>
<text x="338.75" y="88.6" font-size="4"  text-anchor="middle" fill="#000" stroke="#000" stroke-width="0.12">6</text>
<path d="M358.17 82.3v1.8" stroke="#222" stroke-width="0.7"/>
<text x="358.17" y="88.6" font-size="4"  text-anchor="middle" fill="#000" stroke="#000" stroke-width="0.12">8</text>
<path d="M377.59 82.3v1.8" stroke="#222" stroke-width="0.7"/>
<text x="377.59" y="88.6" font-size="4"  text-anchor="middle" fill="#000" stroke="#000" stroke-width="0.12">10</text>
<path d="M280.5 82.3h-1.8" stroke="#222" stroke-width="0.7"/>
<text x="278.1" y="83.74" font-size="4"  text-anchor="end" fill="#000" stroke="#000" stroke-width="0.12">0</text>
<path d="M280.5 72.53h-1.8" stroke="#222" stroke-width="0.7"/>
<text x="278.1" y="73.97" font-size="4"  text-anchor="end" fill="#000" stroke="#000" stroke-width="0.12">10</text>
<path d="M280.5 62.76h-1.8" stroke="#222" stroke-width="0.7"/>
<text x="278.1" y="64.2" font-size="4"  text-anchor="end" fill="#000" stroke="#000" stroke-width="0.12">20</text>
<path d="M280.5 52.99h-1.8" stroke="#222" stroke-width="0.7"/>
<text x="278.1" y="54.43" font-size="4"  text-anchor="end" fill="#000" stroke="#000" stroke-width="0.12">30</text>
<path d="M280.5 43.21h-1.8" stroke="#222" stroke-width="0.7"/>
<text x="278.1" y="44.65" font-size="4"  text-anchor="end" fill="#000" stroke="#000" stroke-width="0.12">40</text>
<path d="M280.5 33.44h-1.8" stroke="#222" stroke-width="0.7"/>
<text x="278.1" y="34.88" font-size="4"  text-anchor="end" fill="#000" stroke="#000" stroke-width="0.12">50</text>
<path d="M280.5 23.67h-1.8" stroke="#222" stroke-width="0.7"/>
<text x="278.1" y="25.11" font-size="4"  text-anchor="end" fill="#000" stroke="#000" stroke-width="0.12">60</text>
<path d="M280.5 13.9h-1.8" stroke="#222" stroke-width="0.7"/>
<text x="278.1" y="15.34" font-size="4"  text-anchor="end" fill="#000" stroke="#000" stroke-width="0.12">70</text>
<text x="335.9" y="94.5" font-size="6.3" font-weight="bold" text-anchor="middle" fill="#000" textLength="55" lengthAdjust="spacingAndGlyphs" >Pore diameter (µm)</text>
<text x="271.8" y="45.6" font-size="6.2" font-weight="bold" text-anchor="middle" fill="#000" transform="rotate(-90 271.8 45.6)" textLength="44.5" lengthAdjust="spacingAndGlyphs" >Distribution (%)</text>
<text x="384.6" y="15.7" font-size="5.6" font-weight="bold" text-anchor="end" fill="#000" textLength="86" lengthAdjust="spacingAndGlyphs" >Average pore diameter: 2.04 µm</text>
<text x="254.8" y="15.9" font-size="12" font-weight="bold" text-anchor="start" fill="#000" >(a</text>
<path d="M265.97 6.9l-0.4 1.9" stroke="#000" stroke-width="0.8" fill="none"/>
<path d="M267.27 6.9l-0.4 1.9" stroke="#000" stroke-width="0.8" fill="none"/>
<path d="M268.57 6.9l-0.4 1.9" stroke="#000" stroke-width="0.8" fill="none"/>
<text x="269.97" y="15.9" font-size="12" font-weight="bold" text-anchor="start" fill="#000" >)</text>
<g clip-path="url(#hc4)">
<rect x="280.6" y="161.08" width="10.67" height="17.32" fill="#fc0606" stroke="#3a0000" stroke-width="0.7"/>
<rect x="291.27" y="134.96" width="10.67" height="43.44" fill="#fc0606" stroke="#3a0000" stroke-width="0.7"/>
<rect x="301.94" y="134.96" width="10.67" height="43.44" fill="#fc0606" stroke="#3a0000" stroke-width="0.7"/>
<rect x="312.61" y="112.1" width="10.67" height="66.3" fill="#fc0606" stroke="#3a0000" stroke-width="0.7"/>
<rect x="323.28" y="148.02" width="10.67" height="30.38" fill="#fc0606" stroke="#3a0000" stroke-width="0.7"/>
<rect x="333.95" y="148.02" width="10.67" height="30.38" fill="#fc0606" stroke="#3a0000" stroke-width="0.7"/>
<rect x="344.62" y="164.34" width="10.67" height="14.06" fill="#fc0606" stroke="#3a0000" stroke-width="0.7"/>
<rect x="355.29" y="148.02" width="10.67" height="30.38" fill="#fc0606" stroke="#3a0000" stroke-width="0.7"/>
<rect x="365.96" y="141.49" width="10.67" height="36.91" fill="#fc0606" stroke="#3a0000" stroke-width="0.7"/>
<rect x="376.63" y="154.55" width="10.67" height="23.85" fill="#fc0606" stroke="#3a0000" stroke-width="0.7"/>
<path d="M280.6 177.4C281.49 174.41 284.16 165.05 285.94 159.44C287.71 153.84 289.49 148.4 291.27 143.77C293.05 139.15 294.83 135.23 296.61 131.69C298.38 128.15 300.16 125.11 301.94 122.55C303.72 119.99 305.5 117.92 307.28 116.34C309.05 114.77 310.83 113.79 312.61 113.08C314.39 112.37 316.17 112.15 317.94 112.1C319.72 112.05 321.5 112.21 323.28 112.75C325.06 113.3 326.84 114.28 328.62 115.37C330.39 116.45 332.17 117.76 333.95 119.28C335.73 120.81 337.51 122.66 339.29 124.51C341.06 126.36 342.84 128.37 344.62 130.38C346.4 132.4 348.18 134.52 349.96 136.59C351.73 138.66 353.51 140.78 355.29 142.79C357.07 144.8 358.85 146.87 360.62 148.67C362.4 150.46 364.18 152.1 365.96 153.57C367.74 155.03 369.52 156.23 371.3 157.48C373.07 158.74 374.85 159.88 376.63 161.08C378.41 162.27 380.19 163.58 381.97 164.67C383.74 165.75 386.41 167.12 387.3 167.61" fill="none" stroke="#111" stroke-width="1"/>
</g>
<rect x="280.6" y="104" width="106.7" height="73.4" fill="none" stroke="#1c1c1c" stroke-width="0.95"/>
<path d="M280.6 177.4v1.8" stroke="#222" stroke-width="0.7"/>
<text x="280.6" y="183.7" font-size="4.5"  text-anchor="middle" fill="#000" stroke="#000" stroke-width="0.12">0</text>
<path d="M307.28 177.4v1.8" stroke="#222" stroke-width="0.7"/>
<text x="307.28" y="183.7" font-size="4.5"  text-anchor="middle" fill="#000" stroke="#000" stroke-width="0.12">5</text>
<path d="M333.95 177.4v1.8" stroke="#222" stroke-width="0.7"/>
<text x="333.95" y="183.7" font-size="4.5"  text-anchor="middle" fill="#000" stroke="#000" stroke-width="0.12">10</text>
<path d="M360.62 177.4v1.8" stroke="#222" stroke-width="0.7"/>
<text x="360.62" y="183.7" font-size="4.5"  text-anchor="middle" fill="#000" stroke="#000" stroke-width="0.12">15</text>
<path d="M387.3 177.4v1.8" stroke="#222" stroke-width="0.7"/>
<text x="387.3" y="183.7" font-size="4.5"  text-anchor="middle" fill="#000" stroke="#000" stroke-width="0.12">20</text>
<path d="M280.6 177.4h-1.8" stroke="#222" stroke-width="0.7"/>
<text x="278.2" y="179.02" font-size="4.5"  text-anchor="end" fill="#000" stroke="#000" stroke-width="0.12">0</text>
<path d="M280.6 161.08h-1.8" stroke="#222" stroke-width="0.7"/>
<text x="278.2" y="162.7" font-size="4.5"  text-anchor="end" fill="#000" stroke="#000" stroke-width="0.12">5</text>
<path d="M280.6 144.75h-1.8" stroke="#222" stroke-width="0.7"/>
<text x="278.2" y="146.37" font-size="4.5"  text-anchor="end" fill="#000" stroke="#000" stroke-width="0.12">10</text>
<path d="M280.6 128.43h-1.8" stroke="#222" stroke-width="0.7"/>
<text x="278.2" y="130.05" font-size="4.5"  text-anchor="end" fill="#000" stroke="#000" stroke-width="0.12">15</text>
<path d="M280.6 112.1h-1.8" stroke="#222" stroke-width="0.7"/>
<text x="278.2" y="113.72" font-size="4.5"  text-anchor="end" fill="#000" stroke="#000" stroke-width="0.12">20</text>
<text x="336.1" y="189.6" font-size="6.3" font-weight="bold" text-anchor="middle" fill="#000" textLength="55" lengthAdjust="spacingAndGlyphs" >Pore diameter (µm)</text>
<text x="272.1" y="142.6" font-size="6.2" font-weight="bold" text-anchor="middle" fill="#000" transform="rotate(-90 272.1 142.6)" textLength="43.8" lengthAdjust="spacingAndGlyphs" >Distribution (%)</text>
<text x="384.6" y="109.3" font-size="5.6" font-weight="bold" text-anchor="end" fill="#000" textLength="86" lengthAdjust="spacingAndGlyphs" >Average pore diameter: 9.40 µm</text>
<text x="254.8" y="111.6" font-size="12" font-weight="bold" text-anchor="start" fill="#000" >(b</text>
<path d="M266.63 102.6l-0.4 1.9" stroke="#000" stroke-width="0.8" fill="none"/>
<path d="M267.93 102.6l-0.4 1.9" stroke="#000" stroke-width="0.8" fill="none"/>
<path d="M269.23 102.6l-0.4 1.9" stroke="#000" stroke-width="0.8" fill="none"/>
<text x="270.63" y="111.6" font-size="12" font-weight="bold" text-anchor="start" fill="#000" >)</text>
<g clip-path="url(#hc5)">
<rect x="281.4" y="228.03" width="13.39" height="44.77" fill="#fc0606" stroke="#3a0000" stroke-width="0.7"/>
<rect x="294.79" y="206.95" width="13.39" height="65.85" fill="#fc0606" stroke="#3a0000" stroke-width="0.7"/>
<rect x="308.17" y="247.48" width="13.39" height="25.32" fill="#fc0606" stroke="#3a0000" stroke-width="0.7"/>
<rect x="321.56" y="253.97" width="13.39" height="18.83" fill="#fc0606" stroke="#3a0000" stroke-width="0.7"/>
<rect x="334.95" y="263.69" width="13.39" height="9.11" fill="#fc0606" stroke="#3a0000" stroke-width="0.7"/>
<rect x="361.73" y="270.67" width="13.39" height="2.13" fill="#fc0606" stroke="#3a0000" stroke-width="0.7"/>
<rect x="375.11" y="270.5" width="13.39" height="2.3" fill="#fc0606" stroke="#3a0000" stroke-width="0.7"/>
<path d="M281.4 271.8C281.62 269.37 282.29 261.8 282.74 257.21C283.19 252.62 283.59 248.16 284.08 244.24C284.57 240.32 285.1 237.35 285.68 233.7C286.26 230.06 286.93 225.33 287.56 222.36C288.18 219.38 288.72 217.82 289.43 215.87C290.15 213.93 290.95 212.06 291.84 210.68C292.73 209.3 293.85 208.28 294.79 207.6C295.72 206.93 296.57 206.63 297.46 206.63C298.36 206.63 299.29 207.01 300.14 207.6C300.99 208.2 301.66 209.22 302.55 210.2C303.44 211.17 304.52 212.09 305.5 213.44C306.48 214.79 307.37 216.22 308.44 218.3C309.51 220.38 310.63 223.49 311.92 225.92C313.22 228.35 314.87 230.7 316.21 232.89C317.55 235.08 318.22 236.22 319.96 239.05C321.7 241.89 324.82 247.1 326.65 249.91C328.48 252.72 329.46 254.08 330.93 255.91C332.41 257.75 333.7 259.4 335.49 260.94C337.27 262.48 339.41 263.96 341.64 265.15C343.88 266.34 345.57 267.18 348.87 268.07C352.18 268.96 357.08 269.94 361.46 270.5C365.83 271.07 370.61 271.26 375.11 271.48C379.62 271.69 386.27 271.75 388.5 271.8" fill="none" stroke="#111" stroke-width="1"/>
</g>
<rect x="281.4" y="198.2" width="107.1" height="73.6" fill="none" stroke="#1c1c1c" stroke-width="0.95"/>
<path d="M281.4 271.8v1.8" stroke="#222" stroke-width="0.7"/>
<text x="281.4" y="278.1" font-size="4.5"  text-anchor="middle" fill="#000" stroke="#000" stroke-width="0.12">0</text>
<path d="M308.17 271.8v1.8" stroke="#222" stroke-width="0.7"/>
<text x="308.17" y="278.1" font-size="4.5"  text-anchor="middle" fill="#000" stroke="#000" stroke-width="0.12">1</text>
<path d="M334.95 271.8v1.8" stroke="#222" stroke-width="0.7"/>
<text x="334.95" y="278.1" font-size="4.5"  text-anchor="middle" fill="#000" stroke="#000" stroke-width="0.12">2</text>
<path d="M361.73 271.8v1.8" stroke="#222" stroke-width="0.7"/>
<text x="361.73" y="278.1" font-size="4.5"  text-anchor="middle" fill="#000" stroke="#000" stroke-width="0.12">3</text>
<path d="M388.5 271.8v1.8" stroke="#222" stroke-width="0.7"/>
<text x="388.5" y="278.1" font-size="4.5"  text-anchor="middle" fill="#000" stroke="#000" stroke-width="0.12">4</text>
<path d="M281.4 271.8h-1.8" stroke="#222" stroke-width="0.7"/>
<text x="279" y="273.42" font-size="4.5"  text-anchor="end" fill="#000" stroke="#000" stroke-width="0.12">0</text>
<path d="M281.4 255.59h-1.8" stroke="#222" stroke-width="0.7"/>
<text x="279" y="257.21" font-size="4.5"  text-anchor="end" fill="#000" stroke="#000" stroke-width="0.12">10</text>
<path d="M281.4 239.38h-1.8" stroke="#222" stroke-width="0.7"/>
<text x="279" y="241" font-size="4.5"  text-anchor="end" fill="#000" stroke="#000" stroke-width="0.12">20</text>
<path d="M281.4 223.17h-1.8" stroke="#222" stroke-width="0.7"/>
<text x="279" y="224.79" font-size="4.5"  text-anchor="end" fill="#000" stroke="#000" stroke-width="0.12">30</text>
<path d="M281.4 206.95h-1.8" stroke="#222" stroke-width="0.7"/>
<text x="279" y="208.57" font-size="4.5"  text-anchor="end" fill="#000" stroke="#000" stroke-width="0.12">40</text>
<text x="335.6" y="283.8" font-size="6.3" font-weight="bold" text-anchor="middle" fill="#000" textLength="55" lengthAdjust="spacingAndGlyphs" >Pore diameter (µm)</text>
<text x="272.3" y="236.6" font-size="6.2" font-weight="bold" text-anchor="middle" fill="#000" transform="rotate(-90 272.3 236.6)" textLength="43.9" lengthAdjust="spacingAndGlyphs" >Distribution (%)</text>
<text x="386.4" y="204.1" font-size="5.6" font-weight="bold" text-anchor="end" fill="#000" textLength="85.7" lengthAdjust="spacingAndGlyphs" >Average pore diameter: 0.94 µm</text>
<text x="257.5" y="206.3" font-size="12" font-weight="bold" text-anchor="start" fill="#000" >(c</text>
<path d="M268.67 197.3l-0.4 1.9" stroke="#000" stroke-width="0.8" fill="none"/>
<path d="M269.97 197.3l-0.4 1.9" stroke="#000" stroke-width="0.8" fill="none"/>
<path d="M271.27 197.3l-0.4 1.9" stroke="#000" stroke-width="0.8" fill="none"/>
<text x="272.67" y="206.3" font-size="12" font-weight="bold" text-anchor="start" fill="#000" >)</text>
<rect x="422.4" y="18" width="151.2" height="112.4" fill="none" stroke="#222" stroke-width="1"/>
<path d="M422.4 122.3h-2.6" stroke="#222" stroke-width="0.9"/>
<text x="418.8" y="124.8" font-size="7"  text-anchor="end" fill="#000" stroke="#000" stroke-width="0.18">70</text>
<path d="M422.4 106.28h-2.6" stroke="#222" stroke-width="0.9"/>
<text x="418.8" y="108.78" font-size="7"  text-anchor="end" fill="#000" stroke="#000" stroke-width="0.18">75</text>
<path d="M422.4 90.27h-2.6" stroke="#222" stroke-width="0.9"/>
<text x="418.8" y="92.77" font-size="7"  text-anchor="end" fill="#000" stroke="#000" stroke-width="0.18">80</text>
<path d="M422.4 74.25h-2.6" stroke="#222" stroke-width="0.9"/>
<text x="418.8" y="76.75" font-size="7"  text-anchor="end" fill="#000" stroke="#000" stroke-width="0.18">85</text>
<path d="M422.4 58.23h-2.6" stroke="#222" stroke-width="0.9"/>
<text x="418.8" y="60.73" font-size="7"  text-anchor="end" fill="#000" stroke="#000" stroke-width="0.18">90</text>
<path d="M422.4 42.22h-2.6" stroke="#222" stroke-width="0.9"/>
<text x="418.8" y="44.72" font-size="7"  text-anchor="end" fill="#000" stroke="#000" stroke-width="0.18">95</text>
<path d="M422.4 26.2h-2.6" stroke="#222" stroke-width="0.9"/>
<text x="418.8" y="28.7" font-size="7"  text-anchor="end" fill="#000" stroke="#000" stroke-width="0.18">100</text>
<path d="M422.4 114.29h-1.5" stroke="#222" stroke-width="0.7"/>
<path d="M422.4 98.28h-1.5" stroke="#222" stroke-width="0.7"/>
<path d="M422.4 82.26h-1.5" stroke="#222" stroke-width="0.7"/>
<path d="M422.4 66.24h-1.5" stroke="#222" stroke-width="0.7"/>
<path d="M422.4 50.23h-1.5" stroke="#222" stroke-width="0.7"/>
<path d="M422.4 34.21h-1.5" stroke="#222" stroke-width="0.7"/>
<path d="M422.4 18.19h-1.5" stroke="#222" stroke-width="0.7"/>
<path d="M435.2 130.4v-2.4" stroke="#222" stroke-width="0.9"/>
<path d="M460.4 130.4v-2.4" stroke="#222" stroke-width="0.9"/>
<path d="M485.6 130.4v-2.4" stroke="#222" stroke-width="0.9"/>
<path d="M510.8 130.4v-2.4" stroke="#222" stroke-width="0.9"/>
<path d="M536 130.4v-2.4" stroke="#222" stroke-width="0.9"/>
<path d="M561.2 130.4v-2.4" stroke="#222" stroke-width="0.9"/>
<path d="M447.8 130.4v-1.4" stroke="#222" stroke-width="0.8"/>
<path d="M473 130.4v-1.4" stroke="#222" stroke-width="0.8"/>
<path d="M498.2 130.4v-1.4" stroke="#222" stroke-width="0.8"/>
<path d="M523.4 130.4v-1.4" stroke="#222" stroke-width="0.8"/>
<path d="M548.6 130.4v-1.4" stroke="#222" stroke-width="0.8"/>
<path d="M435.2 41.2V45.5M430.35 41.2h9.7M430.35 45.5h9.7" stroke="#f01010" stroke-width="1.3" fill="none"/>
<circle cx="435.2" cy="43.3" r="2.5" fill="#f00a0a"/>
<path d="M460.4 99.4V119.3M455.55 99.4h9.7M455.55 119.3h9.7" stroke="#f01010" stroke-width="1.3" fill="none"/>
<circle cx="460.4" cy="109.9" r="2.5" fill="#f00a0a"/>
<path d="M485.6 70.8V77.6M480.75 70.8h9.7M480.75 77.6h9.7" stroke="#f01010" stroke-width="1.3" fill="none"/>
<circle cx="485.6" cy="74.5" r="2.5" fill="#f00a0a"/>
<path d="M510.8 57.2V67.5M505.95 57.2h9.7M505.95 67.5h9.7" stroke="#f01010" stroke-width="1.3" fill="none"/>
<circle cx="510.8" cy="62.5" r="2.5" fill="#f00a0a"/>
<path d="M536 38V47.2M531.15 38h9.7M531.15 47.2h9.7" stroke="#f01010" stroke-width="1.3" fill="none"/>
<circle cx="536" cy="42.5" r="2.5" fill="#f00a0a"/>
<path d="M561.2 28.5V35.4M556.35 28.5h9.7M556.35 35.4h9.7" stroke="#f01010" stroke-width="1.3" fill="none"/>
<circle cx="561.2" cy="32" r="2.5" fill="#f00a0a"/>
<text x="405.2" y="73.1" font-size="9.9" font-weight="bold" text-anchor="middle" fill="#000" transform="rotate(-90 405.2 73.1)" textLength="102.8" lengthAdjust="spacingAndGlyphs" >Removal efficiency (%)</text>
<text x="393.2" y="14.4" font-size="14.5" font-weight="bold" text-anchor="start" fill="#000" >(d)</text>
<text x="434.4" y="136.46" font-size="6" font-weight="bold" stroke="#000" stroke-width="0.22" text-anchor="middle" transform="rotate(-45 434.4 134.3)" textLength="23.5" lengthAdjust="spacingAndGlyphs">Com PP</text>
<text x="458" y="142.96" font-size="6" font-weight="bold" stroke="#000" stroke-width="0.22" text-anchor="middle" transform="rotate(-45 458 140.8)" textLength="8" lengthAdjust="spacingAndGlyphs">CF</text>
<text x="485.1" y="135.16" font-size="6" font-weight="bold" stroke="#000" stroke-width="0.22" text-anchor="middle" transform="rotate(-45 485.1 133)" textLength="34" lengthAdjust="spacingAndGlyphs">f-CNF@CF-1</text>
<text x="510.3" y="135.16" font-size="6" font-weight="bold" stroke="#000" stroke-width="0.22" text-anchor="middle" transform="rotate(-45 510.3 133)" textLength="34" lengthAdjust="spacingAndGlyphs">f-CNF@CF-2</text>
<text x="535.6" y="135.16" font-size="6" font-weight="bold" stroke="#000" stroke-width="0.22" text-anchor="middle" transform="rotate(-45 535.6 133)" textLength="34" lengthAdjust="spacingAndGlyphs">f-CNF@CF-3</text>
<text x="561" y="134.76" font-size="6" font-weight="bold" stroke="#000" stroke-width="0.22" text-anchor="middle" transform="rotate(-45 561 132.6)" textLength="34" lengthAdjust="spacingAndGlyphs">f-CNF@CF-4</text>
<rect x="612.2" y="17.3" width="150.7" height="112.5" fill="none" stroke="#222" stroke-width="1"/>
<path d="M612.2 119.8h-2.6" stroke="#222" stroke-width="0.9"/>
<text x="608.6" y="122.3" font-size="7"  text-anchor="end" fill="#000" stroke="#000" stroke-width="0.18">150</text>
<path d="M612.2 101.1h-2.6" stroke="#222" stroke-width="0.9"/>
<text x="608.6" y="103.6" font-size="7"  text-anchor="end" fill="#000" stroke="#000" stroke-width="0.18">200</text>
<path d="M612.2 82.4h-2.6" stroke="#222" stroke-width="0.9"/>
<text x="608.6" y="84.9" font-size="7"  text-anchor="end" fill="#000" stroke="#000" stroke-width="0.18">250</text>
<path d="M612.2 63.7h-2.6" stroke="#222" stroke-width="0.9"/>
<text x="608.6" y="66.2" font-size="7"  text-anchor="end" fill="#000" stroke="#000" stroke-width="0.18">300</text>
<path d="M612.2 45h-2.6" stroke="#222" stroke-width="0.9"/>
<text x="608.6" y="47.5" font-size="7"  text-anchor="end" fill="#000" stroke="#000" stroke-width="0.18">350</text>
<path d="M612.2 26.3h-2.6" stroke="#222" stroke-width="0.9"/>
<text x="608.6" y="28.8" font-size="7"  text-anchor="end" fill="#000" stroke="#000" stroke-width="0.18">400</text>
<path d="M612.2 110.45h-1.5" stroke="#222" stroke-width="0.7"/>
<path d="M612.2 91.75h-1.5" stroke="#222" stroke-width="0.7"/>
<path d="M612.2 73.05h-1.5" stroke="#222" stroke-width="0.7"/>
<path d="M612.2 54.35h-1.5" stroke="#222" stroke-width="0.7"/>
<path d="M612.2 35.65h-1.5" stroke="#222" stroke-width="0.7"/>
<path d="M625.1 129.8v-2.4" stroke="#222" stroke-width="0.9"/>
<path d="M650.2 129.8v-2.4" stroke="#222" stroke-width="0.9"/>
<path d="M675.3 129.8v-2.4" stroke="#222" stroke-width="0.9"/>
<path d="M700.4 129.8v-2.4" stroke="#222" stroke-width="0.9"/>
<path d="M725.5 129.8v-2.4" stroke="#222" stroke-width="0.9"/>
<path d="M750.6 129.8v-2.4" stroke="#222" stroke-width="0.9"/>
<path d="M637.6 129.8v-1.4" stroke="#222" stroke-width="0.8"/>
<path d="M662.7 129.8v-1.4" stroke="#222" stroke-width="0.8"/>
<path d="M687.8 129.8v-1.4" stroke="#222" stroke-width="0.8"/>
<path d="M712.9 129.8v-1.4" stroke="#222" stroke-width="0.8"/>
<path d="M738 129.8v-1.4" stroke="#222" stroke-width="0.8"/>
<path d="M624.8 110.4V113.6M619.95 110.4h9.7M619.95 113.6h9.7" stroke="#f01010" stroke-width="1.3" fill="none"/>
<circle cx="624.8" cy="112" r="2.5" fill="#f00a0a"/>
<path d="M650 32.8V39M645.15 32.8h9.7M645.15 39h9.7" stroke="#f01010" stroke-width="1.3" fill="none"/>
<circle cx="650" cy="35.8" r="2.5" fill="#f00a0a"/>
<path d="M675.3 52V58.3M670.45 52h9.7M670.45 58.3h9.7" stroke="#f01010" stroke-width="1.3" fill="none"/>
<circle cx="675.3" cy="55.1" r="2.5" fill="#f00a0a"/>
<path d="M700.4 75.8V87.8M695.55 75.8h9.7M695.55 87.8h9.7" stroke="#f01010" stroke-width="1.3" fill="none"/>
<circle cx="700.4" cy="81.8" r="2.5" fill="#f00a0a"/>
<path d="M725.4 98.9V105.4M720.55 98.9h9.7M720.55 105.4h9.7" stroke="#f01010" stroke-width="1.3" fill="none"/>
<circle cx="725.4" cy="102.3" r="2.5" fill="#f00a0a"/>
<path d="M750.8 112V118.6M745.95 112h9.7M745.95 118.6h9.7" stroke="#f01010" stroke-width="1.3" fill="none"/>
<circle cx="750.8" cy="115.1" r="2.5" fill="#f00a0a"/>
<text x="592.4" y="73" font-size="9.7" font-weight="bold" text-anchor="middle" fill="#000" transform="rotate(-90 592.4 73)" textLength="104.6" lengthAdjust="spacingAndGlyphs" >Air permeability (mm/s)</text>
<text x="581.8" y="12.2" font-size="14.5" font-weight="bold" text-anchor="start" fill="#000" >(e)</text>
<text x="623.8" y="133.89" font-size="5.8" font-weight="bold" stroke="#000" stroke-width="0.22" text-anchor="middle" transform="rotate(-45 623.8 131.8)" textLength="22.5" lengthAdjust="spacingAndGlyphs">Com PP</text>
<text x="647.4" y="139.59" font-size="5.8" font-weight="bold" stroke="#000" stroke-width="0.22" text-anchor="middle" transform="rotate(-45 647.4 137.5)" textLength="8" lengthAdjust="spacingAndGlyphs">CF</text>
<text x="674.2" y="132.49" font-size="5.8" font-weight="bold" stroke="#000" stroke-width="0.22" text-anchor="middle" transform="rotate(-45 674.2 130.4)" textLength="33" lengthAdjust="spacingAndGlyphs">f-CNF@CF-1</text>
<text x="699.6" y="132.49" font-size="5.8" font-weight="bold" stroke="#000" stroke-width="0.22" text-anchor="middle" transform="rotate(-45 699.6 130.4)" textLength="33" lengthAdjust="spacingAndGlyphs">f-CNF@CF-2</text>
<text x="724.6" y="132.49" font-size="5.8" font-weight="bold" stroke="#000" stroke-width="0.22" text-anchor="middle" transform="rotate(-45 724.6 130.4)" textLength="33" lengthAdjust="spacingAndGlyphs">f-CNF@CF-3</text>
<text x="749.8" y="132.49" font-size="5.8" font-weight="bold" stroke="#000" stroke-width="0.22" text-anchor="middle" transform="rotate(-45 749.8 130.4)" textLength="33" lengthAdjust="spacingAndGlyphs">f-CNF@CF-4</text>
<rect x="422.4" y="154.5" width="151.6" height="112" fill="none" stroke="#222" stroke-width="1"/>
<path d="M422.4 266.5h-2.6" stroke="#222" stroke-width="0.9"/>
<text x="418.8" y="269" font-size="7"  text-anchor="end" fill="#000" stroke="#000" stroke-width="0.18">80</text>
<path d="M422.4 238.5h-2.6" stroke="#222" stroke-width="0.9"/>
<text x="418.8" y="241" font-size="7"  text-anchor="end" fill="#000" stroke="#000" stroke-width="0.18">85</text>
<path d="M422.4 210.5h-2.6" stroke="#222" stroke-width="0.9"/>
<text x="418.8" y="213" font-size="7"  text-anchor="end" fill="#000" stroke="#000" stroke-width="0.18">90</text>
<path d="M422.4 182.5h-2.6" stroke="#222" stroke-width="0.9"/>
<text x="418.8" y="185" font-size="7"  text-anchor="end" fill="#000" stroke="#000" stroke-width="0.18">95</text>
<path d="M422.4 154.5h-2.6" stroke="#222" stroke-width="0.9"/>
<text x="418.8" y="157" font-size="7"  text-anchor="end" fill="#000" stroke="#000" stroke-width="0.18">100</text>
<path d="M422.4 252.5h-1.5" stroke="#222" stroke-width="0.7"/>
<path d="M422.4 224.5h-1.5" stroke="#222" stroke-width="0.7"/>
<path d="M422.4 196.5h-1.5" stroke="#222" stroke-width="0.7"/>
<path d="M422.4 168.5h-1.5" stroke="#222" stroke-width="0.7"/>
<path d="M437.5 266.5v2.4" stroke="#222" stroke-width="0.9"/>
<path d="M467.8 266.5v2.4" stroke="#222" stroke-width="0.9"/>
<path d="M498.1 266.5v2.4" stroke="#222" stroke-width="0.9"/>
<path d="M528.4 266.5v2.4" stroke="#222" stroke-width="0.9"/>
<path d="M558.7 266.5v2.4" stroke="#222" stroke-width="0.9"/>
<path d="M452.6 266.5v1.4" stroke="#222" stroke-width="0.8"/>
<path d="M482.9 266.5v1.4" stroke="#222" stroke-width="0.8"/>
<path d="M513.2 266.5v1.4" stroke="#222" stroke-width="0.8"/>
<path d="M543.5 266.5v1.4" stroke="#222" stroke-width="0.8"/>
<path d="M438.3 158.9V170.2M433.45 158.9h9.7M433.45 170.2h9.7" stroke="#f01010" stroke-width="1.3" fill="none"/>
<circle cx="438.3" cy="164.4" r="2.5" fill="#f00a0a"/>
<path d="M468.5 166.2V169.9M463.65 166.2h9.7M463.65 169.9h9.7" stroke="#f01010" stroke-width="1.3" fill="none"/>
<circle cx="468.5" cy="168.1" r="2.5" fill="#f00a0a"/>
<path d="M498.4 163.6V174.6M493.55 163.6h9.7M493.55 174.6h9.7" stroke="#f01010" stroke-width="1.3" fill="none"/>
<circle cx="498.4" cy="168.9" r="2.5" fill="#f00a0a"/>
<path d="M528.6 170.7V174.4M523.75 170.7h9.7M523.75 174.4h9.7" stroke="#f01010" stroke-width="1.3" fill="none"/>
<circle cx="528.6" cy="172.3" r="2.5" fill="#f00a0a"/>
<path d="M558.7 174.1V181.2M553.85 174.1h9.7M553.85 181.2h9.7" stroke="#f01010" stroke-width="1.3" fill="none"/>
<circle cx="558.7" cy="177.5" r="2.5" fill="#f00a0a"/>
<text x="405.5" y="211.8" font-size="9.9" font-weight="bold" text-anchor="middle" fill="#000" transform="rotate(-90 405.5 211.8)" textLength="101.8" lengthAdjust="spacingAndGlyphs" >Removal efficiency (%)</text>
<text x="395.4" y="151.3" font-size="14.5" font-weight="bold" text-anchor="start" fill="#000" >(f)</text>
<text x="437.5" y="275.7" font-size="7"  text-anchor="middle" fill="#000" stroke="#000" stroke-width="0.18">1</text>
<text x="467.8" y="275.7" font-size="7"  text-anchor="middle" fill="#000" stroke="#000" stroke-width="0.18">2</text>
<text x="498.1" y="275.7" font-size="7"  text-anchor="middle" fill="#000" stroke="#000" stroke-width="0.18">3</text>
<text x="528.4" y="275.7" font-size="7"  text-anchor="middle" fill="#000" stroke="#000" stroke-width="0.18">4</text>
<text x="558.7" y="275.7" font-size="7"  text-anchor="middle" fill="#000" stroke="#000" stroke-width="0.18">5</text>
<text x="498" y="283.7" font-size="7.3" font-weight="bold" text-anchor="middle" fill="#000" textLength="53" lengthAdjust="spacingAndGlyphs" >Cycle (number)</text>
<rect x="612.7" y="153.6" width="150.2" height="112.5" fill="none" stroke="#222" stroke-width="1"/>
<path d="M612.7 258.7h-2.6" stroke="#222" stroke-width="0.9"/>
<text x="609.1" y="261.2" font-size="7"  text-anchor="end" fill="#000" stroke="#000" stroke-width="0.18">0</text>
<path d="M612.7 230.77h-2.6" stroke="#222" stroke-width="0.9"/>
<text x="609.1" y="233.27" font-size="7"  text-anchor="end" fill="#000" stroke="#000" stroke-width="0.18">10</text>
<path d="M612.7 202.83h-2.6" stroke="#222" stroke-width="0.9"/>
<text x="609.1" y="205.33" font-size="7"  text-anchor="end" fill="#000" stroke="#000" stroke-width="0.18">20</text>
<path d="M612.7 174.9h-2.6" stroke="#222" stroke-width="0.9"/>
<text x="609.1" y="177.4" font-size="7"  text-anchor="end" fill="#000" stroke="#000" stroke-width="0.18">30</text>
<path d="M612.7 244.73h-1.5" stroke="#222" stroke-width="0.7"/>
<path d="M612.7 216.8h-1.5" stroke="#222" stroke-width="0.7"/>
<path d="M612.7 188.87h-1.5" stroke="#222" stroke-width="0.7"/>
<path d="M612.7 160.93h-1.5" stroke="#222" stroke-width="0.7"/>
<path d="M625.1 266.1v-2.4" stroke="#222" stroke-width="0.9"/>
<path d="M650.2 266.1v-2.4" stroke="#222" stroke-width="0.9"/>
<path d="M675.3 266.1v-2.4" stroke="#222" stroke-width="0.9"/>
<path d="M700.4 266.1v-2.4" stroke="#222" stroke-width="0.9"/>
<path d="M725.5 266.1v-2.4" stroke="#222" stroke-width="0.9"/>
<path d="M750.6 266.1v-2.4" stroke="#222" stroke-width="0.9"/>
<path d="M637.6 266.1v-1.4" stroke="#222" stroke-width="0.8"/>
<path d="M662.7 266.1v-1.4" stroke="#222" stroke-width="0.8"/>
<path d="M687.8 266.1v-1.4" stroke="#222" stroke-width="0.8"/>
<path d="M712.9 266.1v-1.4" stroke="#222" stroke-width="0.8"/>
<path d="M738 266.1v-1.4" stroke="#222" stroke-width="0.8"/>
<path d="M625.1 252.7V253.3M620.25 252.7h9.7M620.25 253.3h9.7" stroke="#f01010" stroke-width="1.3" fill="none"/>
<circle cx="625.1" cy="253" r="2.5" fill="#f00a0a"/>
<path d="M650.1 182.5V190.4M645.25 182.5h9.7M645.25 190.4h9.7" stroke="#f01010" stroke-width="1.3" fill="none"/>
<circle cx="650.1" cy="186.7" r="2.5" fill="#f00a0a"/>
<path d="M675.4 164.6V169M670.55 164.6h9.7M670.55 169h9.7" stroke="#f01010" stroke-width="1.3" fill="none"/>
<circle cx="675.4" cy="166.9" r="2.5" fill="#f00a0a"/>
<path d="M700.4 164.1V191.7M695.55 164.1h9.7M695.55 191.7h9.7" stroke="#f01010" stroke-width="1.3" fill="none"/>
<circle cx="700.4" cy="178" r="2.5" fill="#f00a0a"/>
<path d="M725.9 180.2V191.7M721.05 180.2h9.7M721.05 191.7h9.7" stroke="#f01010" stroke-width="1.3" fill="none"/>
<circle cx="725.9" cy="185.9" r="2.5" fill="#f00a0a"/>
<path d="M750.8 209V219.4M745.95 209h9.7M745.95 219.4h9.7" stroke="#f01010" stroke-width="1.3" fill="none"/>
<circle cx="750.8" cy="214.9" r="2.5" fill="#f00a0a"/>
<text x="597" y="210.3" font-size="10" font-weight="bold" text-anchor="middle" fill="#000" transform="rotate(-90 597 210.3)" textLength="100.8" lengthAdjust="spacingAndGlyphs" >Tensile Strength (MPa)</text>
<text x="581.7" y="150.2" font-size="14.5" font-weight="bold" text-anchor="start" fill="#000" >(g)</text>
<text x="624" y="270.79" font-size="5.8" font-weight="bold" stroke="#000" stroke-width="0.22" text-anchor="middle" transform="rotate(-45 624 268.7)" textLength="23" lengthAdjust="spacingAndGlyphs">Com PP</text>
<text x="648.2" y="276.89" font-size="5.8" font-weight="bold" stroke="#000" stroke-width="0.22" text-anchor="middle" transform="rotate(-45 648.2 274.8)" textLength="8" lengthAdjust="spacingAndGlyphs">CF</text>
<text x="674.5" y="270.39" font-size="5.8" font-weight="bold" stroke="#000" stroke-width="0.22" text-anchor="middle" transform="rotate(-45 674.5 268.3)" textLength="32.6" lengthAdjust="spacingAndGlyphs">f-CNF@CF-1</text>
<text x="699.8" y="270.39" font-size="5.8" font-weight="bold" stroke="#000" stroke-width="0.22" text-anchor="middle" transform="rotate(-45 699.8 268.3)" textLength="32.6" lengthAdjust="spacingAndGlyphs">f-CNF@CF-2</text>
<text x="725" y="270.39" font-size="5.8" font-weight="bold" stroke="#000" stroke-width="0.22" text-anchor="middle" transform="rotate(-45 725 268.3)" textLength="32.6" lengthAdjust="spacingAndGlyphs">f-CNF@CF-3</text>
<text x="750.1" y="270.39" font-size="5.8" font-weight="bold" stroke="#000" stroke-width="0.22" text-anchor="middle" transform="rotate(-45 750.1 268.3)" textLength="32.6" lengthAdjust="spacingAndGlyphs">f-CNF@CF-4</text>
</svg>
</body></html>
